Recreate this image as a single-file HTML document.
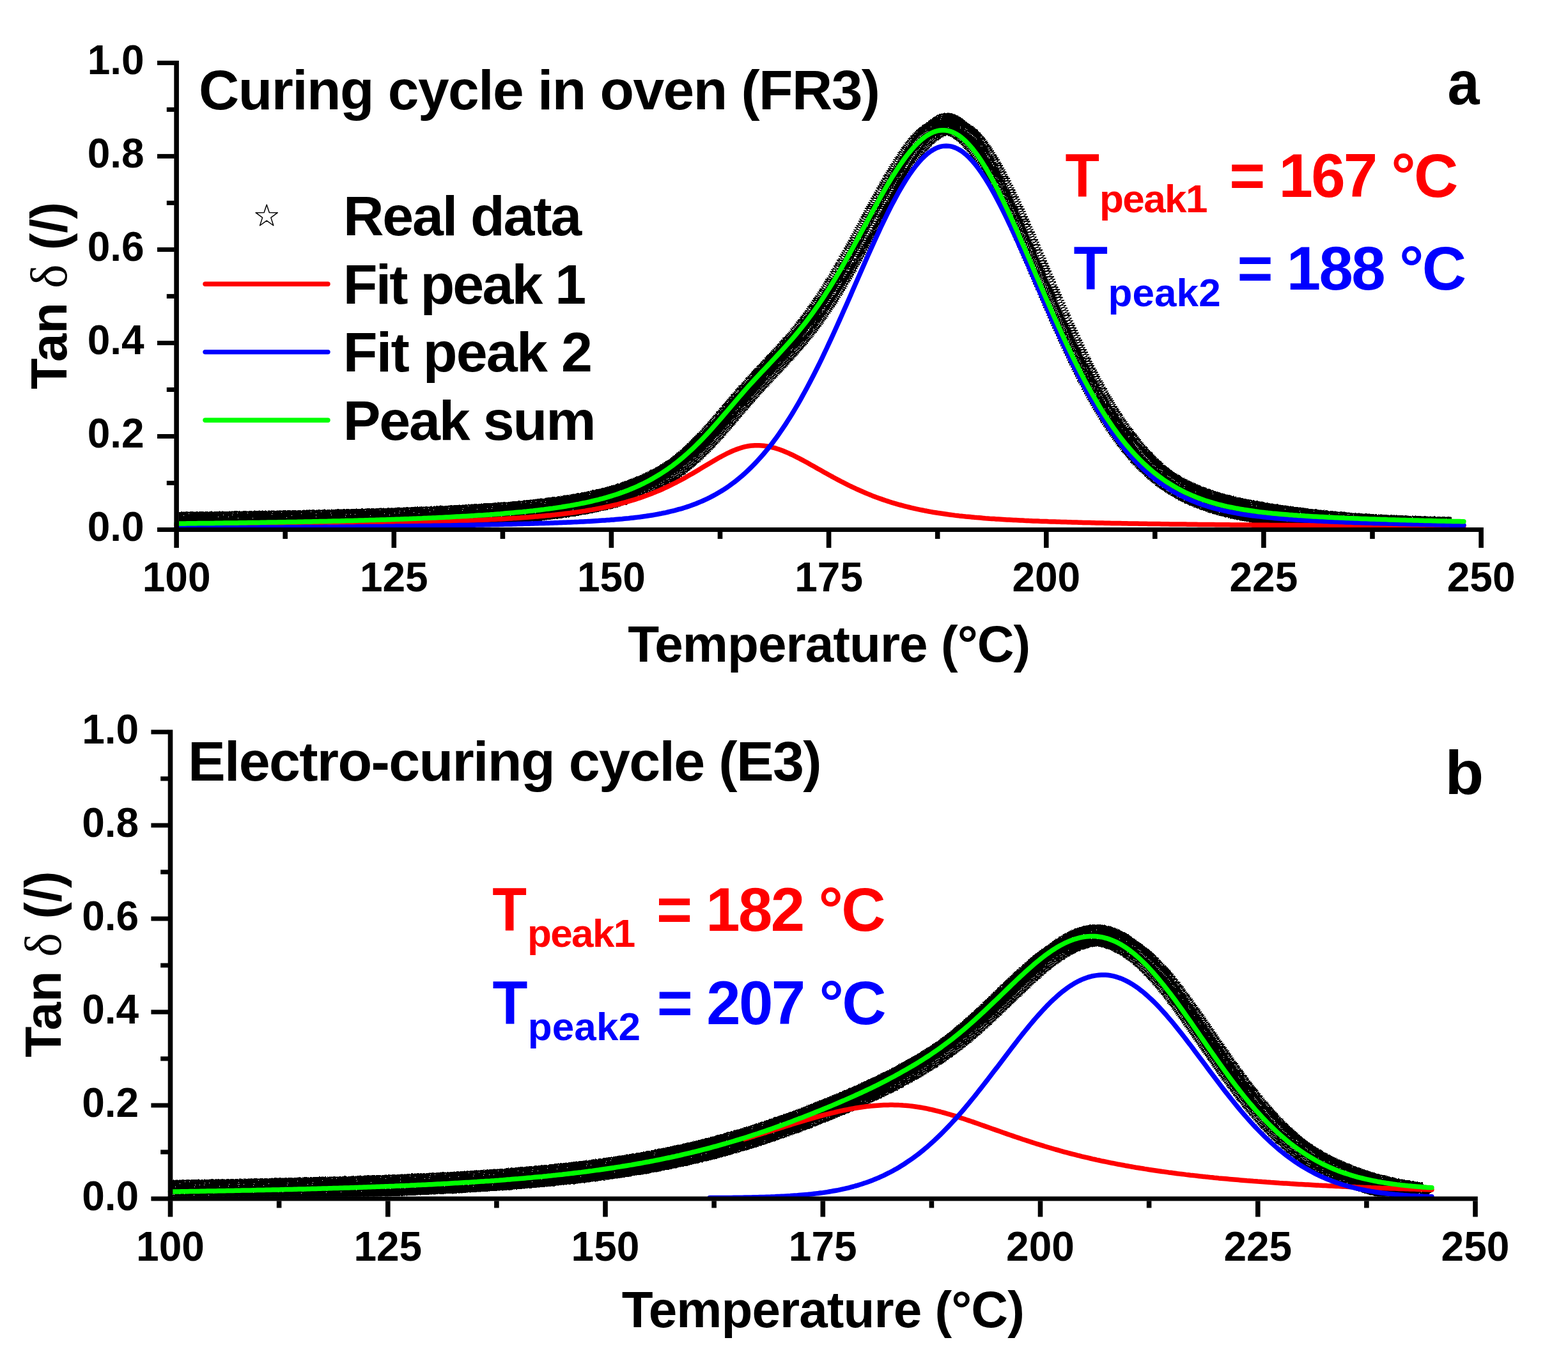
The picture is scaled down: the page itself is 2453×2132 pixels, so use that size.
<!DOCTYPE html><html><head><meta charset="utf-8"><title>Tan delta curing cycles</title><style>html,body{margin:0;padding:0;background:#fff}svg{display:block}</style></head><body>
<svg xmlns="http://www.w3.org/2000/svg" xmlns:xlink="http://www.w3.org/1999/xlink" width="2453" height="2132" viewBox="0 0 2453 2132">
<rect width="2453" height="2132" fill="#fff"/>
<defs><path id="st" d="M0.00,-18.00 L4.11,-5.66 L17.12,-5.56 L6.66,2.16 L10.58,14.56 L0.00,7.00 L-10.58,14.56 L-6.66,2.16 L-17.12,-5.56 L-4.11,-5.66 Z" fill="none" stroke="#000" stroke-width="1.5" stroke-linejoin="round"/>
<clipPath id="ca"><rect x="280" y="60" width="2009" height="765"/></clipPath>
<clipPath id="cb"><rect x="270" y="1100" width="1972" height="771.5"/></clipPath>
</defs>
<g clip-path="url(#ca)" shape-rendering="crispEdges">
<use xlink:href="#st" x="276.1" y="818.7"/>
<use xlink:href="#st" x="277.9" y="819"/>
<use xlink:href="#st" x="279.6" y="819"/>
<use xlink:href="#st" x="281.4" y="819.4"/>
<use xlink:href="#st" x="283.2" y="819.1"/>
<use xlink:href="#st" x="284.9" y="819.1"/>
<use xlink:href="#st" x="286.7" y="819"/>
<use xlink:href="#st" x="288.5" y="819.1"/>
<use xlink:href="#st" x="290.3" y="818.9"/>
<use xlink:href="#st" x="292" y="819"/>
<use xlink:href="#st" x="293.8" y="819.2"/>
<use xlink:href="#st" x="295.6" y="818.7"/>
<use xlink:href="#st" x="297.3" y="818.7"/>
<use xlink:href="#st" x="299.1" y="818.5"/>
<use xlink:href="#st" x="300.9" y="818.8"/>
<use xlink:href="#st" x="302.6" y="818.9"/>
<use xlink:href="#st" x="304.4" y="818.9"/>
<use xlink:href="#st" x="306.2" y="819.1"/>
<use xlink:href="#st" x="307.9" y="818.5"/>
<use xlink:href="#st" x="309.7" y="819"/>
<use xlink:href="#st" x="311.5" y="819"/>
<use xlink:href="#st" x="313.2" y="818.7"/>
<use xlink:href="#st" x="315" y="818.3"/>
<use xlink:href="#st" x="316.8" y="818.6"/>
<use xlink:href="#st" x="318.6" y="818.8"/>
<use xlink:href="#st" x="320.3" y="818.8"/>
<use xlink:href="#st" x="322.1" y="818.4"/>
<use xlink:href="#st" x="323.9" y="818.6"/>
<use xlink:href="#st" x="325.6" y="818.7"/>
<use xlink:href="#st" x="327.4" y="818.6"/>
<use xlink:href="#st" x="329.2" y="818.3"/>
<use xlink:href="#st" x="330.9" y="818"/>
<use xlink:href="#st" x="332.7" y="818.7"/>
<use xlink:href="#st" x="334.5" y="818.6"/>
<use xlink:href="#st" x="336.2" y="818.6"/>
<use xlink:href="#st" x="338" y="818.9"/>
<use xlink:href="#st" x="339.8" y="818.6"/>
<use xlink:href="#st" x="341.5" y="818.6"/>
<use xlink:href="#st" x="343.3" y="818.1"/>
<use xlink:href="#st" x="345.1" y="818.3"/>
<use xlink:href="#st" x="346.9" y="818.6"/>
<use xlink:href="#st" x="348.6" y="818.1"/>
<use xlink:href="#st" x="350.4" y="818.3"/>
<use xlink:href="#st" x="352.2" y="818.6"/>
<use xlink:href="#st" x="353.9" y="818.3"/>
<use xlink:href="#st" x="355.7" y="818.3"/>
<use xlink:href="#st" x="357.5" y="818.3"/>
<use xlink:href="#st" x="359.2" y="818.1"/>
<use xlink:href="#st" x="361" y="818.6"/>
<use xlink:href="#st" x="362.8" y="818.1"/>
<use xlink:href="#st" x="364.5" y="817.8"/>
<use xlink:href="#st" x="366.3" y="817.8"/>
<use xlink:href="#st" x="368.1" y="817.8"/>
<use xlink:href="#st" x="369.8" y="817.7"/>
<use xlink:href="#st" x="371.6" y="817.6"/>
<use xlink:href="#st" x="373.4" y="818.2"/>
<use xlink:href="#st" x="375.2" y="817.7"/>
<use xlink:href="#st" x="376.9" y="818.3"/>
<use xlink:href="#st" x="378.7" y="818"/>
<use xlink:href="#st" x="380.5" y="818.2"/>
<use xlink:href="#st" x="382.2" y="817.6"/>
<use xlink:href="#st" x="384" y="817.5"/>
<use xlink:href="#st" x="385.8" y="817.8"/>
<use xlink:href="#st" x="387.5" y="817.3"/>
<use xlink:href="#st" x="389.3" y="817.8"/>
<use xlink:href="#st" x="391.1" y="817.6"/>
<use xlink:href="#st" x="392.8" y="817.6"/>
<use xlink:href="#st" x="394.6" y="817.9"/>
<use xlink:href="#st" x="396.4" y="817.5"/>
<use xlink:href="#st" x="398.2" y="817.1"/>
<use xlink:href="#st" x="399.9" y="817.8"/>
<use xlink:href="#st" x="401.7" y="817.3"/>
<use xlink:href="#st" x="403.5" y="817.5"/>
<use xlink:href="#st" x="405.2" y="817.1"/>
<use xlink:href="#st" x="407" y="817.3"/>
<use xlink:href="#st" x="408.8" y="817.3"/>
<use xlink:href="#st" x="410.5" y="817.2"/>
<use xlink:href="#st" x="412.3" y="817.3"/>
<use xlink:href="#st" x="414.1" y="817.6"/>
<use xlink:href="#st" x="415.8" y="817"/>
<use xlink:href="#st" x="417.6" y="817.6"/>
<use xlink:href="#st" x="419.4" y="817.2"/>
<use xlink:href="#st" x="421.1" y="817.1"/>
<use xlink:href="#st" x="422.9" y="817.4"/>
<use xlink:href="#st" x="424.7" y="817.1"/>
<use xlink:href="#st" x="426.5" y="816.9"/>
<use xlink:href="#st" x="428.2" y="817.1"/>
<use xlink:href="#st" x="430" y="817.3"/>
<use xlink:href="#st" x="431.8" y="817.7"/>
<use xlink:href="#st" x="433.5" y="817.2"/>
<use xlink:href="#st" x="435.3" y="817.1"/>
<use xlink:href="#st" x="437.1" y="817.1"/>
<use xlink:href="#st" x="438.8" y="817.1"/>
<use xlink:href="#st" x="440.6" y="816.8"/>
<use xlink:href="#st" x="442.4" y="817"/>
<use xlink:href="#st" x="444.1" y="816.8"/>
<use xlink:href="#st" x="445.9" y="816.6"/>
<use xlink:href="#st" x="447.7" y="817"/>
<use xlink:href="#st" x="449.4" y="816.8"/>
<use xlink:href="#st" x="451.2" y="816.2"/>
<use xlink:href="#st" x="453" y="816.5"/>
<use xlink:href="#st" x="454.8" y="816.9"/>
<use xlink:href="#st" x="456.5" y="816.6"/>
<use xlink:href="#st" x="458.3" y="816.5"/>
<use xlink:href="#st" x="460.1" y="816.3"/>
<use xlink:href="#st" x="461.8" y="816.5"/>
<use xlink:href="#st" x="463.6" y="816.6"/>
<use xlink:href="#st" x="465.4" y="816.6"/>
<use xlink:href="#st" x="467.1" y="816.3"/>
<use xlink:href="#st" x="468.9" y="816.3"/>
<use xlink:href="#st" x="470.7" y="816.5"/>
<use xlink:href="#st" x="472.4" y="816.4"/>
<use xlink:href="#st" x="474.2" y="816.4"/>
<use xlink:href="#st" x="476" y="816.1"/>
<use xlink:href="#st" x="477.8" y="816.4"/>
<use xlink:href="#st" x="479.5" y="816.1"/>
<use xlink:href="#st" x="481.3" y="816"/>
<use xlink:href="#st" x="483.1" y="816"/>
<use xlink:href="#st" x="484.8" y="816.2"/>
<use xlink:href="#st" x="486.6" y="815.7"/>
<use xlink:href="#st" x="488.4" y="816.1"/>
<use xlink:href="#st" x="490.1" y="815.9"/>
<use xlink:href="#st" x="491.9" y="816.1"/>
<use xlink:href="#st" x="493.7" y="816.3"/>
<use xlink:href="#st" x="495.4" y="815.8"/>
<use xlink:href="#st" x="497.2" y="815.8"/>
<use xlink:href="#st" x="499" y="815.8"/>
<use xlink:href="#st" x="500.7" y="815.7"/>
<use xlink:href="#st" x="502.5" y="815.8"/>
<use xlink:href="#st" x="504.3" y="815.8"/>
<use xlink:href="#st" x="506.1" y="815.7"/>
<use xlink:href="#st" x="507.8" y="815.2"/>
<use xlink:href="#st" x="509.6" y="815.4"/>
<use xlink:href="#st" x="511.4" y="815.6"/>
<use xlink:href="#st" x="513.1" y="815.3"/>
<use xlink:href="#st" x="514.9" y="815.5"/>
<use xlink:href="#st" x="516.7" y="815.5"/>
<use xlink:href="#st" x="518.4" y="815.2"/>
<use xlink:href="#st" x="520.2" y="815.4"/>
<use xlink:href="#st" x="522" y="815.6"/>
<use xlink:href="#st" x="523.7" y="815.4"/>
<use xlink:href="#st" x="525.5" y="815.2"/>
<use xlink:href="#st" x="527.3" y="815.1"/>
<use xlink:href="#st" x="529" y="814.8"/>
<use xlink:href="#st" x="530.8" y="815.2"/>
<use xlink:href="#st" x="532.6" y="814.9"/>
<use xlink:href="#st" x="534.4" y="814.9"/>
<use xlink:href="#st" x="536.1" y="815"/>
<use xlink:href="#st" x="537.9" y="814.7"/>
<use xlink:href="#st" x="539.7" y="814.7"/>
<use xlink:href="#st" x="541.4" y="815"/>
<use xlink:href="#st" x="543.2" y="814.5"/>
<use xlink:href="#st" x="545" y="815"/>
<use xlink:href="#st" x="546.7" y="814.7"/>
<use xlink:href="#st" x="548.5" y="814.6"/>
<use xlink:href="#st" x="550.3" y="814.5"/>
<use xlink:href="#st" x="552" y="814.7"/>
<use xlink:href="#st" x="553.8" y="814.5"/>
<use xlink:href="#st" x="555.6" y="814.5"/>
<use xlink:href="#st" x="557.3" y="814.2"/>
<use xlink:href="#st" x="559.1" y="814.5"/>
<use xlink:href="#st" x="560.9" y="814.3"/>
<use xlink:href="#st" x="562.7" y="814.3"/>
<use xlink:href="#st" x="564.4" y="814.5"/>
<use xlink:href="#st" x="566.2" y="813.6"/>
<use xlink:href="#st" x="568" y="814.1"/>
<use xlink:href="#st" x="569.7" y="814.4"/>
<use xlink:href="#st" x="571.5" y="813.7"/>
<use xlink:href="#st" x="573.3" y="814.2"/>
<use xlink:href="#st" x="575" y="813.8"/>
<use xlink:href="#st" x="576.8" y="813.7"/>
<use xlink:href="#st" x="578.6" y="814"/>
<use xlink:href="#st" x="580.3" y="813.9"/>
<use xlink:href="#st" x="582.1" y="813.8"/>
<use xlink:href="#st" x="583.9" y="813.7"/>
<use xlink:href="#st" x="585.7" y="814"/>
<use xlink:href="#st" x="587.4" y="813.8"/>
<use xlink:href="#st" x="589.2" y="813.5"/>
<use xlink:href="#st" x="591" y="813.2"/>
<use xlink:href="#st" x="592.7" y="813.3"/>
<use xlink:href="#st" x="594.5" y="813"/>
<use xlink:href="#st" x="596.3" y="813.1"/>
<use xlink:href="#st" x="598" y="813.4"/>
<use xlink:href="#st" x="599.8" y="813.2"/>
<use xlink:href="#st" x="601.6" y="813.6"/>
<use xlink:href="#st" x="603.3" y="813.3"/>
<use xlink:href="#st" x="605.1" y="813.2"/>
<use xlink:href="#st" x="606.9" y="812.9"/>
<use xlink:href="#st" x="608.6" y="812.8"/>
<use xlink:href="#st" x="610.4" y="813"/>
<use xlink:href="#st" x="612.2" y="812.9"/>
<use xlink:href="#st" x="614" y="813.1"/>
<use xlink:href="#st" x="615.7" y="812.7"/>
<use xlink:href="#st" x="617.5" y="812.6"/>
<use xlink:href="#st" x="619.3" y="812.5"/>
<use xlink:href="#st" x="621" y="812.7"/>
<use xlink:href="#st" x="622.8" y="812"/>
<use xlink:href="#st" x="624.6" y="812.1"/>
<use xlink:href="#st" x="626.3" y="812.3"/>
<use xlink:href="#st" x="628.1" y="812.4"/>
<use xlink:href="#st" x="629.9" y="812.3"/>
<use xlink:href="#st" x="631.6" y="812.1"/>
<use xlink:href="#st" x="633.4" y="812.1"/>
<use xlink:href="#st" x="635.2" y="811.9"/>
<use xlink:href="#st" x="636.9" y="811.8"/>
<use xlink:href="#st" x="638.7" y="811.6"/>
<use xlink:href="#st" x="640.5" y="811.6"/>
<use xlink:href="#st" x="642.3" y="811.8"/>
<use xlink:href="#st" x="644" y="811.6"/>
<use xlink:href="#st" x="645.8" y="811.7"/>
<use xlink:href="#st" x="647.6" y="811.7"/>
<use xlink:href="#st" x="649.3" y="811.1"/>
<use xlink:href="#st" x="651.1" y="811.5"/>
<use xlink:href="#st" x="652.9" y="810.9"/>
<use xlink:href="#st" x="654.6" y="811.3"/>
<use xlink:href="#st" x="656.4" y="811.1"/>
<use xlink:href="#st" x="658.2" y="810.9"/>
<use xlink:href="#st" x="659.9" y="811"/>
<use xlink:href="#st" x="661.7" y="810.9"/>
<use xlink:href="#st" x="663.5" y="811"/>
<use xlink:href="#st" x="665.3" y="810.9"/>
<use xlink:href="#st" x="667" y="810.8"/>
<use xlink:href="#st" x="668.8" y="810.8"/>
<use xlink:href="#st" x="670.6" y="810.3"/>
<use xlink:href="#st" x="672.3" y="810.6"/>
<use xlink:href="#st" x="674.1" y="810.1"/>
<use xlink:href="#st" x="675.9" y="811"/>
<use xlink:href="#st" x="677.6" y="810.3"/>
<use xlink:href="#st" x="679.4" y="810.1"/>
<use xlink:href="#st" x="681.2" y="810.2"/>
<use xlink:href="#st" x="682.9" y="809.8"/>
<use xlink:href="#st" x="684.7" y="809.9"/>
<use xlink:href="#st" x="686.5" y="810"/>
<use xlink:href="#st" x="688.2" y="809.7"/>
<use xlink:href="#st" x="690" y="809.1"/>
<use xlink:href="#st" x="691.8" y="809.6"/>
<use xlink:href="#st" x="693.6" y="809.5"/>
<use xlink:href="#st" x="695.3" y="809.6"/>
<use xlink:href="#st" x="697.1" y="809.4"/>
<use xlink:href="#st" x="698.9" y="809.6"/>
<use xlink:href="#st" x="700.6" y="809.3"/>
<use xlink:href="#st" x="702.4" y="808.6"/>
<use xlink:href="#st" x="704.2" y="808.8"/>
<use xlink:href="#st" x="705.9" y="808.8"/>
<use xlink:href="#st" x="707.7" y="808.6"/>
<use xlink:href="#st" x="709.5" y="808.4"/>
<use xlink:href="#st" x="711.2" y="808.6"/>
<use xlink:href="#st" x="713" y="808.2"/>
<use xlink:href="#st" x="714.8" y="808.3"/>
<use xlink:href="#st" x="716.5" y="808.4"/>
<use xlink:href="#st" x="718.3" y="808"/>
<use xlink:href="#st" x="720.1" y="808.8"/>
<use xlink:href="#st" x="721.9" y="808.3"/>
<use xlink:href="#st" x="723.6" y="808"/>
<use xlink:href="#st" x="725.4" y="808.1"/>
<use xlink:href="#st" x="727.2" y="807.9"/>
<use xlink:href="#st" x="728.9" y="807.9"/>
<use xlink:href="#st" x="730.7" y="807.8"/>
<use xlink:href="#st" x="732.5" y="807"/>
<use xlink:href="#st" x="734.2" y="807.3"/>
<use xlink:href="#st" x="736" y="807.4"/>
<use xlink:href="#st" x="737.8" y="806.9"/>
<use xlink:href="#st" x="739.5" y="807.2"/>
<use xlink:href="#st" x="741.3" y="806.8"/>
<use xlink:href="#st" x="743.1" y="806.8"/>
<use xlink:href="#st" x="744.8" y="806.5"/>
<use xlink:href="#st" x="746.6" y="807"/>
<use xlink:href="#st" x="748.4" y="806.4"/>
<use xlink:href="#st" x="750.2" y="806.5"/>
<use xlink:href="#st" x="751.9" y="806.6"/>
<use xlink:href="#st" x="753.7" y="806"/>
<use xlink:href="#st" x="755.5" y="806.3"/>
<use xlink:href="#st" x="757.2" y="805.7"/>
<use xlink:href="#st" x="759" y="805.8"/>
<use xlink:href="#st" x="760.8" y="805.6"/>
<use xlink:href="#st" x="762.5" y="805.6"/>
<use xlink:href="#st" x="764.3" y="805.3"/>
<use xlink:href="#st" x="766.1" y="805.8"/>
<use xlink:href="#st" x="767.8" y="805.3"/>
<use xlink:href="#st" x="769.6" y="805.3"/>
<use xlink:href="#st" x="771.4" y="805"/>
<use xlink:href="#st" x="773.2" y="804.9"/>
<use xlink:href="#st" x="774.9" y="804.7"/>
<use xlink:href="#st" x="776.7" y="804.8"/>
<use xlink:href="#st" x="778.5" y="804.1"/>
<use xlink:href="#st" x="780.2" y="803.9"/>
<use xlink:href="#st" x="782" y="804.3"/>
<use xlink:href="#st" x="783.8" y="804.1"/>
<use xlink:href="#st" x="785.5" y="803.9"/>
<use xlink:href="#st" x="787.3" y="803.6"/>
<use xlink:href="#st" x="789.1" y="803.3"/>
<use xlink:href="#st" x="790.8" y="803.8"/>
<use xlink:href="#st" x="792.6" y="803.6"/>
<use xlink:href="#st" x="794.4" y="803.5"/>
<use xlink:href="#st" x="796.1" y="803.4"/>
<use xlink:href="#st" x="797.9" y="803.4"/>
<use xlink:href="#st" x="799.7" y="802.8"/>
<use xlink:href="#st" x="801.5" y="803"/>
<use xlink:href="#st" x="803.2" y="802.2"/>
<use xlink:href="#st" x="805" y="802.2"/>
<use xlink:href="#st" x="806.8" y="802.5"/>
<use xlink:href="#st" x="808.5" y="802.3"/>
<use xlink:href="#st" x="810.3" y="802.1"/>
<use xlink:href="#st" x="812.1" y="801.5"/>
<use xlink:href="#st" x="813.8" y="801.8"/>
<use xlink:href="#st" x="815.6" y="801.8"/>
<use xlink:href="#st" x="817.4" y="801.3"/>
<use xlink:href="#st" x="819.1" y="801"/>
<use xlink:href="#st" x="820.9" y="801.1"/>
<use xlink:href="#st" x="822.7" y="800.4"/>
<use xlink:href="#st" x="824.4" y="800.5"/>
<use xlink:href="#st" x="826.2" y="800.3"/>
<use xlink:href="#st" x="828" y="800.4"/>
<use xlink:href="#st" x="829.8" y="800.1"/>
<use xlink:href="#st" x="831.5" y="799.9"/>
<use xlink:href="#st" x="833.3" y="800.2"/>
<use xlink:href="#st" x="835.1" y="799.4"/>
<use xlink:href="#st" x="836.8" y="799.7"/>
<use xlink:href="#st" x="838.6" y="799.1"/>
<use xlink:href="#st" x="840.4" y="799.2"/>
<use xlink:href="#st" x="842.1" y="798.3"/>
<use xlink:href="#st" x="843.9" y="798.4"/>
<use xlink:href="#st" x="845.7" y="798.1"/>
<use xlink:href="#st" x="847.4" y="797.9"/>
<use xlink:href="#st" x="849.2" y="798.2"/>
<use xlink:href="#st" x="851" y="798.2"/>
<use xlink:href="#st" x="852.8" y="797.6"/>
<use xlink:href="#st" x="854.5" y="797.1"/>
<use xlink:href="#st" x="856.3" y="797"/>
<use xlink:href="#st" x="858.1" y="796.7"/>
<use xlink:href="#st" x="859.8" y="796.4"/>
<use xlink:href="#st" x="861.6" y="796.7"/>
<use xlink:href="#st" x="863.4" y="796.1"/>
<use xlink:href="#st" x="865.1" y="795.5"/>
<use xlink:href="#st" x="866.9" y="795.8"/>
<use xlink:href="#st" x="868.7" y="795.9"/>
<use xlink:href="#st" x="870.4" y="795.3"/>
<use xlink:href="#st" x="872.2" y="795.1"/>
<use xlink:href="#st" x="874" y="794.6"/>
<use xlink:href="#st" x="875.7" y="794.7"/>
<use xlink:href="#st" x="877.5" y="794.2"/>
<use xlink:href="#st" x="879.3" y="794.4"/>
<use xlink:href="#st" x="881.1" y="793.5"/>
<use xlink:href="#st" x="882.8" y="793.1"/>
<use xlink:href="#st" x="884.6" y="792.9"/>
<use xlink:href="#st" x="886.4" y="793.2"/>
<use xlink:href="#st" x="888.1" y="792.5"/>
<use xlink:href="#st" x="889.9" y="793"/>
<use xlink:href="#st" x="891.7" y="792"/>
<use xlink:href="#st" x="893.4" y="791.7"/>
<use xlink:href="#st" x="895.2" y="791.7"/>
<use xlink:href="#st" x="897" y="791.1"/>
<use xlink:href="#st" x="898.7" y="790.8"/>
<use xlink:href="#st" x="900.5" y="790.3"/>
<use xlink:href="#st" x="902.3" y="790.2"/>
<use xlink:href="#st" x="904" y="789.8"/>
<use xlink:href="#st" x="905.8" y="790"/>
<use xlink:href="#st" x="907.6" y="789.5"/>
<use xlink:href="#st" x="909.4" y="789"/>
<use xlink:href="#st" x="911.1" y="788.5"/>
<use xlink:href="#st" x="912.9" y="788.2"/>
<use xlink:href="#st" x="914.7" y="787.6"/>
<use xlink:href="#st" x="916.4" y="787.7"/>
<use xlink:href="#st" x="918.2" y="787.2"/>
<use xlink:href="#st" x="920" y="786.8"/>
<use xlink:href="#st" x="921.7" y="786.5"/>
<use xlink:href="#st" x="923.5" y="786"/>
<use xlink:href="#st" x="925.3" y="785.8"/>
<use xlink:href="#st" x="927" y="785"/>
<use xlink:href="#st" x="928.8" y="785"/>
<use xlink:href="#st" x="930.6" y="784.3"/>
<use xlink:href="#st" x="932.3" y="784.1"/>
<use xlink:href="#st" x="934.1" y="783.4"/>
<use xlink:href="#st" x="935.9" y="783.6"/>
<use xlink:href="#st" x="937.7" y="782.7"/>
<use xlink:href="#st" x="939.4" y="782.5"/>
<use xlink:href="#st" x="941.2" y="781.9"/>
<use xlink:href="#st" x="943" y="781.3"/>
<use xlink:href="#st" x="944.7" y="781.3"/>
<use xlink:href="#st" x="946.5" y="780.9"/>
<use xlink:href="#st" x="948.3" y="780.4"/>
<use xlink:href="#st" x="950" y="779.6"/>
<use xlink:href="#st" x="951.8" y="779.6"/>
<use xlink:href="#st" x="953.6" y="778.7"/>
<use xlink:href="#st" x="955.3" y="778.5"/>
<use xlink:href="#st" x="957.1" y="777.9"/>
<use xlink:href="#st" x="958.9" y="777.3"/>
<use xlink:href="#st" x="960.7" y="776.6"/>
<use xlink:href="#st" x="962.4" y="776.3"/>
<use xlink:href="#st" x="964.2" y="775.7"/>
<use xlink:href="#st" x="966" y="775"/>
<use xlink:href="#st" x="967.7" y="774.5"/>
<use xlink:href="#st" x="969.5" y="774.5"/>
<use xlink:href="#st" x="971.3" y="773.4"/>
<use xlink:href="#st" x="973" y="772.7"/>
<use xlink:href="#st" x="974.8" y="771.9"/>
<use xlink:href="#st" x="976.6" y="771.1"/>
<use xlink:href="#st" x="978.3" y="770.7"/>
<use xlink:href="#st" x="980.1" y="770.2"/>
<use xlink:href="#st" x="981.9" y="769.8"/>
<use xlink:href="#st" x="983.6" y="768.9"/>
<use xlink:href="#st" x="985.4" y="768.1"/>
<use xlink:href="#st" x="987.2" y="767.4"/>
<use xlink:href="#st" x="989" y="767.1"/>
<use xlink:href="#st" x="990.7" y="766.2"/>
<use xlink:href="#st" x="992.5" y="765.4"/>
<use xlink:href="#st" x="994.3" y="764.4"/>
<use xlink:href="#st" x="996" y="764"/>
<use xlink:href="#st" x="997.8" y="763.5"/>
<use xlink:href="#st" x="999.6" y="762.7"/>
<use xlink:href="#st" x="1001.3" y="761.9"/>
<use xlink:href="#st" x="1003.1" y="761.2"/>
<use xlink:href="#st" x="1004.9" y="760"/>
<use xlink:href="#st" x="1006.6" y="759.2"/>
<use xlink:href="#st" x="1008.4" y="758.4"/>
<use xlink:href="#st" x="1010.2" y="757.5"/>
<use xlink:href="#st" x="1011.9" y="757"/>
<use xlink:href="#st" x="1013.7" y="756"/>
<use xlink:href="#st" x="1015.5" y="755.2"/>
<use xlink:href="#st" x="1017.3" y="754.2"/>
<use xlink:href="#st" x="1019" y="753.1"/>
<use xlink:href="#st" x="1020.8" y="752.4"/>
<use xlink:href="#st" x="1022.6" y="751.9"/>
<use xlink:href="#st" x="1024.3" y="750.6"/>
<use xlink:href="#st" x="1026.1" y="749.7"/>
<use xlink:href="#st" x="1027.9" y="748.9"/>
<use xlink:href="#st" x="1029.6" y="747.7"/>
<use xlink:href="#st" x="1031.4" y="746.3"/>
<use xlink:href="#st" x="1033.2" y="745.1"/>
<use xlink:href="#st" x="1034.9" y="744.5"/>
<use xlink:href="#st" x="1036.7" y="743.1"/>
<use xlink:href="#st" x="1038.5" y="742"/>
<use xlink:href="#st" x="1040.3" y="741.4"/>
<use xlink:href="#st" x="1042" y="740"/>
<use xlink:href="#st" x="1043.8" y="738.9"/>
<use xlink:href="#st" x="1045.6" y="737.7"/>
<use xlink:href="#st" x="1047.3" y="736.9"/>
<use xlink:href="#st" x="1049.1" y="735.4"/>
<use xlink:href="#st" x="1050.9" y="733.9"/>
<use xlink:href="#st" x="1052.6" y="732.6"/>
<use xlink:href="#st" x="1054.4" y="731.2"/>
<use xlink:href="#st" x="1056.2" y="730.4"/>
<use xlink:href="#st" x="1057.9" y="728.6"/>
<use xlink:href="#st" x="1059.7" y="727.6"/>
<use xlink:href="#st" x="1061.5" y="726.7"/>
<use xlink:href="#st" x="1063.2" y="724.9"/>
<use xlink:href="#st" x="1065" y="723.8"/>
<use xlink:href="#st" x="1066.8" y="722.2"/>
<use xlink:href="#st" x="1068.6" y="720.9"/>
<use xlink:href="#st" x="1070.3" y="719.2"/>
<use xlink:href="#st" x="1072.1" y="717.9"/>
<use xlink:href="#st" x="1073.9" y="716.6"/>
<use xlink:href="#st" x="1075.6" y="714.8"/>
<use xlink:href="#st" x="1077.4" y="713.4"/>
<use xlink:href="#st" x="1079.2" y="712"/>
<use xlink:href="#st" x="1080.9" y="710.1"/>
<use xlink:href="#st" x="1082.7" y="708.9"/>
<use xlink:href="#st" x="1084.5" y="707.4"/>
<use xlink:href="#st" x="1086.2" y="705.7"/>
<use xlink:href="#st" x="1088" y="704.3"/>
<use xlink:href="#st" x="1089.8" y="702.4"/>
<use xlink:href="#st" x="1091.5" y="700.2"/>
<use xlink:href="#st" x="1093.3" y="699.1"/>
<use xlink:href="#st" x="1095.1" y="697.2"/>
<use xlink:href="#st" x="1096.9" y="695.7"/>
<use xlink:href="#st" x="1098.6" y="693.8"/>
<use xlink:href="#st" x="1100.4" y="691.6"/>
<use xlink:href="#st" x="1102.2" y="689.9"/>
<use xlink:href="#st" x="1103.9" y="688.5"/>
<use xlink:href="#st" x="1105.7" y="686.5"/>
<use xlink:href="#st" x="1107.5" y="684.8"/>
<use xlink:href="#st" x="1109.2" y="682.9"/>
<use xlink:href="#st" x="1111" y="681.1"/>
<use xlink:href="#st" x="1112.8" y="679.2"/>
<use xlink:href="#st" x="1114.5" y="677"/>
<use xlink:href="#st" x="1116.3" y="675"/>
<use xlink:href="#st" x="1118.1" y="673.1"/>
<use xlink:href="#st" x="1119.8" y="671.3"/>
<use xlink:href="#st" x="1121.6" y="669.6"/>
<use xlink:href="#st" x="1123.4" y="667.3"/>
<use xlink:href="#st" x="1125.2" y="665.5"/>
<use xlink:href="#st" x="1126.9" y="663.1"/>
<use xlink:href="#st" x="1128.7" y="661.2"/>
<use xlink:href="#st" x="1130.5" y="659.1"/>
<use xlink:href="#st" x="1132.2" y="657.3"/>
<use xlink:href="#st" x="1134" y="655.6"/>
<use xlink:href="#st" x="1135.8" y="652.9"/>
<use xlink:href="#st" x="1137.5" y="650.8"/>
<use xlink:href="#st" x="1139.3" y="649.3"/>
<use xlink:href="#st" x="1141.1" y="646.9"/>
<use xlink:href="#st" x="1142.8" y="644.6"/>
<use xlink:href="#st" x="1144.6" y="643"/>
<use xlink:href="#st" x="1146.4" y="640.3"/>
<use xlink:href="#st" x="1148.2" y="638.7"/>
<use xlink:href="#st" x="1149.9" y="636.8"/>
<use xlink:href="#st" x="1151.7" y="634.2"/>
<use xlink:href="#st" x="1153.5" y="632.3"/>
<use xlink:href="#st" x="1155.2" y="630.4"/>
<use xlink:href="#st" x="1157" y="628"/>
<use xlink:href="#st" x="1158.8" y="626.6"/>
<use xlink:href="#st" x="1160.5" y="623.7"/>
<use xlink:href="#st" x="1162.3" y="622.2"/>
<use xlink:href="#st" x="1164.1" y="619.9"/>
<use xlink:href="#st" x="1165.8" y="618"/>
<use xlink:href="#st" x="1167.6" y="615.8"/>
<use xlink:href="#st" x="1169.4" y="613.7"/>
<use xlink:href="#st" x="1171.1" y="612"/>
<use xlink:href="#st" x="1172.9" y="609.7"/>
<use xlink:href="#st" x="1174.7" y="607.9"/>
<use xlink:href="#st" x="1176.5" y="606"/>
<use xlink:href="#st" x="1178.2" y="603.9"/>
<use xlink:href="#st" x="1180" y="602.1"/>
<use xlink:href="#st" x="1181.8" y="600.1"/>
<use xlink:href="#st" x="1183.5" y="597.8"/>
<use xlink:href="#st" x="1185.3" y="596.1"/>
<use xlink:href="#st" x="1187.1" y="593.9"/>
<use xlink:href="#st" x="1188.8" y="592.1"/>
<use xlink:href="#st" x="1190.6" y="590.5"/>
<use xlink:href="#st" x="1192.4" y="588.8"/>
<use xlink:href="#st" x="1194.1" y="586.6"/>
<use xlink:href="#st" x="1195.9" y="584.6"/>
<use xlink:href="#st" x="1197.7" y="582.7"/>
<use xlink:href="#st" x="1199.4" y="581"/>
<use xlink:href="#st" x="1201.2" y="578.7"/>
<use xlink:href="#st" x="1203" y="577.5"/>
<use xlink:href="#st" x="1204.8" y="575.5"/>
<use xlink:href="#st" x="1206.5" y="573.3"/>
<use xlink:href="#st" x="1208.3" y="571"/>
<use xlink:href="#st" x="1210.1" y="569.5"/>
<use xlink:href="#st" x="1211.8" y="567.9"/>
<use xlink:href="#st" x="1213.6" y="565.7"/>
<use xlink:href="#st" x="1215.4" y="563.8"/>
<use xlink:href="#st" x="1217.1" y="561.8"/>
<use xlink:href="#st" x="1218.9" y="560.3"/>
<use xlink:href="#st" x="1220.7" y="558.4"/>
<use xlink:href="#st" x="1222.4" y="556.3"/>
<use xlink:href="#st" x="1224.2" y="554.4"/>
<use xlink:href="#st" x="1226" y="552.2"/>
<use xlink:href="#st" x="1227.8" y="550.2"/>
<use xlink:href="#st" x="1229.5" y="548.9"/>
<use xlink:href="#st" x="1231.3" y="546.9"/>
<use xlink:href="#st" x="1233.1" y="544.8"/>
<use xlink:href="#st" x="1234.8" y="542.9"/>
<use xlink:href="#st" x="1236.6" y="540.8"/>
<use xlink:href="#st" x="1238.4" y="538.8"/>
<use xlink:href="#st" x="1240.1" y="536.9"/>
<use xlink:href="#st" x="1241.9" y="534.6"/>
<use xlink:href="#st" x="1243.7" y="532.9"/>
<use xlink:href="#st" x="1245.4" y="531.1"/>
<use xlink:href="#st" x="1247.2" y="529.1"/>
<use xlink:href="#st" x="1249" y="526.9"/>
<use xlink:href="#st" x="1250.7" y="524.9"/>
<use xlink:href="#st" x="1252.5" y="522.9"/>
<use xlink:href="#st" x="1254.3" y="520.3"/>
<use xlink:href="#st" x="1256.1" y="518.2"/>
<use xlink:href="#st" x="1257.8" y="516.2"/>
<use xlink:href="#st" x="1259.6" y="514.1"/>
<use xlink:href="#st" x="1261.4" y="512"/>
<use xlink:href="#st" x="1263.1" y="509.6"/>
<use xlink:href="#st" x="1264.9" y="506.8"/>
<use xlink:href="#st" x="1266.7" y="505.4"/>
<use xlink:href="#st" x="1268.4" y="502.6"/>
<use xlink:href="#st" x="1270.2" y="500.1"/>
<use xlink:href="#st" x="1272" y="497.9"/>
<use xlink:href="#st" x="1273.7" y="495.6"/>
<use xlink:href="#st" x="1275.5" y="493"/>
<use xlink:href="#st" x="1277.3" y="491"/>
<use xlink:href="#st" x="1279" y="488.2"/>
<use xlink:href="#st" x="1280.8" y="485.5"/>
<use xlink:href="#st" x="1282.6" y="483.5"/>
<use xlink:href="#st" x="1284.4" y="481"/>
<use xlink:href="#st" x="1286.1" y="478.2"/>
<use xlink:href="#st" x="1287.9" y="475.4"/>
<use xlink:href="#st" x="1289.7" y="472.8"/>
<use xlink:href="#st" x="1291.4" y="470.3"/>
<use xlink:href="#st" x="1293.2" y="467.9"/>
<use xlink:href="#st" x="1295" y="465.3"/>
<use xlink:href="#st" x="1296.7" y="462.3"/>
<use xlink:href="#st" x="1298.5" y="459.6"/>
<use xlink:href="#st" x="1300.3" y="457.1"/>
<use xlink:href="#st" x="1302" y="454.1"/>
<use xlink:href="#st" x="1303.8" y="451.2"/>
<use xlink:href="#st" x="1305.6" y="448.2"/>
<use xlink:href="#st" x="1307.3" y="445.8"/>
<use xlink:href="#st" x="1309.1" y="442.6"/>
<use xlink:href="#st" x="1310.9" y="440.1"/>
<use xlink:href="#st" x="1312.7" y="437"/>
<use xlink:href="#st" x="1314.4" y="434"/>
<use xlink:href="#st" x="1316.2" y="430.7"/>
<use xlink:href="#st" x="1318" y="427.3"/>
<use xlink:href="#st" x="1319.7" y="424.9"/>
<use xlink:href="#st" x="1321.5" y="421.8"/>
<use xlink:href="#st" x="1323.3" y="418.7"/>
<use xlink:href="#st" x="1325" y="416.1"/>
<use xlink:href="#st" x="1326.8" y="412.6"/>
<use xlink:href="#st" x="1328.6" y="409.9"/>
<use xlink:href="#st" x="1330.3" y="406.2"/>
<use xlink:href="#st" x="1332.1" y="403.1"/>
<use xlink:href="#st" x="1333.9" y="400.1"/>
<use xlink:href="#st" x="1335.7" y="397.2"/>
<use xlink:href="#st" x="1337.4" y="393.5"/>
<use xlink:href="#st" x="1339.2" y="390.6"/>
<use xlink:href="#st" x="1341" y="387.4"/>
<use xlink:href="#st" x="1342.7" y="384.1"/>
<use xlink:href="#st" x="1344.5" y="381.4"/>
<use xlink:href="#st" x="1346.3" y="377.7"/>
<use xlink:href="#st" x="1348" y="374.3"/>
<use xlink:href="#st" x="1349.8" y="371.2"/>
<use xlink:href="#st" x="1351.6" y="368"/>
<use xlink:href="#st" x="1353.3" y="365"/>
<use xlink:href="#st" x="1355.1" y="361.3"/>
<use xlink:href="#st" x="1356.9" y="358.1"/>
<use xlink:href="#st" x="1358.6" y="354.9"/>
<use xlink:href="#st" x="1360.4" y="351.8"/>
<use xlink:href="#st" x="1362.2" y="348.2"/>
<use xlink:href="#st" x="1364" y="344.8"/>
<use xlink:href="#st" x="1365.7" y="341.7"/>
<use xlink:href="#st" x="1367.5" y="338.3"/>
<use xlink:href="#st" x="1369.3" y="334.9"/>
<use xlink:href="#st" x="1371" y="331.6"/>
<use xlink:href="#st" x="1372.8" y="328.6"/>
<use xlink:href="#st" x="1374.6" y="325.5"/>
<use xlink:href="#st" x="1376.3" y="322.3"/>
<use xlink:href="#st" x="1378.1" y="318.9"/>
<use xlink:href="#st" x="1379.9" y="315.6"/>
<use xlink:href="#st" x="1381.6" y="312.3"/>
<use xlink:href="#st" x="1383.4" y="309.4"/>
<use xlink:href="#st" x="1385.2" y="306.1"/>
<use xlink:href="#st" x="1386.9" y="303.1"/>
<use xlink:href="#st" x="1388.7" y="299.5"/>
<use xlink:href="#st" x="1390.5" y="296.7"/>
<use xlink:href="#st" x="1392.3" y="293.4"/>
<use xlink:href="#st" x="1394" y="290.5"/>
<use xlink:href="#st" x="1395.8" y="287.3"/>
<use xlink:href="#st" x="1397.6" y="284.4"/>
<use xlink:href="#st" x="1399.3" y="280.8"/>
<use xlink:href="#st" x="1401.1" y="278.1"/>
<use xlink:href="#st" x="1402.9" y="275.2"/>
<use xlink:href="#st" x="1404.6" y="272.4"/>
<use xlink:href="#st" x="1406.4" y="269.4"/>
<use xlink:href="#st" x="1408.2" y="266.2"/>
<use xlink:href="#st" x="1409.9" y="263.1"/>
<use xlink:href="#st" x="1411.7" y="260.9"/>
<use xlink:href="#st" x="1413.5" y="258"/>
<use xlink:href="#st" x="1415.3" y="255"/>
<use xlink:href="#st" x="1417" y="252.4"/>
<use xlink:href="#st" x="1418.8" y="249.9"/>
<use xlink:href="#st" x="1420.6" y="246.9"/>
<use xlink:href="#st" x="1422.3" y="244.1"/>
<use xlink:href="#st" x="1424.1" y="242.1"/>
<use xlink:href="#st" x="1425.9" y="239.2"/>
<use xlink:href="#st" x="1427.6" y="236.5"/>
<use xlink:href="#st" x="1429.4" y="234.1"/>
<use xlink:href="#st" x="1431.2" y="232"/>
<use xlink:href="#st" x="1432.9" y="229.1"/>
<use xlink:href="#st" x="1434.7" y="227.2"/>
<use xlink:href="#st" x="1436.5" y="225.3"/>
<use xlink:href="#st" x="1438.2" y="222.8"/>
<use xlink:href="#st" x="1440" y="221.1"/>
<use xlink:href="#st" x="1441.8" y="218.7"/>
<use xlink:href="#st" x="1443.6" y="217.2"/>
<use xlink:href="#st" x="1445.3" y="214.9"/>
<use xlink:href="#st" x="1447.1" y="213.4"/>
<use xlink:href="#st" x="1448.9" y="211.2"/>
<use xlink:href="#st" x="1450.6" y="209.7"/>
<use xlink:href="#st" x="1452.4" y="208.2"/>
<use xlink:href="#st" x="1454.2" y="206.7"/>
<use xlink:href="#st" x="1455.9" y="205.1"/>
<use xlink:href="#st" x="1457.7" y="204.4"/>
<use xlink:href="#st" x="1459.5" y="202.6"/>
<use xlink:href="#st" x="1461.2" y="201.5"/>
<use xlink:href="#st" x="1463" y="200.4"/>
<use xlink:href="#st" x="1464.8" y="199.3"/>
<use xlink:href="#st" x="1466.5" y="197.8"/>
<use xlink:href="#st" x="1468.3" y="197.8"/>
<use xlink:href="#st" x="1470.1" y="196.9"/>
<use xlink:href="#st" x="1471.9" y="196.5"/>
<use xlink:href="#st" x="1473.6" y="195.6"/>
<use xlink:href="#st" x="1475.4" y="196"/>
<use xlink:href="#st" x="1477.2" y="194.9"/>
<use xlink:href="#st" x="1478.9" y="195.2"/>
<use xlink:href="#st" x="1480.7" y="195.4"/>
<use xlink:href="#st" x="1482.5" y="195.2"/>
<use xlink:href="#st" x="1484.2" y="195.1"/>
<use xlink:href="#st" x="1486" y="195.2"/>
<use xlink:href="#st" x="1487.8" y="195.5"/>
<use xlink:href="#st" x="1489.5" y="195.7"/>
<use xlink:href="#st" x="1491.3" y="196.4"/>
<use xlink:href="#st" x="1493.1" y="197"/>
<use xlink:href="#st" x="1494.8" y="198.1"/>
<use xlink:href="#st" x="1496.6" y="198.4"/>
<use xlink:href="#st" x="1498.4" y="199.1"/>
<use xlink:href="#st" x="1500.2" y="200.5"/>
<use xlink:href="#st" x="1501.9" y="201.9"/>
<use xlink:href="#st" x="1503.7" y="202.9"/>
<use xlink:href="#st" x="1505.5" y="203.6"/>
<use xlink:href="#st" x="1507.2" y="205.4"/>
<use xlink:href="#st" x="1509" y="206.9"/>
<use xlink:href="#st" x="1510.8" y="208.5"/>
<use xlink:href="#st" x="1512.5" y="209.8"/>
<use xlink:href="#st" x="1514.3" y="211.8"/>
<use xlink:href="#st" x="1516.1" y="213.7"/>
<use xlink:href="#st" x="1517.8" y="215.8"/>
<use xlink:href="#st" x="1519.6" y="217.5"/>
<use xlink:href="#st" x="1521.4" y="219.3"/>
<use xlink:href="#st" x="1523.2" y="221.7"/>
<use xlink:href="#st" x="1524.9" y="223.7"/>
<use xlink:href="#st" x="1526.7" y="226.1"/>
<use xlink:href="#st" x="1528.5" y="228.5"/>
<use xlink:href="#st" x="1530.2" y="230.9"/>
<use xlink:href="#st" x="1532" y="233.4"/>
<use xlink:href="#st" x="1533.8" y="235.8"/>
<use xlink:href="#st" x="1535.5" y="238.5"/>
<use xlink:href="#st" x="1537.3" y="241.5"/>
<use xlink:href="#st" x="1539.1" y="244.1"/>
<use xlink:href="#st" x="1540.8" y="246.9"/>
<use xlink:href="#st" x="1542.6" y="249.7"/>
<use xlink:href="#st" x="1544.4" y="252.7"/>
<use xlink:href="#st" x="1546.1" y="255.6"/>
<use xlink:href="#st" x="1547.9" y="259.1"/>
<use xlink:href="#st" x="1549.7" y="261.8"/>
<use xlink:href="#st" x="1551.5" y="264.7"/>
<use xlink:href="#st" x="1553.2" y="268.5"/>
<use xlink:href="#st" x="1555" y="271.1"/>
<use xlink:href="#st" x="1556.8" y="274.7"/>
<use xlink:href="#st" x="1558.5" y="278.1"/>
<use xlink:href="#st" x="1560.3" y="281.8"/>
<use xlink:href="#st" x="1562.1" y="284.6"/>
<use xlink:href="#st" x="1563.8" y="288.5"/>
<use xlink:href="#st" x="1565.6" y="291.9"/>
<use xlink:href="#st" x="1567.4" y="295.2"/>
<use xlink:href="#st" x="1569.1" y="299.2"/>
<use xlink:href="#st" x="1570.9" y="302.8"/>
<use xlink:href="#st" x="1572.7" y="306.4"/>
<use xlink:href="#st" x="1574.4" y="309.9"/>
<use xlink:href="#st" x="1576.2" y="313.4"/>
<use xlink:href="#st" x="1578" y="317.2"/>
<use xlink:href="#st" x="1579.8" y="321"/>
<use xlink:href="#st" x="1581.5" y="325"/>
<use xlink:href="#st" x="1583.3" y="328.7"/>
<use xlink:href="#st" x="1585.1" y="332.7"/>
<use xlink:href="#st" x="1586.8" y="336"/>
<use xlink:href="#st" x="1588.6" y="340.3"/>
<use xlink:href="#st" x="1590.4" y="344.7"/>
<use xlink:href="#st" x="1592.1" y="348.5"/>
<use xlink:href="#st" x="1593.9" y="351.8"/>
<use xlink:href="#st" x="1595.7" y="356.5"/>
<use xlink:href="#st" x="1597.4" y="360.3"/>
<use xlink:href="#st" x="1599.2" y="364.1"/>
<use xlink:href="#st" x="1601" y="368.5"/>
<use xlink:href="#st" x="1602.7" y="372"/>
<use xlink:href="#st" x="1604.5" y="376"/>
<use xlink:href="#st" x="1606.3" y="380.6"/>
<use xlink:href="#st" x="1608.1" y="384.3"/>
<use xlink:href="#st" x="1609.8" y="388.8"/>
<use xlink:href="#st" x="1611.6" y="392.9"/>
<use xlink:href="#st" x="1613.4" y="396.8"/>
<use xlink:href="#st" x="1615.1" y="400.9"/>
<use xlink:href="#st" x="1616.9" y="405.2"/>
<use xlink:href="#st" x="1618.7" y="409"/>
<use xlink:href="#st" x="1620.4" y="413.7"/>
<use xlink:href="#st" x="1622.2" y="417.7"/>
<use xlink:href="#st" x="1624" y="421.8"/>
<use xlink:href="#st" x="1625.7" y="425.6"/>
<use xlink:href="#st" x="1627.5" y="429.7"/>
<use xlink:href="#st" x="1629.3" y="433.9"/>
<use xlink:href="#st" x="1631.1" y="438.4"/>
<use xlink:href="#st" x="1632.8" y="442.2"/>
<use xlink:href="#st" x="1634.6" y="446.3"/>
<use xlink:href="#st" x="1636.4" y="450.9"/>
<use xlink:href="#st" x="1638.1" y="454.8"/>
<use xlink:href="#st" x="1639.9" y="458.6"/>
<use xlink:href="#st" x="1641.7" y="462.6"/>
<use xlink:href="#st" x="1643.4" y="466.8"/>
<use xlink:href="#st" x="1645.2" y="470.8"/>
<use xlink:href="#st" x="1647" y="474.9"/>
<use xlink:href="#st" x="1648.7" y="479"/>
<use xlink:href="#st" x="1650.5" y="483.1"/>
<use xlink:href="#st" x="1652.3" y="487.3"/>
<use xlink:href="#st" x="1654" y="491.2"/>
<use xlink:href="#st" x="1655.8" y="495.2"/>
<use xlink:href="#st" x="1657.6" y="498.6"/>
<use xlink:href="#st" x="1659.4" y="503"/>
<use xlink:href="#st" x="1661.1" y="507"/>
<use xlink:href="#st" x="1662.9" y="511"/>
<use xlink:href="#st" x="1664.7" y="514.8"/>
<use xlink:href="#st" x="1666.4" y="518.8"/>
<use xlink:href="#st" x="1668.2" y="522.4"/>
<use xlink:href="#st" x="1670" y="526.4"/>
<use xlink:href="#st" x="1671.7" y="530"/>
<use xlink:href="#st" x="1673.5" y="534.2"/>
<use xlink:href="#st" x="1675.3" y="537.7"/>
<use xlink:href="#st" x="1677" y="541.3"/>
<use xlink:href="#st" x="1678.8" y="545.5"/>
<use xlink:href="#st" x="1680.6" y="548.9"/>
<use xlink:href="#st" x="1682.3" y="552.6"/>
<use xlink:href="#st" x="1684.1" y="556.4"/>
<use xlink:href="#st" x="1685.9" y="560"/>
<use xlink:href="#st" x="1687.7" y="563.9"/>
<use xlink:href="#st" x="1689.4" y="566.8"/>
<use xlink:href="#st" x="1691.2" y="570.8"/>
<use xlink:href="#st" x="1693" y="574.4"/>
<use xlink:href="#st" x="1694.7" y="577.5"/>
<use xlink:href="#st" x="1696.5" y="581.5"/>
<use xlink:href="#st" x="1698.3" y="584.3"/>
<use xlink:href="#st" x="1700" y="587.8"/>
<use xlink:href="#st" x="1701.8" y="591.2"/>
<use xlink:href="#st" x="1703.6" y="594.7"/>
<use xlink:href="#st" x="1705.3" y="598.2"/>
<use xlink:href="#st" x="1707.1" y="601.6"/>
<use xlink:href="#st" x="1708.9" y="604.2"/>
<use xlink:href="#st" x="1710.7" y="607.8"/>
<use xlink:href="#st" x="1712.4" y="611"/>
<use xlink:href="#st" x="1714.2" y="613.7"/>
<use xlink:href="#st" x="1716" y="617.3"/>
<use xlink:href="#st" x="1717.7" y="620.3"/>
<use xlink:href="#st" x="1719.5" y="623.4"/>
<use xlink:href="#st" x="1721.3" y="626.4"/>
<use xlink:href="#st" x="1723" y="629.6"/>
<use xlink:href="#st" x="1724.8" y="632.5"/>
<use xlink:href="#st" x="1726.6" y="635"/>
<use xlink:href="#st" x="1728.3" y="638"/>
<use xlink:href="#st" x="1730.1" y="641.7"/>
<use xlink:href="#st" x="1731.9" y="644.3"/>
<use xlink:href="#st" x="1733.6" y="646.6"/>
<use xlink:href="#st" x="1735.4" y="649.5"/>
<use xlink:href="#st" x="1737.2" y="652.3"/>
<use xlink:href="#st" x="1739" y="654.7"/>
<use xlink:href="#st" x="1740.7" y="657.9"/>
<use xlink:href="#st" x="1742.5" y="659.9"/>
<use xlink:href="#st" x="1744.3" y="662.8"/>
<use xlink:href="#st" x="1746" y="665.2"/>
<use xlink:href="#st" x="1747.8" y="667.9"/>
<use xlink:href="#st" x="1749.6" y="670.2"/>
<use xlink:href="#st" x="1751.3" y="672.9"/>
<use xlink:href="#st" x="1753.1" y="675.5"/>
<use xlink:href="#st" x="1754.9" y="677.6"/>
<use xlink:href="#st" x="1756.6" y="680.1"/>
<use xlink:href="#st" x="1758.4" y="682.7"/>
<use xlink:href="#st" x="1760.2" y="684.5"/>
<use xlink:href="#st" x="1761.9" y="686.8"/>
<use xlink:href="#st" x="1763.7" y="689"/>
<use xlink:href="#st" x="1765.5" y="691.5"/>
<use xlink:href="#st" x="1767.3" y="693.6"/>
<use xlink:href="#st" x="1769" y="696"/>
<use xlink:href="#st" x="1770.8" y="698.2"/>
<use xlink:href="#st" x="1772.6" y="700.1"/>
<use xlink:href="#st" x="1774.3" y="702.1"/>
<use xlink:href="#st" x="1776.1" y="704.3"/>
<use xlink:href="#st" x="1777.9" y="705.8"/>
<use xlink:href="#st" x="1779.6" y="708.5"/>
<use xlink:href="#st" x="1781.4" y="710.3"/>
<use xlink:href="#st" x="1783.2" y="712.2"/>
<use xlink:href="#st" x="1784.9" y="713.6"/>
<use xlink:href="#st" x="1786.7" y="715.8"/>
<use xlink:href="#st" x="1788.5" y="717.6"/>
<use xlink:href="#st" x="1790.2" y="719.6"/>
<use xlink:href="#st" x="1792" y="721.3"/>
<use xlink:href="#st" x="1793.8" y="723.1"/>
<use xlink:href="#st" x="1795.6" y="724.3"/>
<use xlink:href="#st" x="1797.3" y="726.1"/>
<use xlink:href="#st" x="1799.1" y="727.7"/>
<use xlink:href="#st" x="1800.9" y="729.7"/>
<use xlink:href="#st" x="1802.6" y="730.6"/>
<use xlink:href="#st" x="1804.4" y="732.9"/>
<use xlink:href="#st" x="1806.2" y="734.7"/>
<use xlink:href="#st" x="1807.9" y="735.8"/>
<use xlink:href="#st" x="1809.7" y="737.2"/>
<use xlink:href="#st" x="1811.5" y="738.6"/>
<use xlink:href="#st" x="1813.2" y="740.4"/>
<use xlink:href="#st" x="1815" y="741.5"/>
<use xlink:href="#st" x="1816.8" y="742.6"/>
<use xlink:href="#st" x="1818.6" y="744.5"/>
<use xlink:href="#st" x="1820.3" y="745.9"/>
<use xlink:href="#st" x="1822.1" y="747.4"/>
<use xlink:href="#st" x="1823.9" y="748.3"/>
<use xlink:href="#st" x="1825.6" y="749.4"/>
<use xlink:href="#st" x="1827.4" y="750.7"/>
<use xlink:href="#st" x="1829.2" y="751.9"/>
<use xlink:href="#st" x="1830.9" y="753"/>
<use xlink:href="#st" x="1832.7" y="754.4"/>
<use xlink:href="#st" x="1834.5" y="755.4"/>
<use xlink:href="#st" x="1836.2" y="757"/>
<use xlink:href="#st" x="1838" y="758.1"/>
<use xlink:href="#st" x="1839.8" y="758.9"/>
<use xlink:href="#st" x="1841.5" y="760.2"/>
<use xlink:href="#st" x="1843.3" y="761"/>
<use xlink:href="#st" x="1845.1" y="761.9"/>
<use xlink:href="#st" x="1846.9" y="763.1"/>
<use xlink:href="#st" x="1848.6" y="764.3"/>
<use xlink:href="#st" x="1850.4" y="765.3"/>
<use xlink:href="#st" x="1852.2" y="765.8"/>
<use xlink:href="#st" x="1853.9" y="767.2"/>
<use xlink:href="#st" x="1855.7" y="768"/>
<use xlink:href="#st" x="1857.5" y="769"/>
<use xlink:href="#st" x="1859.2" y="769.8"/>
<use xlink:href="#st" x="1861" y="770.4"/>
<use xlink:href="#st" x="1862.8" y="771.7"/>
<use xlink:href="#st" x="1864.5" y="772.7"/>
<use xlink:href="#st" x="1866.3" y="772.9"/>
<use xlink:href="#st" x="1868.1" y="774"/>
<use xlink:href="#st" x="1869.8" y="774.6"/>
<use xlink:href="#st" x="1871.6" y="775.6"/>
<use xlink:href="#st" x="1873.4" y="776.2"/>
<use xlink:href="#st" x="1875.2" y="776.8"/>
<use xlink:href="#st" x="1876.9" y="777.5"/>
<use xlink:href="#st" x="1878.7" y="778.6"/>
<use xlink:href="#st" x="1880.5" y="779.3"/>
<use xlink:href="#st" x="1882.2" y="779.9"/>
<use xlink:href="#st" x="1884" y="780.6"/>
<use xlink:href="#st" x="1885.8" y="781.2"/>
<use xlink:href="#st" x="1887.5" y="782.1"/>
<use xlink:href="#st" x="1889.3" y="783.1"/>
<use xlink:href="#st" x="1891.1" y="783.1"/>
<use xlink:href="#st" x="1892.8" y="783.7"/>
<use xlink:href="#st" x="1894.6" y="784.3"/>
<use xlink:href="#st" x="1896.4" y="784.7"/>
<use xlink:href="#st" x="1898.2" y="785.5"/>
<use xlink:href="#st" x="1899.9" y="786.3"/>
<use xlink:href="#st" x="1901.7" y="786.6"/>
<use xlink:href="#st" x="1903.5" y="787.4"/>
<use xlink:href="#st" x="1905.2" y="787.6"/>
<use xlink:href="#st" x="1907" y="788.4"/>
<use xlink:href="#st" x="1908.8" y="788.9"/>
<use xlink:href="#st" x="1910.5" y="789.4"/>
<use xlink:href="#st" x="1912.3" y="790"/>
<use xlink:href="#st" x="1914.1" y="790.8"/>
<use xlink:href="#st" x="1915.8" y="790.9"/>
<use xlink:href="#st" x="1917.6" y="791.9"/>
<use xlink:href="#st" x="1919.4" y="791.8"/>
<use xlink:href="#st" x="1921.1" y="792.2"/>
<use xlink:href="#st" x="1922.9" y="792.4"/>
<use xlink:href="#st" x="1924.7" y="793.2"/>
<use xlink:href="#st" x="1926.5" y="793.9"/>
<use xlink:href="#st" x="1928.2" y="794.5"/>
<use xlink:href="#st" x="1930" y="794.1"/>
<use xlink:href="#st" x="1931.8" y="795.3"/>
<use xlink:href="#st" x="1933.5" y="795.2"/>
<use xlink:href="#st" x="1935.3" y="796.3"/>
<use xlink:href="#st" x="1937.1" y="796.2"/>
<use xlink:href="#st" x="1938.8" y="796.5"/>
<use xlink:href="#st" x="1940.6" y="796.9"/>
<use xlink:href="#st" x="1942.4" y="797.4"/>
<use xlink:href="#st" x="1944.1" y="797.9"/>
<use xlink:href="#st" x="1945.9" y="798.3"/>
<use xlink:href="#st" x="1947.7" y="798.3"/>
<use xlink:href="#st" x="1949.4" y="798.8"/>
<use xlink:href="#st" x="1951.2" y="799.2"/>
<use xlink:href="#st" x="1953" y="799.5"/>
<use xlink:href="#st" x="1954.8" y="800.1"/>
<use xlink:href="#st" x="1956.5" y="800"/>
<use xlink:href="#st" x="1958.3" y="800.3"/>
<use xlink:href="#st" x="1960.1" y="801.1"/>
<use xlink:href="#st" x="1961.8" y="801.2"/>
<use xlink:href="#st" x="1963.6" y="801.3"/>
<use xlink:href="#st" x="1965.4" y="802"/>
<use xlink:href="#st" x="1967.1" y="801.8"/>
<use xlink:href="#st" x="1968.9" y="802.2"/>
<use xlink:href="#st" x="1970.7" y="802.9"/>
<use xlink:href="#st" x="1972.4" y="802.9"/>
<use xlink:href="#st" x="1974.2" y="803.1"/>
<use xlink:href="#st" x="1976" y="804"/>
<use xlink:href="#st" x="1977.7" y="803.9"/>
<use xlink:href="#st" x="1979.5" y="804.4"/>
<use xlink:href="#st" x="1981.3" y="804.7"/>
<use xlink:href="#st" x="1983.1" y="804.8"/>
<use xlink:href="#st" x="1984.8" y="805.3"/>
<use xlink:href="#st" x="1986.6" y="805.8"/>
<use xlink:href="#st" x="1988.4" y="806.1"/>
<use xlink:href="#st" x="1990.1" y="806.1"/>
<use xlink:href="#st" x="1991.9" y="806.2"/>
<use xlink:href="#st" x="1993.7" y="806.6"/>
<use xlink:href="#st" x="1995.4" y="806.9"/>
<use xlink:href="#st" x="1997.2" y="807.1"/>
<use xlink:href="#st" x="1999" y="807.1"/>
<use xlink:href="#st" x="2000.7" y="807.6"/>
<use xlink:href="#st" x="2002.5" y="808.1"/>
<use xlink:href="#st" x="2004.3" y="808.3"/>
<use xlink:href="#st" x="2006.1" y="808.2"/>
<use xlink:href="#st" x="2007.8" y="808.8"/>
<use xlink:href="#st" x="2009.6" y="809"/>
<use xlink:href="#st" x="2011.4" y="809.2"/>
<use xlink:href="#st" x="2013.1" y="809.7"/>
<use xlink:href="#st" x="2014.9" y="809.5"/>
<use xlink:href="#st" x="2016.7" y="810.4"/>
<use xlink:href="#st" x="2018.4" y="809.9"/>
<use xlink:href="#st" x="2020.2" y="810.5"/>
<use xlink:href="#st" x="2022" y="811"/>
<use xlink:href="#st" x="2023.7" y="810.9"/>
<use xlink:href="#st" x="2025.5" y="811.5"/>
<use xlink:href="#st" x="2027.3" y="811.3"/>
<use xlink:href="#st" x="2029" y="811.4"/>
<use xlink:href="#st" x="2030.8" y="812"/>
<use xlink:href="#st" x="2032.6" y="812.2"/>
<use xlink:href="#st" x="2034.4" y="812.1"/>
<use xlink:href="#st" x="2036.1" y="812.7"/>
<use xlink:href="#st" x="2037.9" y="812.7"/>
<use xlink:href="#st" x="2039.7" y="812.9"/>
<use xlink:href="#st" x="2041.4" y="812.8"/>
<use xlink:href="#st" x="2043.2" y="813.5"/>
<use xlink:href="#st" x="2045" y="813.6"/>
<use xlink:href="#st" x="2046.7" y="813.6"/>
<use xlink:href="#st" x="2048.5" y="814.6"/>
<use xlink:href="#st" x="2050.3" y="814.3"/>
<use xlink:href="#st" x="2052" y="814.9"/>
<use xlink:href="#st" x="2053.8" y="815.1"/>
<use xlink:href="#st" x="2055.6" y="814.4"/>
<use xlink:href="#st" x="2057.3" y="815"/>
<use xlink:href="#st" x="2059.1" y="814.9"/>
<use xlink:href="#st" x="2060.9" y="815.5"/>
<use xlink:href="#st" x="2062.7" y="815.5"/>
<use xlink:href="#st" x="2064.4" y="815.9"/>
<use xlink:href="#st" x="2066.2" y="816.1"/>
<use xlink:href="#st" x="2068" y="816.2"/>
<use xlink:href="#st" x="2069.7" y="816.4"/>
<use xlink:href="#st" x="2071.5" y="816.2"/>
<use xlink:href="#st" x="2073.3" y="816.8"/>
<use xlink:href="#st" x="2075" y="816.9"/>
<use xlink:href="#st" x="2076.8" y="817.2"/>
<use xlink:href="#st" x="2078.6" y="817.3"/>
<use xlink:href="#st" x="2080.3" y="817.7"/>
<use xlink:href="#st" x="2082.1" y="817.4"/>
<use xlink:href="#st" x="2083.9" y="817.9"/>
<use xlink:href="#st" x="2085.7" y="818"/>
<use xlink:href="#st" x="2087.4" y="818.2"/>
<use xlink:href="#st" x="2089.2" y="818.1"/>
<use xlink:href="#st" x="2091" y="818.3"/>
<use xlink:href="#st" x="2092.7" y="818.6"/>
<use xlink:href="#st" x="2094.5" y="818.7"/>
<use xlink:href="#st" x="2096.3" y="818.8"/>
<use xlink:href="#st" x="2098" y="818.9"/>
<use xlink:href="#st" x="2099.8" y="819.1"/>
<use xlink:href="#st" x="2101.6" y="819.1"/>
<use xlink:href="#st" x="2103.3" y="819.1"/>
<use xlink:href="#st" x="2105.1" y="819.5"/>
<use xlink:href="#st" x="2106.9" y="820.1"/>
<use xlink:href="#st" x="2108.6" y="819.5"/>
<use xlink:href="#st" x="2110.4" y="819.6"/>
<use xlink:href="#st" x="2112.2" y="820.3"/>
<use xlink:href="#st" x="2114" y="820.4"/>
<use xlink:href="#st" x="2115.7" y="820.9"/>
<use xlink:href="#st" x="2117.5" y="820.4"/>
<use xlink:href="#st" x="2119.3" y="820.9"/>
<use xlink:href="#st" x="2121" y="820.4"/>
<use xlink:href="#st" x="2122.8" y="821.5"/>
<use xlink:href="#st" x="2124.6" y="821.1"/>
<use xlink:href="#st" x="2126.3" y="821.1"/>
<use xlink:href="#st" x="2128.1" y="821.4"/>
<use xlink:href="#st" x="2129.9" y="821.6"/>
<use xlink:href="#st" x="2131.6" y="821.5"/>
<use xlink:href="#st" x="2133.4" y="821.8"/>
<use xlink:href="#st" x="2135.2" y="821.9"/>
<use xlink:href="#st" x="2136.9" y="821.9"/>
<use xlink:href="#st" x="2138.7" y="822.1"/>
<use xlink:href="#st" x="2140.5" y="822.2"/>
<use xlink:href="#st" x="2142.3" y="822"/>
<use xlink:href="#st" x="2144" y="822.4"/>
<use xlink:href="#st" x="2145.8" y="822.4"/>
<use xlink:href="#st" x="2147.6" y="822.7"/>
<use xlink:href="#st" x="2149.3" y="822.4"/>
<use xlink:href="#st" x="2151.1" y="823"/>
<use xlink:href="#st" x="2152.9" y="822.6"/>
<use xlink:href="#st" x="2154.6" y="823.6"/>
<use xlink:href="#st" x="2156.4" y="823.2"/>
<use xlink:href="#st" x="2158.2" y="823.4"/>
<use xlink:href="#st" x="2159.9" y="823"/>
<use xlink:href="#st" x="2161.7" y="823.2"/>
<use xlink:href="#st" x="2163.5" y="823.7"/>
<use xlink:href="#st" x="2165.2" y="823.6"/>
<use xlink:href="#st" x="2167" y="823.2"/>
<use xlink:href="#st" x="2168.8" y="823.6"/>
<use xlink:href="#st" x="2170.6" y="823.6"/>
<use xlink:href="#st" x="2172.3" y="824.1"/>
<use xlink:href="#st" x="2174.1" y="824.2"/>
<use xlink:href="#st" x="2175.9" y="823.8"/>
<use xlink:href="#st" x="2177.6" y="823.5"/>
<use xlink:href="#st" x="2179.4" y="824.2"/>
<use xlink:href="#st" x="2181.2" y="824.1"/>
<use xlink:href="#st" x="2182.9" y="824.5"/>
<use xlink:href="#st" x="2184.7" y="824.1"/>
<use xlink:href="#st" x="2186.5" y="824.5"/>
<use xlink:href="#st" x="2188.2" y="824.6"/>
<use xlink:href="#st" x="2190" y="825"/>
<use xlink:href="#st" x="2191.8" y="824.7"/>
<use xlink:href="#st" x="2193.6" y="824.7"/>
<use xlink:href="#st" x="2195.3" y="824.5"/>
<use xlink:href="#st" x="2197.1" y="825.1"/>
<use xlink:href="#st" x="2198.9" y="824.7"/>
<use xlink:href="#st" x="2200.6" y="825.1"/>
<use xlink:href="#st" x="2202.4" y="825.1"/>
<use xlink:href="#st" x="2204.2" y="825.3"/>
<use xlink:href="#st" x="2205.9" y="825.5"/>
<use xlink:href="#st" x="2207.7" y="825.5"/>
<use xlink:href="#st" x="2209.5" y="824.9"/>
<use xlink:href="#st" x="2211.2" y="825.6"/>
<use xlink:href="#st" x="2213" y="825.5"/>
<use xlink:href="#st" x="2214.8" y="825.2"/>
<use xlink:href="#st" x="2216.5" y="826"/>
<use xlink:href="#st" x="2218.3" y="825.5"/>
<use xlink:href="#st" x="2220.1" y="825.8"/>
<use xlink:href="#st" x="2221.9" y="825.7"/>
<use xlink:href="#st" x="2223.6" y="825.6"/>
<use xlink:href="#st" x="2225.4" y="825.9"/>
<use xlink:href="#st" x="2227.2" y="825.9"/>
<use xlink:href="#st" x="2228.9" y="825.8"/>
<use xlink:href="#st" x="2230.7" y="825.9"/>
<use xlink:href="#st" x="2232.5" y="826.2"/>
<use xlink:href="#st" x="2234.2" y="826.2"/>
<use xlink:href="#st" x="2236" y="826.5"/>
<use xlink:href="#st" x="2237.8" y="825.9"/>
<use xlink:href="#st" x="2239.5" y="826.5"/>
<use xlink:href="#st" x="2241.3" y="826.3"/>
<use xlink:href="#st" x="2243.1" y="826"/>
<use xlink:href="#st" x="2244.8" y="826.2"/>
<use xlink:href="#st" x="2246.6" y="826.5"/>
<use xlink:href="#st" x="2248.4" y="826.7"/>
<use xlink:href="#st" x="2250.2" y="826.7"/>
<use xlink:href="#st" x="2251.9" y="826.4"/>
<use xlink:href="#st" x="2253.7" y="826.6"/>
<use xlink:href="#st" x="2255.5" y="826.7"/>
<use xlink:href="#st" x="2257.2" y="826.2"/>
<use xlink:href="#st" x="2259" y="827"/>
<use xlink:href="#st" x="2260.8" y="827"/>
<use xlink:href="#st" x="2262.5" y="827"/>
<use xlink:href="#st" x="2264.3" y="826.9"/>
<use xlink:href="#st" x="2266.1" y="826.9"/>
<use xlink:href="#st" x="2267.8" y="827.1"/>
<use xlink:href="#st" x="2269.6" y="826.9"/>
</g>
<g fill="none" stroke-width="7.5" stroke-linejoin="round" stroke-linecap="round">
<polyline stroke="#f00" points="276.1,821.6 279.5,821.6 282.9,821.6 286.3,821.6 289.7,821.6 293.1,821.5 296.5,821.5 299.9,821.5 303.3,821.5 306.7,821.4 310.1,821.4 313.5,821.4 316.9,821.4 320.3,821.4 323.7,821.3 327.1,821.3 330.5,821.3 333.9,821.3 337.3,821.2 340.7,821.2 344.1,821.2 347.5,821.2 350.9,821.1 354.3,821.1 357.7,821.1 361.1,821.1 364.5,821 367.9,821 371.3,821 374.7,821 378.2,820.9 381.6,820.9 385,820.9 388.4,820.9 391.8,820.8 395.2,820.8 398.6,820.8 402,820.7 405.4,820.7 408.8,820.7 412.2,820.7 415.6,820.6 419,820.6 422.4,820.6 425.8,820.5 429.2,820.5 432.6,820.5 436,820.4 439.4,820.4 442.8,820.4 446.2,820.3 449.6,820.3 453,820.2 456.4,820.2 459.8,820.2 463.2,820.1 466.6,820.1 470,820.1 473.4,820 476.8,820 480.2,819.9 483.6,819.9 487,819.9 490.4,819.8 493.8,819.8 497.2,819.7 500.6,819.7 504,819.6 507.4,819.6 510.8,819.6 514.2,819.5 517.6,819.5 521,819.4 524.4,819.4 527.8,819.3 531.2,819.3 534.6,819.2 538,819.2 541.4,819.1 544.8,819.1 548.2,819 551.6,819 555,818.9 558.4,818.8 561.8,818.8 565.2,818.7 568.6,818.7 572,818.6 575.4,818.6 578.8,818.5 582.2,818.4 585.7,818.4 589.1,818.3 592.5,818.2 595.9,818.2 599.3,818.1 602.7,818 606.1,818 609.5,817.9 612.9,817.8 616.3,817.8 619.7,817.7 623.1,817.6 626.5,817.5 629.9,817.4 633.3,817.4 636.7,817.3 640.1,817.2 643.5,817.1 646.9,817 650.3,816.9 653.7,816.9 657.1,816.8 660.5,816.7 663.9,816.6 667.3,816.5 670.7,816.4 674.1,816.3 677.5,816.2 680.9,816.1 684.3,816 687.7,815.9 691.1,815.8 694.5,815.7 697.9,815.6 701.3,815.4 704.7,815.3 708.1,815.2 711.5,815.1 714.9,815 718.3,814.8 721.7,814.7 725.1,814.6 728.5,814.4 731.9,814.3 735.3,814.2 738.7,814 742.1,813.9 745.5,813.7 748.9,813.6 752.3,813.4 755.7,813.3 759.1,813.1 762.5,812.9 765.9,812.8 769.3,812.6 772.7,812.4 776.1,812.2 779.5,812.1 782.9,811.9 786.4,811.7 789.8,811.5 793.2,811.3 796.6,811.1 800,810.9 803.4,810.6 806.8,810.4 810.2,810.2 813.6,810 817,809.7 820.4,809.5 823.8,809.2 827.2,809 830.6,808.7 834,808.4 837.4,808.1 840.8,807.9 844.2,807.6 847.6,807.3 851,806.9 854.4,806.6 857.8,806.3 861.2,806 864.6,805.6 868,805.3 871.4,804.9 874.8,804.5 878.2,804.1 881.6,803.7 885,803.3 888.4,802.9 891.8,802.5 895.2,802 898.6,801.6 902,801.1 905.4,800.6 908.8,800.1 912.2,799.6 915.6,799.1 919,798.5 922.4,797.9 925.8,797.4 929.2,796.8 932.6,796.1 936,795.5 939.4,794.8 942.8,794.2 946.2,793.5 949.6,792.7 953,792 956.4,791.2 959.8,790.4 963.2,789.6 966.6,788.8 970,787.9 973.4,787 976.8,786.1 980.2,785.2 983.6,784.2 987,783.2 990.5,782.2 993.9,781.1 997.3,780 1000.7,778.9 1004.1,777.7 1007.5,776.5 1010.9,775.3 1014.3,774 1017.7,772.7 1021.1,771.4 1024.5,770 1027.9,768.6 1031.3,767.2 1034.7,765.7 1038.1,764.2 1041.5,762.6 1044.9,761 1048.3,759.4 1051.7,757.7 1055.1,756 1058.5,754.3 1061.9,752.5 1065.3,750.7 1068.7,748.9 1072.1,747 1075.5,745.1 1078.9,743.1 1082.3,741.2 1085.7,739.2 1089.1,737.2 1092.5,735.2 1095.9,733.1 1099.3,731.1 1102.7,729.1 1106.1,727 1109.5,725 1112.9,723 1116.3,721 1119.7,719 1123.1,717 1126.5,715.1 1129.9,713.3 1133.3,711.5 1136.7,709.7 1140.1,708.1 1143.5,706.5 1146.9,705 1150.3,703.6 1153.7,702.4 1157.1,701.2 1160.5,700.1 1163.9,699.2 1167.3,698.4 1170.7,697.8 1174.1,697.3 1177.5,696.9 1180.9,696.7 1184.3,696.7 1187.7,696.8 1191.1,697 1194.6,697.3 1198,697.8 1201.4,698.3 1204.8,699 1208.2,699.8 1211.6,700.7 1215,701.7 1218.4,702.8 1221.8,704 1225.2,705.3 1228.6,706.7 1232,708.1 1235.4,709.7 1238.8,711.2 1242.2,712.9 1245.6,714.6 1249,716.3 1252.4,718.1 1255.8,719.9 1259.2,721.7 1262.6,723.6 1266,725.5 1269.4,727.4 1272.8,729.3 1276.2,731.2 1279.6,733.2 1283,735.1 1286.4,737 1289.8,738.9 1293.2,740.8 1296.6,742.7 1300,744.6 1303.4,746.4 1306.8,748.3 1310.2,750.1 1313.6,751.9 1317,753.7 1320.4,755.4 1323.8,757.1 1327.2,758.8 1330.6,760.5 1334,762.1 1337.4,763.7 1340.8,765.3 1344.2,766.8 1347.6,768.3 1351,769.8 1354.4,771.2 1357.8,772.6 1361.2,774 1364.6,775.4 1368,776.7 1371.4,778 1374.8,779.2 1378.2,780.4 1381.6,781.6 1385,782.8 1388.4,783.9 1391.8,785 1395.2,786.1 1398.7,787.1 1402.1,788.1 1405.5,789.1 1408.9,790 1412.3,790.9 1415.7,791.8 1419.1,792.7 1422.5,793.5 1425.9,794.3 1429.3,795.1 1432.7,795.9 1436.1,796.6 1439.5,797.3 1442.9,798 1446.3,798.7 1449.7,799.3 1453.1,800 1456.5,800.6 1459.9,801.2 1463.3,801.7 1466.7,802.3 1470.1,802.8 1473.5,803.3 1476.9,803.8 1480.3,804.3 1483.7,804.8 1487.1,805.2 1490.5,805.6 1493.9,806.1 1497.3,806.5 1500.7,806.9 1504.1,807.2 1507.5,807.6 1510.9,808 1514.3,808.3 1517.7,808.6 1521.1,808.9 1524.5,809.3 1527.9,809.6 1531.3,809.8 1534.7,810.1 1538.1,810.4 1541.5,810.7 1544.9,810.9 1548.3,811.2 1551.7,811.4 1555.1,811.6 1558.5,811.9 1561.9,812.1 1565.3,812.3 1568.7,812.5 1572.1,812.7 1575.5,812.9 1578.9,813.1 1582.3,813.3 1585.7,813.5 1589.1,813.6 1592.5,813.8 1595.9,814 1599.3,814.1 1602.8,814.3 1606.2,814.4 1609.6,814.6 1613,814.7 1616.4,814.9 1619.8,815 1623.2,815.1 1626.6,815.3 1630,815.4 1633.4,815.5 1636.8,815.6 1640.2,815.8 1643.6,815.9 1647,816 1650.4,816.1 1653.8,816.2 1657.2,816.3 1660.6,816.4 1664,816.5 1667.4,816.6 1670.8,816.7 1674.2,816.8 1677.6,816.9 1681,817 1684.4,817.1 1687.8,817.2 1691.2,817.3 1694.6,817.4 1698,817.5 1701.4,817.6 1704.8,817.6 1708.2,817.7 1711.6,817.8 1715,817.9 1718.4,817.9 1721.8,818 1725.2,818.1 1728.6,818.2 1732,818.2 1735.4,818.3 1738.8,818.4 1742.2,818.4 1745.6,818.5 1749,818.6 1752.4,818.6 1755.8,818.7 1759.2,818.8 1762.6,818.8 1766,818.9 1769.4,818.9 1772.8,819 1776.2,819.1 1779.6,819.1 1783,819.2 1786.4,819.2 1789.8,819.3 1793.2,819.3 1796.6,819.4 1800,819.4 1803.4,819.5 1806.8,819.5 1810.3,819.6 1813.7,819.6 1817.1,819.7 1820.5,819.7 1823.9,819.8 1827.3,819.8 1830.7,819.9 1834.1,819.9 1837.5,819.9 1840.9,820 1844.3,820 1847.7,820.1 1851.1,820.1 1854.5,820.1 1857.9,820.2 1861.3,820.2 1864.7,820.3 1868.1,820.3 1871.5,820.3 1874.9,820.4 1878.3,820.4 1881.7,820.4 1885.1,820.5 1888.5,820.5 1891.9,820.6 1895.3,820.6 1898.7,820.6 1902.1,820.7 1905.5,820.7 1908.9,820.7 1912.3,820.8 1915.7,820.8 1919.1,820.8 1922.5,820.8 1925.9,820.9 1929.3,820.9 1932.7,820.9 1936.1,821 1939.5,821 1942.9,821 1946.3,821 1949.7,821.1 1953.1,821.1 1956.5,821.1 1959.9,821.2 1963.3,821.2 1966.7,821.2 1970.1,821.2 1973.5,821.3 1976.9,821.3 1980.3,821.3 1983.7,821.3 1987.1,821.4 1990.5,821.4 1993.9,821.4 1997.3,821.4 2000.7,821.4 2004.1,821.5 2007.5,821.5 2010.9,821.5 2014.4,821.5 2017.8,821.6 2021.2,821.6 2024.6,821.6 2028,821.6 2031.4,821.6 2034.8,821.7 2038.2,821.7 2041.6,821.7 2045,821.7 2048.4,821.7 2051.8,821.8 2055.2,821.8 2058.6,821.8 2062,821.8 2065.4,821.8 2068.8,821.9 2072.2,821.9 2075.6,821.9 2079,821.9 2082.4,821.9 2085.8,821.9 2089.2,822 2092.6,822 2096,822 2099.4,822 2102.8,822 2106.2,822 2109.6,822.1 2113,822.1 2116.4,822.1 2119.8,822.1 2123.2,822.1 2126.6,822.1 2130,822.2 2133.4,822.2 2136.8,822.2 2140.2,822.2 2143.6,822.2 2147,822.2 2150.4,822.2 2153.8,822.3 2157.2,822.3 2160.6,822.3 2164,822.3 2167.4,822.3 2170.8,822.3 2174.2,822.3 2177.6,822.3 2181,822.4 2184.4,822.4 2187.8,822.4 2191.2,822.4 2194.6,822.4 2198,822.4 2201.4,822.4 2204.8,822.4 2208.2,822.5 2211.6,822.5 2215.1,822.5 2218.5,822.5 2221.9,822.5 2225.3,822.5 2228.7,822.5 2232.1,822.5 2235.5,822.5 2238.9,822.6 2242.3,822.6 2245.7,822.6 2249.1,822.6 2252.5,822.6 2255.9,822.6 2259.3,822.6 2262.7,822.6 2266.1,822.6 2269.5,822.7 2272.9,822.7 2276.3,822.7 2279.7,822.7 2283.1,822.7 2286.5,822.7 2289.9,822.7"/>
<polyline stroke="#00f" points="276.1,825.9 279.5,825.9 282.9,825.9 286.3,825.8 289.7,825.8 293.1,825.8 296.5,825.8 299.9,825.8 303.3,825.7 306.7,825.7 310.1,825.7 313.5,825.7 316.9,825.7 320.3,825.7 323.7,825.6 327.1,825.6 330.5,825.6 333.9,825.6 337.3,825.6 340.7,825.5 344.1,825.5 347.5,825.5 350.9,825.5 354.3,825.5 357.7,825.4 361.1,825.4 364.5,825.4 367.9,825.4 371.3,825.4 374.7,825.3 378.2,825.3 381.6,825.3 385,825.3 388.4,825.3 391.8,825.2 395.2,825.2 398.6,825.2 402,825.2 405.4,825.1 408.8,825.1 412.2,825.1 415.6,825.1 419,825 422.4,825 425.8,825 429.2,825 432.6,825 436,824.9 439.4,824.9 442.8,824.9 446.2,824.8 449.6,824.8 453,824.8 456.4,824.8 459.8,824.7 463.2,824.7 466.6,824.7 470,824.7 473.4,824.6 476.8,824.6 480.2,824.6 483.6,824.6 487,824.5 490.4,824.5 493.8,824.5 497.2,824.4 500.6,824.4 504,824.4 507.4,824.3 510.8,824.3 514.2,824.3 517.6,824.2 521,824.2 524.4,824.2 527.8,824.2 531.2,824.1 534.6,824.1 538,824.1 541.4,824 544.8,824 548.2,824 551.6,823.9 555,823.9 558.4,823.8 561.8,823.8 565.2,823.8 568.6,823.7 572,823.7 575.4,823.7 578.8,823.6 582.2,823.6 585.7,823.5 589.1,823.5 592.5,823.5 595.9,823.4 599.3,823.4 602.7,823.3 606.1,823.3 609.5,823.3 612.9,823.2 616.3,823.2 619.7,823.1 623.1,823.1 626.5,823 629.9,823 633.3,823 636.7,822.9 640.1,822.9 643.5,822.8 646.9,822.8 650.3,822.7 653.7,822.7 657.1,822.6 660.5,822.6 663.9,822.5 667.3,822.5 670.7,822.4 674.1,822.4 677.5,822.3 680.9,822.3 684.3,822.2 687.7,822.2 691.1,822.1 694.5,822 697.9,822 701.3,821.9 704.7,821.9 708.1,821.8 711.5,821.8 714.9,821.7 718.3,821.6 721.7,821.6 725.1,821.5 728.5,821.4 731.9,821.4 735.3,821.3 738.7,821.2 742.1,821.2 745.5,821.1 748.9,821 752.3,821 755.7,820.9 759.1,820.8 762.5,820.8 765.9,820.7 769.3,820.6 772.7,820.5 776.1,820.5 779.5,820.4 782.9,820.3 786.4,820.2 789.8,820.1 793.2,820.1 796.6,820 800,819.9 803.4,819.8 806.8,819.7 810.2,819.6 813.6,819.5 817,819.4 820.4,819.3 823.8,819.2 827.2,819.2 830.6,819.1 834,819 837.4,818.8 840.8,818.7 844.2,818.6 847.6,818.5 851,818.4 854.4,818.3 857.8,818.2 861.2,818.1 864.6,817.9 868,817.8 871.4,817.7 874.8,817.6 878.2,817.4 881.6,817.3 885,817.2 888.4,817 891.8,816.9 895.2,816.7 898.6,816.6 902,816.4 905.4,816.3 908.8,816.1 912.2,815.9 915.6,815.7 919,815.6 922.4,815.4 925.8,815.2 929.2,815 932.6,814.8 936,814.6 939.4,814.3 942.8,814.1 946.2,813.9 949.6,813.6 953,813.4 956.4,813.1 959.8,812.9 963.2,812.6 966.6,812.3 970,812 973.4,811.7 976.8,811.3 980.2,811 983.6,810.7 987,810.3 990.5,809.9 993.9,809.5 997.3,809.1 1000.7,808.7 1004.1,808.2 1007.5,807.7 1010.9,807.3 1014.3,806.7 1017.7,806.2 1021.1,805.7 1024.5,805.1 1027.9,804.5 1031.3,803.8 1034.7,803.2 1038.1,802.5 1041.5,801.8 1044.9,801 1048.3,800.2 1051.7,799.4 1055.1,798.6 1058.5,797.7 1061.9,796.7 1065.3,795.8 1068.7,794.8 1072.1,793.7 1075.5,792.6 1078.9,791.5 1082.3,790.3 1085.7,789 1089.1,787.7 1092.5,786.3 1095.9,784.9 1099.3,783.5 1102.7,781.9 1106.1,780.3 1109.5,778.7 1112.9,776.9 1116.3,775.1 1119.7,773.3 1123.1,771.3 1126.5,769.3 1129.9,767.2 1133.3,765.1 1136.7,762.8 1140.1,760.5 1143.5,758 1146.9,755.5 1150.3,752.9 1153.7,750.2 1157.1,747.4 1160.5,744.6 1163.9,741.6 1167.3,738.5 1170.7,735.3 1174.1,732 1177.5,728.6 1180.9,725.1 1184.3,721.5 1187.7,717.8 1191.1,714 1194.6,710 1198,705.9 1201.4,701.8 1204.8,697.5 1208.2,693.1 1211.6,688.5 1215,683.9 1218.4,679.1 1221.8,674.2 1225.2,669.2 1228.6,664.1 1232,658.8 1235.4,653.4 1238.8,648 1242.2,642.3 1245.6,636.6 1249,630.8 1252.4,624.8 1255.8,618.7 1259.2,612.5 1262.6,606.2 1266,599.8 1269.4,593.3 1272.8,586.7 1276.2,580 1279.6,573.2 1283,566.3 1286.4,559.3 1289.8,552.2 1293.2,545 1296.6,537.7 1300,530.4 1303.4,523 1306.8,515.5 1310.2,508 1313.6,500.4 1317,492.8 1320.4,485.1 1323.8,477.4 1327.2,469.7 1330.6,461.9 1334,454.1 1337.4,446.3 1340.8,438.6 1344.2,430.8 1347.6,423 1351,415.2 1354.4,407.5 1357.8,399.8 1361.2,392.2 1364.6,384.6 1368,377.1 1371.4,369.6 1374.8,362.3 1378.2,355 1381.6,347.8 1385,340.8 1388.4,333.8 1391.8,327 1395.2,320.4 1398.7,313.9 1402.1,307.5 1405.5,301.3 1408.9,295.4 1412.3,289.6 1415.7,284 1419.1,278.6 1422.5,273.5 1425.9,268.6 1429.3,263.9 1432.7,259.5 1436.1,255.3 1439.5,251.4 1442.9,247.8 1446.3,244.5 1449.7,241.4 1453.1,238.7 1456.5,236.3 1459.9,234.2 1463.3,232.4 1466.7,230.9 1470.1,229.7 1473.5,228.9 1476.9,228.4 1480.3,228.2 1483.7,228.4 1487.1,228.9 1490.5,229.7 1493.9,230.9 1497.3,232.4 1500.7,234.2 1504.1,236.3 1507.5,238.8 1510.9,241.6 1514.3,244.7 1517.7,248.1 1521.1,251.8 1524.5,255.7 1527.9,260 1531.3,264.5 1534.7,269.2 1538.1,274.3 1541.5,279.5 1544.9,285 1548.3,290.7 1551.7,296.6 1555.1,302.6 1558.5,308.9 1561.9,315.4 1565.3,322 1568.7,328.7 1572.1,335.6 1575.5,342.6 1578.9,349.8 1582.3,357 1585.7,364.4 1589.1,371.8 1592.5,379.3 1595.9,386.9 1599.3,394.6 1602.8,402.2 1606.2,410 1609.6,417.7 1613,425.5 1616.4,433.3 1619.8,441.1 1623.2,449 1626.6,456.8 1630,464.5 1633.4,472.3 1636.8,480 1640.2,487.7 1643.6,495.4 1647,503 1650.4,510.5 1653.8,518 1657.2,525.5 1660.6,532.8 1664,540.1 1667.4,547.3 1670.8,554.4 1674.2,561.5 1677.6,568.4 1681,575.2 1684.4,582 1687.8,588.6 1691.2,595.2 1694.6,601.6 1698,607.9 1701.4,614.2 1704.8,620.3 1708.2,626.3 1711.6,632.1 1715,637.9 1718.4,643.5 1721.8,649 1725.2,654.4 1728.6,659.7 1732,664.9 1735.4,669.9 1738.8,674.8 1742.2,679.6 1745.6,684.3 1749,688.9 1752.4,693.3 1755.8,697.7 1759.2,701.9 1762.6,706 1766,709.9 1769.4,713.8 1772.8,717.5 1776.2,721.2 1779.6,724.7 1783,728.1 1786.4,731.5 1789.8,734.7 1793.2,737.8 1796.6,740.8 1800,743.7 1803.4,746.5 1806.8,749.3 1810.3,751.9 1813.7,754.4 1817.1,756.9 1820.5,759.2 1823.9,761.5 1827.3,763.7 1830.7,765.9 1834.1,767.9 1837.5,769.9 1840.9,771.8 1844.3,773.6 1847.7,775.3 1851.1,777 1854.5,778.7 1857.9,780.2 1861.3,781.7 1864.7,783.2 1868.1,784.5 1871.5,785.9 1874.9,787.2 1878.3,788.4 1881.7,789.6 1885.1,790.7 1888.5,791.8 1891.9,792.8 1895.3,793.8 1898.7,794.8 1902.1,795.7 1905.5,796.6 1908.9,797.4 1912.3,798.2 1915.7,799 1919.1,799.7 1922.5,800.5 1925.9,801.1 1929.3,801.8 1932.7,802.4 1936.1,803 1939.5,803.6 1942.9,804.2 1946.3,804.7 1949.7,805.2 1953.1,805.7 1956.5,806.2 1959.9,806.7 1963.3,807.1 1966.7,807.5 1970.1,807.9 1973.5,808.3 1976.9,808.7 1980.3,809.1 1983.7,809.4 1987.1,809.8 1990.5,810.1 1993.9,810.4 1997.3,810.7 2000.7,811 2004.1,811.3 2007.5,811.5 2010.9,811.8 2014.4,812.1 2017.8,812.3 2021.2,812.6 2024.6,812.8 2028,813 2031.4,813.2 2034.8,813.4 2038.2,813.7 2041.6,813.9 2045,814.1 2048.4,814.2 2051.8,814.4 2055.2,814.6 2058.6,814.8 2062,815 2065.4,815.1 2068.8,815.3 2072.2,815.4 2075.6,815.6 2079,815.8 2082.4,815.9 2085.8,816.1 2089.2,816.2 2092.6,816.3 2096,816.5 2099.4,816.6 2102.8,816.7 2106.2,816.9 2109.6,817 2113,817.1 2116.4,817.2 2119.8,817.4 2123.2,817.5 2126.6,817.6 2130,817.7 2133.4,817.8 2136.8,817.9 2140.2,818 2143.6,818.1 2147,818.2 2150.4,818.4 2153.8,818.5 2157.2,818.6 2160.6,818.7 2164,818.7 2167.4,818.8 2170.8,818.9 2174.2,819 2177.6,819.1 2181,819.2 2184.4,819.3 2187.8,819.4 2191.2,819.5 2194.6,819.6 2198,819.6 2201.4,819.7 2204.8,819.8 2208.2,819.9 2211.6,820 2215.1,820 2218.5,820.1 2221.9,820.2 2225.3,820.3 2228.7,820.3 2232.1,820.4 2235.5,820.5 2238.9,820.6 2242.3,820.6 2245.7,820.7 2249.1,820.8 2252.5,820.8 2255.9,820.9 2259.3,821 2262.7,821 2266.1,821.1 2269.5,821.2 2272.9,821.2 2276.3,821.3 2279.7,821.4 2283.1,821.4 2286.5,821.5 2289.9,821.5"/>
<polyline stroke="#0f0" points="276.1,819 279.5,819 282.9,818.9 286.3,818.9 289.7,818.9 293.1,818.8 296.5,818.8 299.9,818.8 303.3,818.7 306.7,818.7 310.1,818.6 313.5,818.6 316.9,818.6 320.3,818.5 323.7,818.5 327.1,818.4 330.5,818.4 333.9,818.4 337.3,818.3 340.7,818.3 344.1,818.2 347.5,818.2 350.9,818.1 354.3,818.1 357.7,818 361.1,818 364.5,818 367.9,817.9 371.3,817.9 374.7,817.8 378.2,817.8 381.6,817.7 385,817.7 388.4,817.6 391.8,817.6 395.2,817.5 398.6,817.5 402,817.4 405.4,817.4 408.8,817.3 412.2,817.2 415.6,817.2 419,817.1 422.4,817.1 425.8,817 429.2,817 432.6,816.9 436,816.8 439.4,816.8 442.8,816.7 446.2,816.7 449.6,816.6 453,816.5 456.4,816.5 459.8,816.4 463.2,816.4 466.6,816.3 470,816.2 473.4,816.2 476.8,816.1 480.2,816 483.6,816 487,815.9 490.4,815.8 493.8,815.7 497.2,815.7 500.6,815.6 504,815.5 507.4,815.4 510.8,815.4 514.2,815.3 517.6,815.2 521,815.1 524.4,815.1 527.8,815 531.2,814.9 534.6,814.8 538,814.7 541.4,814.6 544.8,814.6 548.2,814.5 551.6,814.4 555,814.3 558.4,814.2 561.8,814.1 565.2,814 568.6,813.9 572,813.8 575.4,813.7 578.8,813.6 582.2,813.5 585.7,813.4 589.1,813.3 592.5,813.2 595.9,813.1 599.3,813 602.7,812.9 606.1,812.8 609.5,812.7 612.9,812.5 616.3,812.4 619.7,812.3 623.1,812.2 626.5,812.1 629.9,811.9 633.3,811.8 636.7,811.7 640.1,811.6 643.5,811.4 646.9,811.3 650.3,811.2 653.7,811 657.1,810.9 660.5,810.8 663.9,810.6 667.3,810.5 670.7,810.3 674.1,810.2 677.5,810 680.9,809.9 684.3,809.7 687.7,809.5 691.1,809.4 694.5,809.2 697.9,809 701.3,808.9 704.7,808.7 708.1,808.5 711.5,808.3 714.9,808.1 718.3,808 721.7,807.8 725.1,807.6 728.5,807.4 731.9,807.2 735.3,807 738.7,806.8 742.1,806.6 745.5,806.3 748.9,806.1 752.3,805.9 755.7,805.7 759.1,805.4 762.5,805.2 765.9,805 769.3,804.7 772.7,804.5 776.1,804.2 779.5,803.9 782.9,803.7 786.4,803.4 789.8,803.1 793.2,802.8 796.6,802.5 800,802.2 803.4,801.9 806.8,801.6 810.2,801.3 813.6,801 817,800.7 820.4,800.3 823.8,800 827.2,799.6 830.6,799.2 834,798.9 837.4,798.5 840.8,798.1 844.2,797.7 847.6,797.3 851,796.9 854.4,796.4 857.8,796 861.2,795.5 864.6,795.1 868,794.6 871.4,794.1 874.8,793.6 878.2,793.1 881.6,792.5 885,792 888.4,791.4 891.8,790.9 895.2,790.3 898.6,789.6 902,789 905.4,788.4 908.8,787.7 912.2,787 915.6,786.3 919,785.6 922.4,784.8 925.8,784 929.2,783.2 932.6,782.4 936,781.6 939.4,780.7 942.8,779.8 946.2,778.8 949.6,777.9 953,776.9 956.4,775.9 959.8,774.8 963.2,773.7 966.6,772.6 970,771.4 973.4,770.2 976.8,769 980.2,767.7 983.6,766.4 987,765 990.5,763.6 993.9,762.1 997.3,760.6 1000.7,759 1004.1,757.4 1007.5,755.8 1010.9,754 1014.3,752.3 1017.7,750.4 1021.1,748.6 1024.5,746.6 1027.9,744.6 1031.3,742.5 1034.7,740.4 1038.1,738.2 1041.5,735.9 1044.9,733.6 1048.3,731.1 1051.7,728.7 1055.1,726.1 1058.5,723.5 1061.9,720.8 1065.3,718 1068.7,715.1 1072.1,712.2 1075.5,709.2 1078.9,706.1 1082.3,702.9 1085.7,699.7 1089.1,696.4 1092.5,693 1095.9,689.6 1099.3,686.1 1102.7,682.5 1106.1,678.9 1109.5,675.2 1112.9,671.4 1116.3,667.6 1119.7,663.8 1123.1,659.9 1126.5,656 1129.9,652 1133.3,648 1136.7,644.1 1140.1,640.1 1143.5,636.1 1146.9,632.1 1150.3,628.1 1153.7,624.1 1157.1,620.1 1160.5,616.2 1163.9,612.3 1167.3,608.4 1170.7,604.6 1174.1,600.8 1177.5,597.1 1180.9,593.4 1184.3,589.7 1187.7,586.1 1191.1,582.4 1194.6,578.8 1198,575.2 1201.4,571.6 1204.8,568 1208.2,564.4 1211.6,560.7 1215,557.1 1218.4,553.4 1221.8,549.7 1225.2,546 1228.6,542.3 1232,538.5 1235.4,534.6 1238.8,530.7 1242.2,526.7 1245.6,522.7 1249,518.6 1252.4,514.4 1255.8,510.1 1259.2,505.8 1262.6,501.4 1266,496.8 1269.4,492.2 1272.8,487.5 1276.2,482.7 1279.6,477.8 1283,472.9 1286.4,467.8 1289.8,462.6 1293.2,457.3 1296.6,452 1300,446.5 1303.4,441 1306.8,435.3 1310.2,429.6 1313.6,423.8 1317,418 1320.4,412 1323.8,406 1327.2,400 1330.6,393.9 1334,387.7 1337.4,381.5 1340.8,375.3 1344.2,369.1 1347.6,362.8 1351,356.5 1354.4,350.2 1357.8,344 1361.2,337.7 1364.6,331.5 1368,325.3 1371.4,319.1 1374.8,313 1378.2,306.9 1381.6,300.9 1385,295 1388.4,289.2 1391.8,283.5 1395.2,277.9 1398.7,272.4 1402.1,267.1 1405.5,261.9 1408.9,256.9 1412.3,252 1415.7,247.3 1419.1,242.8 1422.5,238.5 1425.9,234.4 1429.3,230.5 1432.7,226.8 1436.1,223.4 1439.5,220.3 1442.9,217.3 1446.3,214.7 1449.7,212.3 1453.1,210.2 1456.5,208.4 1459.9,206.8 1463.3,205.6 1466.7,204.7 1470.1,204 1473.5,203.7 1476.9,203.7 1480.3,204 1483.7,204.6 1487.1,205.6 1490.5,206.8 1493.9,208.4 1497.3,210.3 1500.7,212.5 1504.1,215.1 1507.5,217.9 1510.9,221 1514.3,224.5 1517.7,228.2 1521.1,232.2 1524.5,236.5 1527.9,241 1531.3,245.8 1534.7,250.9 1538.1,256.2 1541.5,261.7 1544.9,267.4 1548.3,273.3 1551.7,279.5 1555.1,285.8 1558.5,292.3 1561.9,298.9 1565.3,305.8 1568.7,312.7 1572.1,319.8 1575.5,327 1578.9,334.4 1582.3,341.8 1585.7,349.3 1589.1,356.9 1592.5,364.6 1595.9,372.4 1599.3,380.2 1602.8,388 1606.2,395.9 1609.6,403.8 1613,411.8 1616.4,419.7 1619.8,427.7 1623.2,435.6 1626.6,443.5 1630,451.4 1633.4,459.3 1636.8,467.2 1640.2,475 1643.6,482.8 1647,490.5 1650.4,498.2 1653.8,505.8 1657.2,513.3 1660.6,520.8 1664,528.1 1667.4,535.4 1670.8,542.7 1674.2,549.8 1677.6,556.8 1681,563.8 1684.4,570.6 1687.8,577.3 1691.2,584 1694.6,590.5 1698,596.9 1701.4,603.2 1704.8,609.4 1708.2,615.5 1711.6,621.4 1715,627.2 1718.4,633 1721.8,638.6 1725.2,644 1728.6,649.4 1732,654.6 1735.4,659.7 1738.8,664.7 1742.2,669.6 1745.6,674.3 1749,679 1752.4,683.5 1755.8,687.8 1759.2,692.1 1762.6,696.3 1766,700.3 1769.4,704.2 1772.8,708 1776.2,711.7 1779.6,715.3 1783,718.8 1786.4,722.2 1789.8,725.4 1793.2,728.6 1796.6,731.7 1800,734.6 1803.4,737.5 1806.8,740.3 1810.3,743 1813.7,745.6 1817.1,748.1 1820.5,750.5 1823.9,752.8 1827.3,755 1830.7,757.2 1834.1,759.3 1837.5,761.3 1840.9,763.2 1844.3,765.1 1847.7,766.9 1851.1,768.6 1854.5,770.3 1857.9,771.9 1861.3,773.4 1864.7,774.9 1868.1,776.3 1871.5,777.7 1874.9,779 1878.3,780.3 1881.7,781.5 1885.1,782.7 1888.5,783.8 1891.9,784.9 1895.3,785.9 1898.7,786.9 1902.1,787.8 1905.5,788.8 1908.9,789.6 1912.3,790.5 1915.7,791.3 1919.1,792.1 1922.5,792.8 1925.9,793.5 1929.3,794.2 1932.7,794.9 1936.1,795.5 1939.5,796.1 1942.9,796.7 1946.3,797.3 1949.7,797.8 1953.1,798.3 1956.5,798.8 1959.9,799.3 1963.3,799.8 1966.7,800.2 1970.1,800.7 1973.5,801.1 1976.9,801.5 1980.3,801.9 1983.7,802.3 1987.1,802.6 1990.5,803 1993.9,803.3 1997.3,803.6 2000.7,803.9 2004.1,804.2 2007.5,804.5 2010.9,804.8 2014.4,805.1 2017.8,805.4 2021.2,805.6 2024.6,805.9 2028,806.1 2031.4,806.4 2034.8,806.6 2038.2,806.8 2041.6,807.1 2045,807.3 2048.4,807.5 2051.8,807.7 2055.2,807.9 2058.6,808.1 2062,808.3 2065.4,808.5 2068.8,808.6 2072.2,808.8 2075.6,809 2079,809.2 2082.4,809.3 2085.8,809.5 2089.2,809.7 2092.6,809.8 2096,810 2099.4,810.1 2102.8,810.3 2106.2,810.4 2109.6,810.6 2113,810.7 2116.4,810.8 2119.8,811 2123.2,811.1 2126.6,811.2 2130,811.4 2133.4,811.5 2136.8,811.6 2140.2,811.7 2143.6,811.9 2147,812 2150.4,812.1 2153.8,812.2 2157.2,812.3 2160.6,812.4 2164,812.5 2167.4,812.6 2170.8,812.8 2174.2,812.9 2177.6,813 2181,813.1 2184.4,813.2 2187.8,813.3 2191.2,813.4 2194.6,813.5 2198,813.6 2201.4,813.7 2204.8,813.7 2208.2,813.8 2211.6,813.9 2215.1,814 2218.5,814.1 2221.9,814.2 2225.3,814.3 2228.7,814.4 2232.1,814.5 2235.5,814.5 2238.9,814.6 2242.3,814.7 2245.7,814.8 2249.1,814.9 2252.5,814.9 2255.9,815 2259.3,815.1 2262.7,815.2 2266.1,815.2 2269.5,815.3 2272.9,815.4 2276.3,815.5 2279.7,815.5 2283.1,815.6 2286.5,815.7 2289.9,815.7"/>
</g>
<g clip-path="url(#cb)" shape-rendering="crispEdges">
<use xlink:href="#st" x="266.5" y="1864.1"/>
<use xlink:href="#st" x="268.3" y="1864.2"/>
<use xlink:href="#st" x="270" y="1864.7"/>
<use xlink:href="#st" x="271.8" y="1863.9"/>
<use xlink:href="#st" x="273.6" y="1864.3"/>
<use xlink:href="#st" x="275.3" y="1864.2"/>
<use xlink:href="#st" x="277.1" y="1864.1"/>
<use xlink:href="#st" x="278.9" y="1864.3"/>
<use xlink:href="#st" x="280.7" y="1864.2"/>
<use xlink:href="#st" x="282.4" y="1863.9"/>
<use xlink:href="#st" x="284.2" y="1864"/>
<use xlink:href="#st" x="286" y="1863.8"/>
<use xlink:href="#st" x="287.7" y="1864.1"/>
<use xlink:href="#st" x="289.5" y="1863.9"/>
<use xlink:href="#st" x="291.3" y="1864.1"/>
<use xlink:href="#st" x="293" y="1863.9"/>
<use xlink:href="#st" x="294.8" y="1863.7"/>
<use xlink:href="#st" x="296.6" y="1863.8"/>
<use xlink:href="#st" x="298.3" y="1864"/>
<use xlink:href="#st" x="300.1" y="1863.7"/>
<use xlink:href="#st" x="301.9" y="1863.6"/>
<use xlink:href="#st" x="303.7" y="1863.4"/>
<use xlink:href="#st" x="305.4" y="1863.6"/>
<use xlink:href="#st" x="307.2" y="1863.7"/>
<use xlink:href="#st" x="309" y="1863.8"/>
<use xlink:href="#st" x="310.7" y="1863.1"/>
<use xlink:href="#st" x="312.5" y="1863.7"/>
<use xlink:href="#st" x="314.3" y="1863.7"/>
<use xlink:href="#st" x="316" y="1863.5"/>
<use xlink:href="#st" x="317.8" y="1863.8"/>
<use xlink:href="#st" x="319.6" y="1863.1"/>
<use xlink:href="#st" x="321.3" y="1863.3"/>
<use xlink:href="#st" x="323.1" y="1863.2"/>
<use xlink:href="#st" x="324.9" y="1863.5"/>
<use xlink:href="#st" x="326.7" y="1863.3"/>
<use xlink:href="#st" x="328.4" y="1863"/>
<use xlink:href="#st" x="330.2" y="1863"/>
<use xlink:href="#st" x="332" y="1862.5"/>
<use xlink:href="#st" x="333.7" y="1862.9"/>
<use xlink:href="#st" x="335.5" y="1863.5"/>
<use xlink:href="#st" x="337.3" y="1863"/>
<use xlink:href="#st" x="339" y="1863.1"/>
<use xlink:href="#st" x="340.8" y="1862.7"/>
<use xlink:href="#st" x="342.6" y="1863"/>
<use xlink:href="#st" x="344.3" y="1862.8"/>
<use xlink:href="#st" x="346.1" y="1863"/>
<use xlink:href="#st" x="347.9" y="1862.7"/>
<use xlink:href="#st" x="349.7" y="1862.5"/>
<use xlink:href="#st" x="351.4" y="1862.9"/>
<use xlink:href="#st" x="353.2" y="1863.2"/>
<use xlink:href="#st" x="355" y="1863"/>
<use xlink:href="#st" x="356.7" y="1862.4"/>
<use xlink:href="#st" x="358.5" y="1862.6"/>
<use xlink:href="#st" x="360.3" y="1862.7"/>
<use xlink:href="#st" x="362" y="1862.8"/>
<use xlink:href="#st" x="363.8" y="1862.3"/>
<use xlink:href="#st" x="365.6" y="1862.5"/>
<use xlink:href="#st" x="367.4" y="1862.5"/>
<use xlink:href="#st" x="369.1" y="1862.6"/>
<use xlink:href="#st" x="370.9" y="1862.5"/>
<use xlink:href="#st" x="372.7" y="1862.5"/>
<use xlink:href="#st" x="374.4" y="1862.2"/>
<use xlink:href="#st" x="376.2" y="1862"/>
<use xlink:href="#st" x="378" y="1862.7"/>
<use xlink:href="#st" x="379.7" y="1862.6"/>
<use xlink:href="#st" x="381.5" y="1862.2"/>
<use xlink:href="#st" x="383.3" y="1862.2"/>
<use xlink:href="#st" x="385" y="1862.5"/>
<use xlink:href="#st" x="386.8" y="1862.3"/>
<use xlink:href="#st" x="388.6" y="1862.2"/>
<use xlink:href="#st" x="390.4" y="1862.1"/>
<use xlink:href="#st" x="392.1" y="1862.1"/>
<use xlink:href="#st" x="393.9" y="1862"/>
<use xlink:href="#st" x="395.7" y="1861.7"/>
<use xlink:href="#st" x="397.4" y="1861.7"/>
<use xlink:href="#st" x="399.2" y="1861.7"/>
<use xlink:href="#st" x="401" y="1861.8"/>
<use xlink:href="#st" x="402.7" y="1861.9"/>
<use xlink:href="#st" x="404.5" y="1861.9"/>
<use xlink:href="#st" x="406.3" y="1861.6"/>
<use xlink:href="#st" x="408" y="1861.7"/>
<use xlink:href="#st" x="409.8" y="1861.5"/>
<use xlink:href="#st" x="411.6" y="1861.5"/>
<use xlink:href="#st" x="413.4" y="1861.6"/>
<use xlink:href="#st" x="415.1" y="1861.4"/>
<use xlink:href="#st" x="416.9" y="1861.8"/>
<use xlink:href="#st" x="418.7" y="1861.5"/>
<use xlink:href="#st" x="420.4" y="1861.5"/>
<use xlink:href="#st" x="422.2" y="1861.2"/>
<use xlink:href="#st" x="424" y="1861.5"/>
<use xlink:href="#st" x="425.7" y="1861.2"/>
<use xlink:href="#st" x="427.5" y="1861.3"/>
<use xlink:href="#st" x="429.3" y="1861.1"/>
<use xlink:href="#st" x="431" y="1861"/>
<use xlink:href="#st" x="432.8" y="1861.2"/>
<use xlink:href="#st" x="434.6" y="1861.1"/>
<use xlink:href="#st" x="436.4" y="1861"/>
<use xlink:href="#st" x="438.1" y="1860.8"/>
<use xlink:href="#st" x="439.9" y="1861"/>
<use xlink:href="#st" x="441.7" y="1860.9"/>
<use xlink:href="#st" x="443.4" y="1861"/>
<use xlink:href="#st" x="445.2" y="1861.1"/>
<use xlink:href="#st" x="447" y="1860.8"/>
<use xlink:href="#st" x="448.7" y="1860.7"/>
<use xlink:href="#st" x="450.5" y="1860.9"/>
<use xlink:href="#st" x="452.3" y="1860.3"/>
<use xlink:href="#st" x="454" y="1860.8"/>
<use xlink:href="#st" x="455.8" y="1860.4"/>
<use xlink:href="#st" x="457.6" y="1860.5"/>
<use xlink:href="#st" x="459.4" y="1860.9"/>
<use xlink:href="#st" x="461.1" y="1860.5"/>
<use xlink:href="#st" x="462.9" y="1860.8"/>
<use xlink:href="#st" x="464.7" y="1860.4"/>
<use xlink:href="#st" x="466.4" y="1860.2"/>
<use xlink:href="#st" x="468.2" y="1859.9"/>
<use xlink:href="#st" x="470" y="1860.1"/>
<use xlink:href="#st" x="471.7" y="1860.5"/>
<use xlink:href="#st" x="473.5" y="1860.2"/>
<use xlink:href="#st" x="475.3" y="1859.8"/>
<use xlink:href="#st" x="477" y="1860"/>
<use xlink:href="#st" x="478.8" y="1859.6"/>
<use xlink:href="#st" x="480.6" y="1860.1"/>
<use xlink:href="#st" x="482.4" y="1860.1"/>
<use xlink:href="#st" x="484.1" y="1860.2"/>
<use xlink:href="#st" x="485.9" y="1859.9"/>
<use xlink:href="#st" x="487.7" y="1859.5"/>
<use xlink:href="#st" x="489.4" y="1859.9"/>
<use xlink:href="#st" x="491.2" y="1859.5"/>
<use xlink:href="#st" x="493" y="1859.5"/>
<use xlink:href="#st" x="494.7" y="1859.4"/>
<use xlink:href="#st" x="496.5" y="1859.6"/>
<use xlink:href="#st" x="498.3" y="1859.5"/>
<use xlink:href="#st" x="500" y="1859"/>
<use xlink:href="#st" x="501.8" y="1859.7"/>
<use xlink:href="#st" x="503.6" y="1859.2"/>
<use xlink:href="#st" x="505.4" y="1859"/>
<use xlink:href="#st" x="507.1" y="1859.2"/>
<use xlink:href="#st" x="508.9" y="1858.8"/>
<use xlink:href="#st" x="510.7" y="1859.8"/>
<use xlink:href="#st" x="512.4" y="1859.2"/>
<use xlink:href="#st" x="514.2" y="1859.3"/>
<use xlink:href="#st" x="516" y="1859.1"/>
<use xlink:href="#st" x="517.7" y="1859"/>
<use xlink:href="#st" x="519.5" y="1858.8"/>
<use xlink:href="#st" x="521.3" y="1859"/>
<use xlink:href="#st" x="523" y="1858.6"/>
<use xlink:href="#st" x="524.8" y="1859.1"/>
<use xlink:href="#st" x="526.6" y="1858.5"/>
<use xlink:href="#st" x="528.4" y="1858.7"/>
<use xlink:href="#st" x="530.1" y="1859"/>
<use xlink:href="#st" x="531.9" y="1858.9"/>
<use xlink:href="#st" x="533.7" y="1858.9"/>
<use xlink:href="#st" x="535.4" y="1858.7"/>
<use xlink:href="#st" x="537.2" y="1858.4"/>
<use xlink:href="#st" x="539" y="1858"/>
<use xlink:href="#st" x="540.7" y="1858.1"/>
<use xlink:href="#st" x="542.5" y="1858.5"/>
<use xlink:href="#st" x="544.3" y="1858.7"/>
<use xlink:href="#st" x="546" y="1858.2"/>
<use xlink:href="#st" x="547.8" y="1858.4"/>
<use xlink:href="#st" x="549.6" y="1858"/>
<use xlink:href="#st" x="551.4" y="1858.1"/>
<use xlink:href="#st" x="553.1" y="1857.3"/>
<use xlink:href="#st" x="554.9" y="1858.2"/>
<use xlink:href="#st" x="556.7" y="1857.7"/>
<use xlink:href="#st" x="558.4" y="1857.3"/>
<use xlink:href="#st" x="560.2" y="1857.7"/>
<use xlink:href="#st" x="562" y="1857.8"/>
<use xlink:href="#st" x="563.7" y="1857.2"/>
<use xlink:href="#st" x="565.5" y="1857.9"/>
<use xlink:href="#st" x="567.3" y="1857.8"/>
<use xlink:href="#st" x="569.1" y="1857.6"/>
<use xlink:href="#st" x="570.8" y="1857.2"/>
<use xlink:href="#st" x="572.6" y="1857.1"/>
<use xlink:href="#st" x="574.4" y="1857.2"/>
<use xlink:href="#st" x="576.1" y="1856.6"/>
<use xlink:href="#st" x="577.9" y="1857.1"/>
<use xlink:href="#st" x="579.7" y="1857"/>
<use xlink:href="#st" x="581.4" y="1857"/>
<use xlink:href="#st" x="583.2" y="1856.6"/>
<use xlink:href="#st" x="585" y="1856.8"/>
<use xlink:href="#st" x="586.7" y="1856.8"/>
<use xlink:href="#st" x="588.5" y="1856.3"/>
<use xlink:href="#st" x="590.3" y="1856.3"/>
<use xlink:href="#st" x="592.1" y="1856.3"/>
<use xlink:href="#st" x="593.8" y="1856.7"/>
<use xlink:href="#st" x="595.6" y="1856.6"/>
<use xlink:href="#st" x="597.4" y="1856.4"/>
<use xlink:href="#st" x="599.1" y="1856.3"/>
<use xlink:href="#st" x="600.9" y="1856.3"/>
<use xlink:href="#st" x="602.7" y="1856.2"/>
<use xlink:href="#st" x="604.4" y="1855.9"/>
<use xlink:href="#st" x="606.2" y="1856.2"/>
<use xlink:href="#st" x="608" y="1855.9"/>
<use xlink:href="#st" x="609.7" y="1855.9"/>
<use xlink:href="#st" x="611.5" y="1855.9"/>
<use xlink:href="#st" x="613.3" y="1855.8"/>
<use xlink:href="#st" x="615.1" y="1855.5"/>
<use xlink:href="#st" x="616.8" y="1855.5"/>
<use xlink:href="#st" x="618.6" y="1855.7"/>
<use xlink:href="#st" x="620.4" y="1855.4"/>
<use xlink:href="#st" x="622.1" y="1855.3"/>
<use xlink:href="#st" x="623.9" y="1855.2"/>
<use xlink:href="#st" x="625.7" y="1855.3"/>
<use xlink:href="#st" x="627.4" y="1854.9"/>
<use xlink:href="#st" x="629.2" y="1855"/>
<use xlink:href="#st" x="631" y="1855.2"/>
<use xlink:href="#st" x="632.7" y="1855.2"/>
<use xlink:href="#st" x="634.5" y="1855.1"/>
<use xlink:href="#st" x="636.3" y="1854.7"/>
<use xlink:href="#st" x="638.1" y="1854.8"/>
<use xlink:href="#st" x="639.8" y="1854.7"/>
<use xlink:href="#st" x="641.6" y="1854.5"/>
<use xlink:href="#st" x="643.4" y="1854.2"/>
<use xlink:href="#st" x="645.1" y="1853.9"/>
<use xlink:href="#st" x="646.9" y="1854.3"/>
<use xlink:href="#st" x="648.7" y="1853.8"/>
<use xlink:href="#st" x="650.4" y="1854"/>
<use xlink:href="#st" x="652.2" y="1853.8"/>
<use xlink:href="#st" x="654" y="1854"/>
<use xlink:href="#st" x="655.7" y="1854.2"/>
<use xlink:href="#st" x="657.5" y="1853.7"/>
<use xlink:href="#st" x="659.3" y="1853.4"/>
<use xlink:href="#st" x="661.1" y="1854"/>
<use xlink:href="#st" x="662.8" y="1853.6"/>
<use xlink:href="#st" x="664.6" y="1853.4"/>
<use xlink:href="#st" x="666.4" y="1853.3"/>
<use xlink:href="#st" x="668.1" y="1853.6"/>
<use xlink:href="#st" x="669.9" y="1853.4"/>
<use xlink:href="#st" x="671.7" y="1852.9"/>
<use xlink:href="#st" x="673.4" y="1852.7"/>
<use xlink:href="#st" x="675.2" y="1852.9"/>
<use xlink:href="#st" x="677" y="1852.7"/>
<use xlink:href="#st" x="678.7" y="1852.8"/>
<use xlink:href="#st" x="680.5" y="1852.6"/>
<use xlink:href="#st" x="682.3" y="1852.7"/>
<use xlink:href="#st" x="684.1" y="1852.6"/>
<use xlink:href="#st" x="685.8" y="1852.6"/>
<use xlink:href="#st" x="687.6" y="1852.3"/>
<use xlink:href="#st" x="689.4" y="1852"/>
<use xlink:href="#st" x="691.1" y="1852.1"/>
<use xlink:href="#st" x="692.9" y="1851.9"/>
<use xlink:href="#st" x="694.7" y="1852.1"/>
<use xlink:href="#st" x="696.4" y="1851.7"/>
<use xlink:href="#st" x="698.2" y="1852.5"/>
<use xlink:href="#st" x="700" y="1852"/>
<use xlink:href="#st" x="701.7" y="1851.7"/>
<use xlink:href="#st" x="703.5" y="1851.9"/>
<use xlink:href="#st" x="705.3" y="1851.3"/>
<use xlink:href="#st" x="707.1" y="1851.3"/>
<use xlink:href="#st" x="708.8" y="1851.4"/>
<use xlink:href="#st" x="710.6" y="1851.1"/>
<use xlink:href="#st" x="712.4" y="1851.4"/>
<use xlink:href="#st" x="714.1" y="1851.1"/>
<use xlink:href="#st" x="715.9" y="1850.9"/>
<use xlink:href="#st" x="717.7" y="1851.1"/>
<use xlink:href="#st" x="719.4" y="1850.4"/>
<use xlink:href="#st" x="721.2" y="1850.7"/>
<use xlink:href="#st" x="723" y="1850.2"/>
<use xlink:href="#st" x="724.7" y="1850.3"/>
<use xlink:href="#st" x="726.5" y="1850.1"/>
<use xlink:href="#st" x="728.3" y="1850.3"/>
<use xlink:href="#st" x="730.1" y="1850.1"/>
<use xlink:href="#st" x="731.8" y="1850"/>
<use xlink:href="#st" x="733.6" y="1849.7"/>
<use xlink:href="#st" x="735.4" y="1849.4"/>
<use xlink:href="#st" x="737.1" y="1849.7"/>
<use xlink:href="#st" x="738.9" y="1849.5"/>
<use xlink:href="#st" x="740.7" y="1849.3"/>
<use xlink:href="#st" x="742.4" y="1849"/>
<use xlink:href="#st" x="744.2" y="1849.1"/>
<use xlink:href="#st" x="746" y="1849.1"/>
<use xlink:href="#st" x="747.7" y="1849"/>
<use xlink:href="#st" x="749.5" y="1848.8"/>
<use xlink:href="#st" x="751.3" y="1848.6"/>
<use xlink:href="#st" x="753.1" y="1848.7"/>
<use xlink:href="#st" x="754.8" y="1848.5"/>
<use xlink:href="#st" x="756.6" y="1848.2"/>
<use xlink:href="#st" x="758.4" y="1848.2"/>
<use xlink:href="#st" x="760.1" y="1848.2"/>
<use xlink:href="#st" x="761.9" y="1847.8"/>
<use xlink:href="#st" x="763.7" y="1847.7"/>
<use xlink:href="#st" x="765.4" y="1847.6"/>
<use xlink:href="#st" x="767.2" y="1847.5"/>
<use xlink:href="#st" x="769" y="1847.6"/>
<use xlink:href="#st" x="770.8" y="1847.3"/>
<use xlink:href="#st" x="772.5" y="1847.2"/>
<use xlink:href="#st" x="774.3" y="1847.1"/>
<use xlink:href="#st" x="776.1" y="1847.4"/>
<use xlink:href="#st" x="777.8" y="1846.9"/>
<use xlink:href="#st" x="779.6" y="1846.7"/>
<use xlink:href="#st" x="781.4" y="1846.5"/>
<use xlink:href="#st" x="783.1" y="1846.5"/>
<use xlink:href="#st" x="784.9" y="1846.3"/>
<use xlink:href="#st" x="786.7" y="1846.6"/>
<use xlink:href="#st" x="788.4" y="1846.4"/>
<use xlink:href="#st" x="790.2" y="1846.6"/>
<use xlink:href="#st" x="792" y="1845.9"/>
<use xlink:href="#st" x="793.8" y="1845.3"/>
<use xlink:href="#st" x="795.5" y="1845.2"/>
<use xlink:href="#st" x="797.3" y="1845.6"/>
<use xlink:href="#st" x="799.1" y="1845.1"/>
<use xlink:href="#st" x="800.8" y="1844.8"/>
<use xlink:href="#st" x="802.6" y="1845.1"/>
<use xlink:href="#st" x="804.4" y="1845.3"/>
<use xlink:href="#st" x="806.1" y="1844.4"/>
<use xlink:href="#st" x="807.9" y="1844.6"/>
<use xlink:href="#st" x="809.7" y="1844.5"/>
<use xlink:href="#st" x="811.4" y="1843.9"/>
<use xlink:href="#st" x="813.2" y="1844"/>
<use xlink:href="#st" x="815" y="1843.8"/>
<use xlink:href="#st" x="816.8" y="1843.5"/>
<use xlink:href="#st" x="818.5" y="1843.7"/>
<use xlink:href="#st" x="820.3" y="1843.7"/>
<use xlink:href="#st" x="822.1" y="1843.2"/>
<use xlink:href="#st" x="823.8" y="1843.2"/>
<use xlink:href="#st" x="825.6" y="1842.9"/>
<use xlink:href="#st" x="827.4" y="1842.8"/>
<use xlink:href="#st" x="829.1" y="1842.9"/>
<use xlink:href="#st" x="830.9" y="1842.6"/>
<use xlink:href="#st" x="832.7" y="1842.5"/>
<use xlink:href="#st" x="834.4" y="1842.3"/>
<use xlink:href="#st" x="836.2" y="1842.1"/>
<use xlink:href="#st" x="838" y="1841.9"/>
<use xlink:href="#st" x="839.8" y="1841.8"/>
<use xlink:href="#st" x="841.5" y="1841.9"/>
<use xlink:href="#st" x="843.3" y="1841.3"/>
<use xlink:href="#st" x="845.1" y="1841.6"/>
<use xlink:href="#st" x="846.8" y="1840.7"/>
<use xlink:href="#st" x="848.6" y="1841.1"/>
<use xlink:href="#st" x="850.4" y="1840.8"/>
<use xlink:href="#st" x="852.1" y="1840.3"/>
<use xlink:href="#st" x="853.9" y="1840.5"/>
<use xlink:href="#st" x="855.7" y="1840.6"/>
<use xlink:href="#st" x="857.4" y="1840.4"/>
<use xlink:href="#st" x="859.2" y="1839.9"/>
<use xlink:href="#st" x="861" y="1839.7"/>
<use xlink:href="#st" x="862.8" y="1839.4"/>
<use xlink:href="#st" x="864.5" y="1839.3"/>
<use xlink:href="#st" x="866.3" y="1839.3"/>
<use xlink:href="#st" x="868.1" y="1838.9"/>
<use xlink:href="#st" x="869.8" y="1838.5"/>
<use xlink:href="#st" x="871.6" y="1838.9"/>
<use xlink:href="#st" x="873.4" y="1837.7"/>
<use xlink:href="#st" x="875.1" y="1838.4"/>
<use xlink:href="#st" x="876.9" y="1837.8"/>
<use xlink:href="#st" x="878.7" y="1837.5"/>
<use xlink:href="#st" x="880.4" y="1837.5"/>
<use xlink:href="#st" x="882.2" y="1837.5"/>
<use xlink:href="#st" x="884" y="1837.2"/>
<use xlink:href="#st" x="885.8" y="1836.9"/>
<use xlink:href="#st" x="887.5" y="1837.5"/>
<use xlink:href="#st" x="889.3" y="1836.7"/>
<use xlink:href="#st" x="891.1" y="1836.7"/>
<use xlink:href="#st" x="892.8" y="1836.5"/>
<use xlink:href="#st" x="894.6" y="1836.1"/>
<use xlink:href="#st" x="896.4" y="1835.9"/>
<use xlink:href="#st" x="898.1" y="1835.6"/>
<use xlink:href="#st" x="899.9" y="1835.7"/>
<use xlink:href="#st" x="901.7" y="1835.1"/>
<use xlink:href="#st" x="903.4" y="1835.6"/>
<use xlink:href="#st" x="905.2" y="1835.1"/>
<use xlink:href="#st" x="907" y="1835"/>
<use xlink:href="#st" x="908.8" y="1834.5"/>
<use xlink:href="#st" x="910.5" y="1834.4"/>
<use xlink:href="#st" x="912.3" y="1833.9"/>
<use xlink:href="#st" x="914.1" y="1834"/>
<use xlink:href="#st" x="915.8" y="1833.3"/>
<use xlink:href="#st" x="917.6" y="1833.2"/>
<use xlink:href="#st" x="919.4" y="1833.3"/>
<use xlink:href="#st" x="921.1" y="1833.3"/>
<use xlink:href="#st" x="922.9" y="1833"/>
<use xlink:href="#st" x="924.7" y="1832.8"/>
<use xlink:href="#st" x="926.4" y="1832"/>
<use xlink:href="#st" x="928.2" y="1831.9"/>
<use xlink:href="#st" x="930" y="1832.1"/>
<use xlink:href="#st" x="931.8" y="1831.2"/>
<use xlink:href="#st" x="933.5" y="1831.4"/>
<use xlink:href="#st" x="935.3" y="1831.6"/>
<use xlink:href="#st" x="937.1" y="1830.6"/>
<use xlink:href="#st" x="938.8" y="1830.3"/>
<use xlink:href="#st" x="940.6" y="1830.4"/>
<use xlink:href="#st" x="942.4" y="1830.3"/>
<use xlink:href="#st" x="944.1" y="1829.6"/>
<use xlink:href="#st" x="945.9" y="1829.7"/>
<use xlink:href="#st" x="947.7" y="1829.4"/>
<use xlink:href="#st" x="949.4" y="1829"/>
<use xlink:href="#st" x="951.2" y="1828.8"/>
<use xlink:href="#st" x="953" y="1828.7"/>
<use xlink:href="#st" x="954.8" y="1828.6"/>
<use xlink:href="#st" x="956.5" y="1827.9"/>
<use xlink:href="#st" x="958.3" y="1828.3"/>
<use xlink:href="#st" x="960.1" y="1827.5"/>
<use xlink:href="#st" x="961.8" y="1827.3"/>
<use xlink:href="#st" x="963.6" y="1826.9"/>
<use xlink:href="#st" x="965.4" y="1826.9"/>
<use xlink:href="#st" x="967.1" y="1826.5"/>
<use xlink:href="#st" x="968.9" y="1826.1"/>
<use xlink:href="#st" x="970.7" y="1826.2"/>
<use xlink:href="#st" x="972.5" y="1825.7"/>
<use xlink:href="#st" x="974.2" y="1825.3"/>
<use xlink:href="#st" x="976" y="1825.4"/>
<use xlink:href="#st" x="977.8" y="1825.1"/>
<use xlink:href="#st" x="979.5" y="1824.2"/>
<use xlink:href="#st" x="981.3" y="1824.1"/>
<use xlink:href="#st" x="983.1" y="1824.2"/>
<use xlink:href="#st" x="984.8" y="1823.5"/>
<use xlink:href="#st" x="986.6" y="1823.3"/>
<use xlink:href="#st" x="988.4" y="1822.8"/>
<use xlink:href="#st" x="990.1" y="1822.6"/>
<use xlink:href="#st" x="991.9" y="1823.1"/>
<use xlink:href="#st" x="993.7" y="1822.3"/>
<use xlink:href="#st" x="995.5" y="1821.6"/>
<use xlink:href="#st" x="997.2" y="1821.3"/>
<use xlink:href="#st" x="999" y="1821.4"/>
<use xlink:href="#st" x="1000.8" y="1821.3"/>
<use xlink:href="#st" x="1002.5" y="1820.6"/>
<use xlink:href="#st" x="1004.3" y="1820.5"/>
<use xlink:href="#st" x="1006.1" y="1820.1"/>
<use xlink:href="#st" x="1007.8" y="1820"/>
<use xlink:href="#st" x="1009.6" y="1819.3"/>
<use xlink:href="#st" x="1011.4" y="1819"/>
<use xlink:href="#st" x="1013.1" y="1818.7"/>
<use xlink:href="#st" x="1014.9" y="1818.7"/>
<use xlink:href="#st" x="1016.7" y="1818.5"/>
<use xlink:href="#st" x="1018.5" y="1818.1"/>
<use xlink:href="#st" x="1020.2" y="1817.4"/>
<use xlink:href="#st" x="1022" y="1817.5"/>
<use xlink:href="#st" x="1023.8" y="1816.7"/>
<use xlink:href="#st" x="1025.5" y="1816.1"/>
<use xlink:href="#st" x="1027.3" y="1816.3"/>
<use xlink:href="#st" x="1029.1" y="1815.8"/>
<use xlink:href="#st" x="1030.8" y="1815.2"/>
<use xlink:href="#st" x="1032.6" y="1814.9"/>
<use xlink:href="#st" x="1034.4" y="1814.9"/>
<use xlink:href="#st" x="1036.1" y="1814.4"/>
<use xlink:href="#st" x="1037.9" y="1814"/>
<use xlink:href="#st" x="1039.7" y="1813.7"/>
<use xlink:href="#st" x="1041.5" y="1813.2"/>
<use xlink:href="#st" x="1043.2" y="1812.9"/>
<use xlink:href="#st" x="1045" y="1812.3"/>
<use xlink:href="#st" x="1046.8" y="1812.6"/>
<use xlink:href="#st" x="1048.5" y="1811.6"/>
<use xlink:href="#st" x="1050.3" y="1811.3"/>
<use xlink:href="#st" x="1052.1" y="1811.1"/>
<use xlink:href="#st" x="1053.8" y="1810.6"/>
<use xlink:href="#st" x="1055.6" y="1810.1"/>
<use xlink:href="#st" x="1057.4" y="1809.9"/>
<use xlink:href="#st" x="1059.1" y="1809.6"/>
<use xlink:href="#st" x="1060.9" y="1809.1"/>
<use xlink:href="#st" x="1062.7" y="1808.9"/>
<use xlink:href="#st" x="1064.5" y="1808.7"/>
<use xlink:href="#st" x="1066.2" y="1808.2"/>
<use xlink:href="#st" x="1068" y="1807.8"/>
<use xlink:href="#st" x="1069.8" y="1807.2"/>
<use xlink:href="#st" x="1071.5" y="1806.6"/>
<use xlink:href="#st" x="1073.3" y="1806.3"/>
<use xlink:href="#st" x="1075.1" y="1805.7"/>
<use xlink:href="#st" x="1076.8" y="1805.6"/>
<use xlink:href="#st" x="1078.6" y="1805.3"/>
<use xlink:href="#st" x="1080.4" y="1804.9"/>
<use xlink:href="#st" x="1082.1" y="1804.5"/>
<use xlink:href="#st" x="1083.9" y="1804"/>
<use xlink:href="#st" x="1085.7" y="1803.2"/>
<use xlink:href="#st" x="1087.5" y="1803.4"/>
<use xlink:href="#st" x="1089.2" y="1802.5"/>
<use xlink:href="#st" x="1091" y="1802.2"/>
<use xlink:href="#st" x="1092.8" y="1801.6"/>
<use xlink:href="#st" x="1094.5" y="1801.4"/>
<use xlink:href="#st" x="1096.3" y="1800.7"/>
<use xlink:href="#st" x="1098.1" y="1800.6"/>
<use xlink:href="#st" x="1099.8" y="1799.9"/>
<use xlink:href="#st" x="1101.6" y="1800"/>
<use xlink:href="#st" x="1103.4" y="1799"/>
<use xlink:href="#st" x="1105.1" y="1798.5"/>
<use xlink:href="#st" x="1106.9" y="1798.6"/>
<use xlink:href="#st" x="1108.7" y="1797.6"/>
<use xlink:href="#st" x="1110.5" y="1797.5"/>
<use xlink:href="#st" x="1112.2" y="1796.6"/>
<use xlink:href="#st" x="1114" y="1796.4"/>
<use xlink:href="#st" x="1115.8" y="1795.8"/>
<use xlink:href="#st" x="1117.5" y="1795.4"/>
<use xlink:href="#st" x="1119.3" y="1795.2"/>
<use xlink:href="#st" x="1121.1" y="1794.1"/>
<use xlink:href="#st" x="1122.8" y="1793.7"/>
<use xlink:href="#st" x="1124.6" y="1793.7"/>
<use xlink:href="#st" x="1126.4" y="1792.9"/>
<use xlink:href="#st" x="1128.1" y="1792.4"/>
<use xlink:href="#st" x="1129.9" y="1792.2"/>
<use xlink:href="#st" x="1131.7" y="1791.8"/>
<use xlink:href="#st" x="1133.5" y="1790.8"/>
<use xlink:href="#st" x="1135.2" y="1790.7"/>
<use xlink:href="#st" x="1137" y="1789.9"/>
<use xlink:href="#st" x="1138.8" y="1789.2"/>
<use xlink:href="#st" x="1140.5" y="1789"/>
<use xlink:href="#st" x="1142.3" y="1788.7"/>
<use xlink:href="#st" x="1144.1" y="1787.8"/>
<use xlink:href="#st" x="1145.8" y="1787.8"/>
<use xlink:href="#st" x="1147.6" y="1787.2"/>
<use xlink:href="#st" x="1149.4" y="1785.8"/>
<use xlink:href="#st" x="1151.1" y="1786.1"/>
<use xlink:href="#st" x="1152.9" y="1785.4"/>
<use xlink:href="#st" x="1154.7" y="1785.1"/>
<use xlink:href="#st" x="1156.5" y="1784.4"/>
<use xlink:href="#st" x="1158.2" y="1783.8"/>
<use xlink:href="#st" x="1160" y="1783.9"/>
<use xlink:href="#st" x="1161.8" y="1782.9"/>
<use xlink:href="#st" x="1163.5" y="1782.1"/>
<use xlink:href="#st" x="1165.3" y="1781.5"/>
<use xlink:href="#st" x="1167.1" y="1781.1"/>
<use xlink:href="#st" x="1168.8" y="1780.8"/>
<use xlink:href="#st" x="1170.6" y="1780"/>
<use xlink:href="#st" x="1172.4" y="1779.6"/>
<use xlink:href="#st" x="1174.2" y="1779.1"/>
<use xlink:href="#st" x="1175.9" y="1778.4"/>
<use xlink:href="#st" x="1177.7" y="1777.3"/>
<use xlink:href="#st" x="1179.5" y="1777.4"/>
<use xlink:href="#st" x="1181.2" y="1776.4"/>
<use xlink:href="#st" x="1183" y="1776"/>
<use xlink:href="#st" x="1184.8" y="1775.8"/>
<use xlink:href="#st" x="1186.5" y="1775.1"/>
<use xlink:href="#st" x="1188.3" y="1774.4"/>
<use xlink:href="#st" x="1190.1" y="1773.9"/>
<use xlink:href="#st" x="1191.8" y="1773.1"/>
<use xlink:href="#st" x="1193.6" y="1772.8"/>
<use xlink:href="#st" x="1195.4" y="1772.2"/>
<use xlink:href="#st" x="1197.2" y="1771.2"/>
<use xlink:href="#st" x="1198.9" y="1770.8"/>
<use xlink:href="#st" x="1200.7" y="1770.4"/>
<use xlink:href="#st" x="1202.5" y="1769.6"/>
<use xlink:href="#st" x="1204.2" y="1768.6"/>
<use xlink:href="#st" x="1206" y="1768.5"/>
<use xlink:href="#st" x="1207.8" y="1768.1"/>
<use xlink:href="#st" x="1209.5" y="1767"/>
<use xlink:href="#st" x="1211.3" y="1766.2"/>
<use xlink:href="#st" x="1213.1" y="1765.7"/>
<use xlink:href="#st" x="1214.8" y="1765.6"/>
<use xlink:href="#st" x="1216.6" y="1765.2"/>
<use xlink:href="#st" x="1218.4" y="1763.8"/>
<use xlink:href="#st" x="1220.2" y="1763.5"/>
<use xlink:href="#st" x="1221.9" y="1762.7"/>
<use xlink:href="#st" x="1223.7" y="1762.3"/>
<use xlink:href="#st" x="1225.5" y="1761.2"/>
<use xlink:href="#st" x="1227.2" y="1760.9"/>
<use xlink:href="#st" x="1229" y="1760.4"/>
<use xlink:href="#st" x="1230.8" y="1759.6"/>
<use xlink:href="#st" x="1232.5" y="1759.3"/>
<use xlink:href="#st" x="1234.3" y="1758.3"/>
<use xlink:href="#st" x="1236.1" y="1757.7"/>
<use xlink:href="#st" x="1237.8" y="1757.5"/>
<use xlink:href="#st" x="1239.6" y="1756.7"/>
<use xlink:href="#st" x="1241.4" y="1756"/>
<use xlink:href="#st" x="1243.2" y="1755.5"/>
<use xlink:href="#st" x="1244.9" y="1754.4"/>
<use xlink:href="#st" x="1246.7" y="1753.5"/>
<use xlink:href="#st" x="1248.5" y="1753.1"/>
<use xlink:href="#st" x="1250.2" y="1752.8"/>
<use xlink:href="#st" x="1252" y="1752.2"/>
<use xlink:href="#st" x="1253.8" y="1750.9"/>
<use xlink:href="#st" x="1255.5" y="1750.5"/>
<use xlink:href="#st" x="1257.3" y="1749.8"/>
<use xlink:href="#st" x="1259.1" y="1749.4"/>
<use xlink:href="#st" x="1260.8" y="1748.8"/>
<use xlink:href="#st" x="1262.6" y="1747.2"/>
<use xlink:href="#st" x="1264.4" y="1747.2"/>
<use xlink:href="#st" x="1266.2" y="1746.4"/>
<use xlink:href="#st" x="1267.9" y="1745.9"/>
<use xlink:href="#st" x="1269.7" y="1744.6"/>
<use xlink:href="#st" x="1271.5" y="1744.3"/>
<use xlink:href="#st" x="1273.2" y="1743.6"/>
<use xlink:href="#st" x="1275" y="1742.9"/>
<use xlink:href="#st" x="1276.8" y="1742.2"/>
<use xlink:href="#st" x="1278.5" y="1741.2"/>
<use xlink:href="#st" x="1280.3" y="1741.2"/>
<use xlink:href="#st" x="1282.1" y="1739.9"/>
<use xlink:href="#st" x="1283.8" y="1739.5"/>
<use xlink:href="#st" x="1285.6" y="1738.7"/>
<use xlink:href="#st" x="1287.4" y="1738.1"/>
<use xlink:href="#st" x="1289.2" y="1737.1"/>
<use xlink:href="#st" x="1290.9" y="1736.8"/>
<use xlink:href="#st" x="1292.7" y="1735.9"/>
<use xlink:href="#st" x="1294.5" y="1734.9"/>
<use xlink:href="#st" x="1296.2" y="1734.4"/>
<use xlink:href="#st" x="1298" y="1733.7"/>
<use xlink:href="#st" x="1299.8" y="1732.8"/>
<use xlink:href="#st" x="1301.5" y="1732.1"/>
<use xlink:href="#st" x="1303.3" y="1731.5"/>
<use xlink:href="#st" x="1305.1" y="1730.6"/>
<use xlink:href="#st" x="1306.8" y="1730.1"/>
<use xlink:href="#st" x="1308.6" y="1729"/>
<use xlink:href="#st" x="1310.4" y="1728.7"/>
<use xlink:href="#st" x="1312.2" y="1728"/>
<use xlink:href="#st" x="1313.9" y="1726.8"/>
<use xlink:href="#st" x="1315.7" y="1726.5"/>
<use xlink:href="#st" x="1317.5" y="1725.6"/>
<use xlink:href="#st" x="1319.2" y="1724.7"/>
<use xlink:href="#st" x="1321" y="1723.8"/>
<use xlink:href="#st" x="1322.8" y="1723.3"/>
<use xlink:href="#st" x="1324.5" y="1722.5"/>
<use xlink:href="#st" x="1326.3" y="1721.7"/>
<use xlink:href="#st" x="1328.1" y="1720.8"/>
<use xlink:href="#st" x="1329.8" y="1720.2"/>
<use xlink:href="#st" x="1331.6" y="1719.3"/>
<use xlink:href="#st" x="1333.4" y="1718.3"/>
<use xlink:href="#st" x="1335.2" y="1717.8"/>
<use xlink:href="#st" x="1336.9" y="1717.1"/>
<use xlink:href="#st" x="1338.7" y="1716.4"/>
<use xlink:href="#st" x="1340.5" y="1715.6"/>
<use xlink:href="#st" x="1342.2" y="1714.9"/>
<use xlink:href="#st" x="1344" y="1714.1"/>
<use xlink:href="#st" x="1345.8" y="1713.2"/>
<use xlink:href="#st" x="1347.5" y="1712.2"/>
<use xlink:href="#st" x="1349.3" y="1711.3"/>
<use xlink:href="#st" x="1351.1" y="1710.7"/>
<use xlink:href="#st" x="1352.9" y="1709.7"/>
<use xlink:href="#st" x="1354.6" y="1709.3"/>
<use xlink:href="#st" x="1356.4" y="1707.7"/>
<use xlink:href="#st" x="1358.2" y="1706.8"/>
<use xlink:href="#st" x="1359.9" y="1706.6"/>
<use xlink:href="#st" x="1361.7" y="1705.6"/>
<use xlink:href="#st" x="1363.5" y="1704.8"/>
<use xlink:href="#st" x="1365.2" y="1703.9"/>
<use xlink:href="#st" x="1367" y="1703.3"/>
<use xlink:href="#st" x="1368.8" y="1702.7"/>
<use xlink:href="#st" x="1370.5" y="1701.3"/>
<use xlink:href="#st" x="1372.3" y="1700.9"/>
<use xlink:href="#st" x="1374.1" y="1699.7"/>
<use xlink:href="#st" x="1375.9" y="1699.1"/>
<use xlink:href="#st" x="1377.6" y="1698.2"/>
<use xlink:href="#st" x="1379.4" y="1697"/>
<use xlink:href="#st" x="1381.2" y="1695.9"/>
<use xlink:href="#st" x="1382.9" y="1695.4"/>
<use xlink:href="#st" x="1384.7" y="1694.6"/>
<use xlink:href="#st" x="1386.5" y="1693.6"/>
<use xlink:href="#st" x="1388.2" y="1692.8"/>
<use xlink:href="#st" x="1390" y="1692.2"/>
<use xlink:href="#st" x="1391.8" y="1690.9"/>
<use xlink:href="#st" x="1393.5" y="1690.5"/>
<use xlink:href="#st" x="1395.3" y="1689"/>
<use xlink:href="#st" x="1397.1" y="1688.2"/>
<use xlink:href="#st" x="1398.9" y="1687.2"/>
<use xlink:href="#st" x="1400.6" y="1686.6"/>
<use xlink:href="#st" x="1402.4" y="1685.5"/>
<use xlink:href="#st" x="1404.2" y="1684.2"/>
<use xlink:href="#st" x="1405.9" y="1683.1"/>
<use xlink:href="#st" x="1407.7" y="1682.2"/>
<use xlink:href="#st" x="1409.5" y="1681.4"/>
<use xlink:href="#st" x="1411.2" y="1680.7"/>
<use xlink:href="#st" x="1413" y="1679.4"/>
<use xlink:href="#st" x="1414.8" y="1678.5"/>
<use xlink:href="#st" x="1416.5" y="1677.6"/>
<use xlink:href="#st" x="1418.3" y="1676.3"/>
<use xlink:href="#st" x="1420.1" y="1675.7"/>
<use xlink:href="#st" x="1421.9" y="1674.2"/>
<use xlink:href="#st" x="1423.6" y="1673.7"/>
<use xlink:href="#st" x="1425.4" y="1672.7"/>
<use xlink:href="#st" x="1427.2" y="1671.5"/>
<use xlink:href="#st" x="1428.9" y="1670.8"/>
<use xlink:href="#st" x="1430.7" y="1669.6"/>
<use xlink:href="#st" x="1432.5" y="1668.4"/>
<use xlink:href="#st" x="1434.2" y="1667.8"/>
<use xlink:href="#st" x="1436" y="1666.5"/>
<use xlink:href="#st" x="1437.8" y="1665.6"/>
<use xlink:href="#st" x="1439.5" y="1664.3"/>
<use xlink:href="#st" x="1441.3" y="1662.9"/>
<use xlink:href="#st" x="1443.1" y="1662.1"/>
<use xlink:href="#st" x="1444.9" y="1661"/>
<use xlink:href="#st" x="1446.6" y="1659.8"/>
<use xlink:href="#st" x="1448.4" y="1659"/>
<use xlink:href="#st" x="1450.2" y="1657.6"/>
<use xlink:href="#st" x="1451.9" y="1656.6"/>
<use xlink:href="#st" x="1453.7" y="1655.5"/>
<use xlink:href="#st" x="1455.5" y="1654.6"/>
<use xlink:href="#st" x="1457.2" y="1653.3"/>
<use xlink:href="#st" x="1459" y="1651.7"/>
<use xlink:href="#st" x="1460.8" y="1650.5"/>
<use xlink:href="#st" x="1462.5" y="1649.7"/>
<use xlink:href="#st" x="1464.3" y="1648.4"/>
<use xlink:href="#st" x="1466.1" y="1647.3"/>
<use xlink:href="#st" x="1467.9" y="1646.3"/>
<use xlink:href="#st" x="1469.6" y="1645.2"/>
<use xlink:href="#st" x="1471.4" y="1643.2"/>
<use xlink:href="#st" x="1473.2" y="1642.6"/>
<use xlink:href="#st" x="1474.9" y="1641.1"/>
<use xlink:href="#st" x="1476.7" y="1639.5"/>
<use xlink:href="#st" x="1478.5" y="1638.7"/>
<use xlink:href="#st" x="1480.2" y="1637.3"/>
<use xlink:href="#st" x="1482" y="1636"/>
<use xlink:href="#st" x="1483.8" y="1634.8"/>
<use xlink:href="#st" x="1485.5" y="1633.4"/>
<use xlink:href="#st" x="1487.3" y="1632.2"/>
<use xlink:href="#st" x="1489.1" y="1630.5"/>
<use xlink:href="#st" x="1490.9" y="1629.3"/>
<use xlink:href="#st" x="1492.6" y="1628.3"/>
<use xlink:href="#st" x="1494.4" y="1627"/>
<use xlink:href="#st" x="1496.2" y="1625.5"/>
<use xlink:href="#st" x="1497.9" y="1624.1"/>
<use xlink:href="#st" x="1499.7" y="1622.7"/>
<use xlink:href="#st" x="1501.5" y="1620.9"/>
<use xlink:href="#st" x="1503.2" y="1619.9"/>
<use xlink:href="#st" x="1505" y="1618.4"/>
<use xlink:href="#st" x="1506.8" y="1616.8"/>
<use xlink:href="#st" x="1508.5" y="1615.8"/>
<use xlink:href="#st" x="1510.3" y="1613.8"/>
<use xlink:href="#st" x="1512.1" y="1612.3"/>
<use xlink:href="#st" x="1513.9" y="1610.7"/>
<use xlink:href="#st" x="1515.6" y="1609.7"/>
<use xlink:href="#st" x="1517.4" y="1608.1"/>
<use xlink:href="#st" x="1519.2" y="1606.4"/>
<use xlink:href="#st" x="1520.9" y="1605"/>
<use xlink:href="#st" x="1522.7" y="1603.7"/>
<use xlink:href="#st" x="1524.5" y="1601.6"/>
<use xlink:href="#st" x="1526.2" y="1600.3"/>
<use xlink:href="#st" x="1528" y="1598.6"/>
<use xlink:href="#st" x="1529.8" y="1597.4"/>
<use xlink:href="#st" x="1531.5" y="1595.3"/>
<use xlink:href="#st" x="1533.3" y="1594"/>
<use xlink:href="#st" x="1535.1" y="1592.5"/>
<use xlink:href="#st" x="1536.9" y="1590.6"/>
<use xlink:href="#st" x="1538.6" y="1588.9"/>
<use xlink:href="#st" x="1540.4" y="1587.7"/>
<use xlink:href="#st" x="1542.2" y="1585.6"/>
<use xlink:href="#st" x="1543.9" y="1583.8"/>
<use xlink:href="#st" x="1545.7" y="1582.5"/>
<use xlink:href="#st" x="1547.5" y="1581.2"/>
<use xlink:href="#st" x="1549.2" y="1579.1"/>
<use xlink:href="#st" x="1551" y="1577.3"/>
<use xlink:href="#st" x="1552.8" y="1576.1"/>
<use xlink:href="#st" x="1554.6" y="1573.8"/>
<use xlink:href="#st" x="1556.3" y="1572.6"/>
<use xlink:href="#st" x="1558.1" y="1570.8"/>
<use xlink:href="#st" x="1559.9" y="1568.9"/>
<use xlink:href="#st" x="1561.6" y="1567.4"/>
<use xlink:href="#st" x="1563.4" y="1565.4"/>
<use xlink:href="#st" x="1565.2" y="1564"/>
<use xlink:href="#st" x="1566.9" y="1562.2"/>
<use xlink:href="#st" x="1568.7" y="1560.6"/>
<use xlink:href="#st" x="1570.5" y="1558.8"/>
<use xlink:href="#st" x="1572.2" y="1557"/>
<use xlink:href="#st" x="1574" y="1555.3"/>
<use xlink:href="#st" x="1575.8" y="1553.8"/>
<use xlink:href="#st" x="1577.6" y="1551.8"/>
<use xlink:href="#st" x="1579.3" y="1550.3"/>
<use xlink:href="#st" x="1581.1" y="1548.3"/>
<use xlink:href="#st" x="1582.9" y="1546.7"/>
<use xlink:href="#st" x="1584.6" y="1545.2"/>
<use xlink:href="#st" x="1586.4" y="1543.6"/>
<use xlink:href="#st" x="1588.2" y="1541.8"/>
<use xlink:href="#st" x="1589.9" y="1539.8"/>
<use xlink:href="#st" x="1591.7" y="1538.3"/>
<use xlink:href="#st" x="1593.5" y="1536.5"/>
<use xlink:href="#st" x="1595.2" y="1535"/>
<use xlink:href="#st" x="1597" y="1533.4"/>
<use xlink:href="#st" x="1598.8" y="1531.8"/>
<use xlink:href="#st" x="1600.6" y="1530.4"/>
<use xlink:href="#st" x="1602.3" y="1528.2"/>
<use xlink:href="#st" x="1604.1" y="1526.6"/>
<use xlink:href="#st" x="1605.9" y="1525"/>
<use xlink:href="#st" x="1607.6" y="1523.2"/>
<use xlink:href="#st" x="1609.4" y="1522"/>
<use xlink:href="#st" x="1611.2" y="1519.8"/>
<use xlink:href="#st" x="1612.9" y="1518.9"/>
<use xlink:href="#st" x="1614.7" y="1516.9"/>
<use xlink:href="#st" x="1616.5" y="1515.6"/>
<use xlink:href="#st" x="1618.2" y="1513.9"/>
<use xlink:href="#st" x="1620" y="1512"/>
<use xlink:href="#st" x="1621.8" y="1511.1"/>
<use xlink:href="#st" x="1623.6" y="1509.2"/>
<use xlink:href="#st" x="1625.3" y="1507.7"/>
<use xlink:href="#st" x="1627.1" y="1506.2"/>
<use xlink:href="#st" x="1628.9" y="1504.7"/>
<use xlink:href="#st" x="1630.6" y="1503.1"/>
<use xlink:href="#st" x="1632.4" y="1501.7"/>
<use xlink:href="#st" x="1634.2" y="1500.3"/>
<use xlink:href="#st" x="1635.9" y="1498.8"/>
<use xlink:href="#st" x="1637.7" y="1497.5"/>
<use xlink:href="#st" x="1639.5" y="1496.3"/>
<use xlink:href="#st" x="1641.2" y="1495.2"/>
<use xlink:href="#st" x="1643" y="1493.5"/>
<use xlink:href="#st" x="1644.8" y="1492.4"/>
<use xlink:href="#st" x="1646.6" y="1490.7"/>
<use xlink:href="#st" x="1648.3" y="1489.9"/>
<use xlink:href="#st" x="1650.1" y="1488.8"/>
<use xlink:href="#st" x="1651.9" y="1487.1"/>
<use xlink:href="#st" x="1653.6" y="1486.4"/>
<use xlink:href="#st" x="1655.4" y="1485.4"/>
<use xlink:href="#st" x="1657.2" y="1483.7"/>
<use xlink:href="#st" x="1658.9" y="1483.1"/>
<use xlink:href="#st" x="1660.7" y="1481.5"/>
<use xlink:href="#st" x="1662.5" y="1480.9"/>
<use xlink:href="#st" x="1664.2" y="1479.6"/>
<use xlink:href="#st" x="1666" y="1478.7"/>
<use xlink:href="#st" x="1667.8" y="1478.1"/>
<use xlink:href="#st" x="1669.6" y="1476.8"/>
<use xlink:href="#st" x="1671.3" y="1476"/>
<use xlink:href="#st" x="1673.1" y="1475"/>
<use xlink:href="#st" x="1674.9" y="1474.1"/>
<use xlink:href="#st" x="1676.6" y="1473.1"/>
<use xlink:href="#st" x="1678.4" y="1472.7"/>
<use xlink:href="#st" x="1680.2" y="1471.9"/>
<use xlink:href="#st" x="1681.9" y="1470.7"/>
<use xlink:href="#st" x="1683.7" y="1470.4"/>
<use xlink:href="#st" x="1685.5" y="1469.7"/>
<use xlink:href="#st" x="1687.2" y="1469.6"/>
<use xlink:href="#st" x="1689" y="1469"/>
<use xlink:href="#st" x="1690.8" y="1468.3"/>
<use xlink:href="#st" x="1692.6" y="1467.7"/>
<use xlink:href="#st" x="1694.3" y="1467.1"/>
<use xlink:href="#st" x="1696.1" y="1466.2"/>
<use xlink:href="#st" x="1697.9" y="1466.7"/>
<use xlink:href="#st" x="1699.6" y="1466.1"/>
<use xlink:href="#st" x="1701.4" y="1465.6"/>
<use xlink:href="#st" x="1703.2" y="1465.4"/>
<use xlink:href="#st" x="1704.9" y="1464.9"/>
<use xlink:href="#st" x="1706.7" y="1465"/>
<use xlink:href="#st" x="1708.5" y="1465"/>
<use xlink:href="#st" x="1710.2" y="1464.2"/>
<use xlink:href="#st" x="1712" y="1464.5"/>
<use xlink:href="#st" x="1713.8" y="1464.8"/>
<use xlink:href="#st" x="1715.6" y="1464.6"/>
<use xlink:href="#st" x="1717.3" y="1464.5"/>
<use xlink:href="#st" x="1719.1" y="1464.9"/>
<use xlink:href="#st" x="1720.9" y="1464.5"/>
<use xlink:href="#st" x="1722.6" y="1464.8"/>
<use xlink:href="#st" x="1724.4" y="1465.1"/>
<use xlink:href="#st" x="1726.2" y="1465.4"/>
<use xlink:href="#st" x="1727.9" y="1465.1"/>
<use xlink:href="#st" x="1729.7" y="1465.8"/>
<use xlink:href="#st" x="1731.5" y="1466.3"/>
<use xlink:href="#st" x="1733.2" y="1466.9"/>
<use xlink:href="#st" x="1735" y="1467.1"/>
<use xlink:href="#st" x="1736.8" y="1467.2"/>
<use xlink:href="#st" x="1738.6" y="1467.6"/>
<use xlink:href="#st" x="1740.3" y="1468.7"/>
<use xlink:href="#st" x="1742.1" y="1469.5"/>
<use xlink:href="#st" x="1743.9" y="1469.6"/>
<use xlink:href="#st" x="1745.6" y="1470.3"/>
<use xlink:href="#st" x="1747.4" y="1470.8"/>
<use xlink:href="#st" x="1749.2" y="1471.9"/>
<use xlink:href="#st" x="1750.9" y="1472.5"/>
<use xlink:href="#st" x="1752.7" y="1473.8"/>
<use xlink:href="#st" x="1754.5" y="1474.5"/>
<use xlink:href="#st" x="1756.3" y="1475.3"/>
<use xlink:href="#st" x="1758" y="1476.2"/>
<use xlink:href="#st" x="1759.8" y="1477"/>
<use xlink:href="#st" x="1761.6" y="1477.9"/>
<use xlink:href="#st" x="1763.3" y="1479.5"/>
<use xlink:href="#st" x="1765.1" y="1479.9"/>
<use xlink:href="#st" x="1766.9" y="1481.6"/>
<use xlink:href="#st" x="1768.6" y="1482.7"/>
<use xlink:href="#st" x="1770.4" y="1483.6"/>
<use xlink:href="#st" x="1772.2" y="1485.7"/>
<use xlink:href="#st" x="1773.9" y="1486.8"/>
<use xlink:href="#st" x="1775.7" y="1488"/>
<use xlink:href="#st" x="1777.5" y="1489.1"/>
<use xlink:href="#st" x="1779.3" y="1490.3"/>
<use xlink:href="#st" x="1781" y="1491.8"/>
<use xlink:href="#st" x="1782.8" y="1493.7"/>
<use xlink:href="#st" x="1784.6" y="1494.8"/>
<use xlink:href="#st" x="1786.3" y="1496.6"/>
<use xlink:href="#st" x="1788.1" y="1497.8"/>
<use xlink:href="#st" x="1789.9" y="1499.8"/>
<use xlink:href="#st" x="1791.6" y="1501.2"/>
<use xlink:href="#st" x="1793.4" y="1503.3"/>
<use xlink:href="#st" x="1795.2" y="1504.7"/>
<use xlink:href="#st" x="1796.9" y="1506.9"/>
<use xlink:href="#st" x="1798.7" y="1508.3"/>
<use xlink:href="#st" x="1800.5" y="1510.5"/>
<use xlink:href="#st" x="1802.3" y="1512"/>
<use xlink:href="#st" x="1804" y="1514.1"/>
<use xlink:href="#st" x="1805.8" y="1516"/>
<use xlink:href="#st" x="1807.6" y="1517.7"/>
<use xlink:href="#st" x="1809.3" y="1519.5"/>
<use xlink:href="#st" x="1811.1" y="1521.6"/>
<use xlink:href="#st" x="1812.9" y="1523.6"/>
<use xlink:href="#st" x="1814.6" y="1525.6"/>
<use xlink:href="#st" x="1816.4" y="1527.5"/>
<use xlink:href="#st" x="1818.2" y="1529.7"/>
<use xlink:href="#st" x="1819.9" y="1531.9"/>
<use xlink:href="#st" x="1821.7" y="1533.7"/>
<use xlink:href="#st" x="1823.5" y="1536.4"/>
<use xlink:href="#st" x="1825.3" y="1538.3"/>
<use xlink:href="#st" x="1827" y="1541"/>
<use xlink:href="#st" x="1828.8" y="1542.4"/>
<use xlink:href="#st" x="1830.6" y="1545.2"/>
<use xlink:href="#st" x="1832.3" y="1547.4"/>
<use xlink:href="#st" x="1834.1" y="1549.4"/>
<use xlink:href="#st" x="1835.9" y="1552.1"/>
<use xlink:href="#st" x="1837.6" y="1554.6"/>
<use xlink:href="#st" x="1839.4" y="1557.1"/>
<use xlink:href="#st" x="1841.2" y="1559.1"/>
<use xlink:href="#st" x="1842.9" y="1561"/>
<use xlink:href="#st" x="1844.7" y="1563.8"/>
<use xlink:href="#st" x="1846.5" y="1565.9"/>
<use xlink:href="#st" x="1848.3" y="1568.5"/>
<use xlink:href="#st" x="1850" y="1571.2"/>
<use xlink:href="#st" x="1851.8" y="1573.9"/>
<use xlink:href="#st" x="1853.6" y="1576.1"/>
<use xlink:href="#st" x="1855.3" y="1578.4"/>
<use xlink:href="#st" x="1857.1" y="1581"/>
<use xlink:href="#st" x="1858.9" y="1583.4"/>
<use xlink:href="#st" x="1860.6" y="1585.8"/>
<use xlink:href="#st" x="1862.4" y="1588.6"/>
<use xlink:href="#st" x="1864.2" y="1591.3"/>
<use xlink:href="#st" x="1865.9" y="1593.6"/>
<use xlink:href="#st" x="1867.7" y="1595.9"/>
<use xlink:href="#st" x="1869.5" y="1598.8"/>
<use xlink:href="#st" x="1871.3" y="1601.4"/>
<use xlink:href="#st" x="1873" y="1603.9"/>
<use xlink:href="#st" x="1874.8" y="1606.3"/>
<use xlink:href="#st" x="1876.6" y="1608.8"/>
<use xlink:href="#st" x="1878.3" y="1611.4"/>
<use xlink:href="#st" x="1880.1" y="1614.2"/>
<use xlink:href="#st" x="1881.9" y="1616.5"/>
<use xlink:href="#st" x="1883.6" y="1619.2"/>
<use xlink:href="#st" x="1885.4" y="1621.8"/>
<use xlink:href="#st" x="1887.2" y="1624.6"/>
<use xlink:href="#st" x="1888.9" y="1627"/>
<use xlink:href="#st" x="1890.7" y="1629.5"/>
<use xlink:href="#st" x="1892.5" y="1631.9"/>
<use xlink:href="#st" x="1894.3" y="1634.4"/>
<use xlink:href="#st" x="1896" y="1637"/>
<use xlink:href="#st" x="1897.8" y="1639.5"/>
<use xlink:href="#st" x="1899.6" y="1642.4"/>
<use xlink:href="#st" x="1901.3" y="1644.5"/>
<use xlink:href="#st" x="1903.1" y="1647"/>
<use xlink:href="#st" x="1904.9" y="1649.6"/>
<use xlink:href="#st" x="1906.6" y="1652.4"/>
<use xlink:href="#st" x="1908.4" y="1654.8"/>
<use xlink:href="#st" x="1910.2" y="1657.4"/>
<use xlink:href="#st" x="1911.9" y="1660.1"/>
<use xlink:href="#st" x="1913.7" y="1662.4"/>
<use xlink:href="#st" x="1915.5" y="1665.1"/>
<use xlink:href="#st" x="1917.3" y="1667.7"/>
<use xlink:href="#st" x="1919" y="1669.6"/>
<use xlink:href="#st" x="1920.8" y="1672.1"/>
<use xlink:href="#st" x="1922.6" y="1674.5"/>
<use xlink:href="#st" x="1924.3" y="1677.2"/>
<use xlink:href="#st" x="1926.1" y="1679.5"/>
<use xlink:href="#st" x="1927.9" y="1681.8"/>
<use xlink:href="#st" x="1929.6" y="1684.4"/>
<use xlink:href="#st" x="1931.4" y="1687.2"/>
<use xlink:href="#st" x="1933.2" y="1688.6"/>
<use xlink:href="#st" x="1934.9" y="1691.2"/>
<use xlink:href="#st" x="1936.7" y="1693.5"/>
<use xlink:href="#st" x="1938.5" y="1696.1"/>
<use xlink:href="#st" x="1940.3" y="1698.6"/>
<use xlink:href="#st" x="1942" y="1700.8"/>
<use xlink:href="#st" x="1943.8" y="1703"/>
<use xlink:href="#st" x="1945.6" y="1705.6"/>
<use xlink:href="#st" x="1947.3" y="1707.7"/>
<use xlink:href="#st" x="1949.1" y="1709.7"/>
<use xlink:href="#st" x="1950.9" y="1711.7"/>
<use xlink:href="#st" x="1952.6" y="1714.2"/>
<use xlink:href="#st" x="1954.4" y="1716.6"/>
<use xlink:href="#st" x="1956.2" y="1718.9"/>
<use xlink:href="#st" x="1958" y="1720.4"/>
<use xlink:href="#st" x="1959.7" y="1722.9"/>
<use xlink:href="#st" x="1961.5" y="1724.9"/>
<use xlink:href="#st" x="1963.3" y="1727.2"/>
<use xlink:href="#st" x="1965" y="1729.6"/>
<use xlink:href="#st" x="1966.8" y="1730.9"/>
<use xlink:href="#st" x="1968.6" y="1733.3"/>
<use xlink:href="#st" x="1970.3" y="1735.2"/>
<use xlink:href="#st" x="1972.1" y="1737.6"/>
<use xlink:href="#st" x="1973.9" y="1739.5"/>
<use xlink:href="#st" x="1975.6" y="1741.2"/>
<use xlink:href="#st" x="1977.4" y="1743.5"/>
<use xlink:href="#st" x="1979.2" y="1745.5"/>
<use xlink:href="#st" x="1981" y="1747.5"/>
<use xlink:href="#st" x="1982.7" y="1749.5"/>
<use xlink:href="#st" x="1984.5" y="1750.9"/>
<use xlink:href="#st" x="1986.3" y="1752.9"/>
<use xlink:href="#st" x="1988" y="1755.2"/>
<use xlink:href="#st" x="1989.8" y="1756.3"/>
<use xlink:href="#st" x="1991.6" y="1758.1"/>
<use xlink:href="#st" x="1993.3" y="1759.9"/>
<use xlink:href="#st" x="1995.1" y="1762.4"/>
<use xlink:href="#st" x="1996.9" y="1763.7"/>
<use xlink:href="#st" x="1998.6" y="1765.1"/>
<use xlink:href="#st" x="2000.4" y="1767.4"/>
<use xlink:href="#st" x="2002.2" y="1769"/>
<use xlink:href="#st" x="2004" y="1770.5"/>
<use xlink:href="#st" x="2005.7" y="1772.6"/>
<use xlink:href="#st" x="2007.5" y="1773.7"/>
<use xlink:href="#st" x="2009.3" y="1775.1"/>
<use xlink:href="#st" x="2011" y="1776.8"/>
<use xlink:href="#st" x="2012.8" y="1778.2"/>
<use xlink:href="#st" x="2014.6" y="1780"/>
<use xlink:href="#st" x="2016.3" y="1781.6"/>
<use xlink:href="#st" x="2018.1" y="1783.1"/>
<use xlink:href="#st" x="2019.9" y="1784.8"/>
<use xlink:href="#st" x="2021.6" y="1786.3"/>
<use xlink:href="#st" x="2023.4" y="1787.7"/>
<use xlink:href="#st" x="2025.2" y="1789"/>
<use xlink:href="#st" x="2027" y="1790.5"/>
<use xlink:href="#st" x="2028.7" y="1791.7"/>
<use xlink:href="#st" x="2030.5" y="1793.1"/>
<use xlink:href="#st" x="2032.3" y="1794.4"/>
<use xlink:href="#st" x="2034" y="1796"/>
<use xlink:href="#st" x="2035.8" y="1797.6"/>
<use xlink:href="#st" x="2037.6" y="1798.7"/>
<use xlink:href="#st" x="2039.3" y="1799.3"/>
<use xlink:href="#st" x="2041.1" y="1800.9"/>
<use xlink:href="#st" x="2042.9" y="1802.4"/>
<use xlink:href="#st" x="2044.6" y="1803.6"/>
<use xlink:href="#st" x="2046.4" y="1804.8"/>
<use xlink:href="#st" x="2048.2" y="1806"/>
<use xlink:href="#st" x="2050" y="1807.1"/>
<use xlink:href="#st" x="2051.7" y="1808.1"/>
<use xlink:href="#st" x="2053.5" y="1809.2"/>
<use xlink:href="#st" x="2055.3" y="1810.7"/>
<use xlink:href="#st" x="2057" y="1811.8"/>
<use xlink:href="#st" x="2058.8" y="1812.9"/>
<use xlink:href="#st" x="2060.6" y="1813.9"/>
<use xlink:href="#st" x="2062.3" y="1814.7"/>
<use xlink:href="#st" x="2064.1" y="1816.2"/>
<use xlink:href="#st" x="2065.9" y="1816.6"/>
<use xlink:href="#st" x="2067.6" y="1818"/>
<use xlink:href="#st" x="2069.4" y="1818.9"/>
<use xlink:href="#st" x="2071.2" y="1820.3"/>
<use xlink:href="#st" x="2073" y="1821.2"/>
<use xlink:href="#st" x="2074.7" y="1822.2"/>
<use xlink:href="#st" x="2076.5" y="1823"/>
<use xlink:href="#st" x="2078.3" y="1824.4"/>
<use xlink:href="#st" x="2080" y="1824.8"/>
<use xlink:href="#st" x="2081.8" y="1826.2"/>
<use xlink:href="#st" x="2083.6" y="1826.6"/>
<use xlink:href="#st" x="2085.3" y="1827.4"/>
<use xlink:href="#st" x="2087.1" y="1828.5"/>
<use xlink:href="#st" x="2088.9" y="1829.4"/>
<use xlink:href="#st" x="2090.6" y="1830.2"/>
<use xlink:href="#st" x="2092.4" y="1831.1"/>
<use xlink:href="#st" x="2094.2" y="1831.8"/>
<use xlink:href="#st" x="2096" y="1832.5"/>
<use xlink:href="#st" x="2097.7" y="1833.3"/>
<use xlink:href="#st" x="2099.5" y="1833.9"/>
<use xlink:href="#st" x="2101.3" y="1835"/>
<use xlink:href="#st" x="2103" y="1835.9"/>
<use xlink:href="#st" x="2104.8" y="1836.7"/>
<use xlink:href="#st" x="2106.6" y="1837.6"/>
<use xlink:href="#st" x="2108.3" y="1838.2"/>
<use xlink:href="#st" x="2110.1" y="1838.9"/>
<use xlink:href="#st" x="2111.9" y="1839.1"/>
<use xlink:href="#st" x="2113.6" y="1840.1"/>
<use xlink:href="#st" x="2115.4" y="1840.6"/>
<use xlink:href="#st" x="2117.2" y="1842.1"/>
<use xlink:href="#st" x="2119" y="1842.3"/>
<use xlink:href="#st" x="2120.7" y="1842.8"/>
<use xlink:href="#st" x="2122.5" y="1843.6"/>
<use xlink:href="#st" x="2124.3" y="1844.4"/>
<use xlink:href="#st" x="2126" y="1844.9"/>
<use xlink:href="#st" x="2127.8" y="1845.6"/>
<use xlink:href="#st" x="2129.6" y="1846.2"/>
<use xlink:href="#st" x="2131.3" y="1846.8"/>
<use xlink:href="#st" x="2133.1" y="1847.2"/>
<use xlink:href="#st" x="2134.9" y="1848"/>
<use xlink:href="#st" x="2136.7" y="1848.6"/>
<use xlink:href="#st" x="2138.4" y="1849.2"/>
<use xlink:href="#st" x="2140.2" y="1849.7"/>
<use xlink:href="#st" x="2142" y="1850.5"/>
<use xlink:href="#st" x="2143.7" y="1850.8"/>
<use xlink:href="#st" x="2145.5" y="1851.5"/>
<use xlink:href="#st" x="2147.3" y="1851.8"/>
<use xlink:href="#st" x="2149" y="1852.6"/>
<use xlink:href="#st" x="2150.8" y="1853.1"/>
<use xlink:href="#st" x="2152.6" y="1853.6"/>
<use xlink:href="#st" x="2154.3" y="1854.3"/>
<use xlink:href="#st" x="2156.1" y="1854.3"/>
<use xlink:href="#st" x="2157.9" y="1855"/>
<use xlink:href="#st" x="2159.7" y="1855.5"/>
<use xlink:href="#st" x="2161.4" y="1855.7"/>
<use xlink:href="#st" x="2163.2" y="1856.5"/>
<use xlink:href="#st" x="2165" y="1856.9"/>
<use xlink:href="#st" x="2166.7" y="1857.1"/>
<use xlink:href="#st" x="2168.5" y="1857.2"/>
<use xlink:href="#st" x="2170.3" y="1858.2"/>
<use xlink:href="#st" x="2172" y="1858.3"/>
<use xlink:href="#st" x="2173.8" y="1859"/>
<use xlink:href="#st" x="2175.6" y="1859.6"/>
<use xlink:href="#st" x="2177.3" y="1859.7"/>
<use xlink:href="#st" x="2179.1" y="1859.9"/>
<use xlink:href="#st" x="2180.9" y="1860.5"/>
<use xlink:href="#st" x="2182.7" y="1860.9"/>
<use xlink:href="#st" x="2184.4" y="1861.6"/>
<use xlink:href="#st" x="2186.2" y="1862.2"/>
<use xlink:href="#st" x="2188" y="1862"/>
<use xlink:href="#st" x="2189.7" y="1862.7"/>
<use xlink:href="#st" x="2191.5" y="1862.7"/>
<use xlink:href="#st" x="2193.3" y="1863.2"/>
<use xlink:href="#st" x="2195" y="1863.3"/>
<use xlink:href="#st" x="2196.8" y="1863.5"/>
<use xlink:href="#st" x="2198.6" y="1864.3"/>
<use xlink:href="#st" x="2200.3" y="1864.3"/>
<use xlink:href="#st" x="2202.1" y="1864.6"/>
<use xlink:href="#st" x="2203.9" y="1864.6"/>
<use xlink:href="#st" x="2205.7" y="1865.1"/>
<use xlink:href="#st" x="2207.4" y="1865.6"/>
<use xlink:href="#st" x="2209.2" y="1865.8"/>
<use xlink:href="#st" x="2211" y="1865.5"/>
<use xlink:href="#st" x="2212.7" y="1866.4"/>
<use xlink:href="#st" x="2214.5" y="1866.4"/>
<use xlink:href="#st" x="2216.3" y="1866.6"/>
<use xlink:href="#st" x="2218" y="1867.1"/>
<use xlink:href="#st" x="2219.8" y="1867.3"/>
<use xlink:href="#st" x="2221.6" y="1867.8"/>
<use xlink:href="#st" x="2223.3" y="1867.7"/>
<use xlink:href="#st" x="2225.1" y="1867.6"/>
</g>
<g fill="none" stroke-width="7.5" stroke-linejoin="round" stroke-linecap="round">
<polyline stroke="#f00" points="1164.8,1781.7 1168.2,1780.6 1171.6,1779.6 1175,1778.6 1178.4,1777.6 1181.8,1776.5 1185.2,1775.5 1188.6,1774.4 1192,1773.4 1195.4,1772.3 1198.8,1771.3 1202.2,1770.2 1205.6,1769.2 1209,1768.1 1212.4,1767 1215.8,1766 1219.2,1764.9 1222.6,1763.8 1226,1762.8 1229.4,1761.7 1232.8,1760.7 1236.2,1759.6 1239.6,1758.5 1243,1757.5 1246.4,1756.5 1249.8,1755.4 1253.2,1754.4 1256.6,1753.4 1260,1752.4 1263.4,1751.3 1266.8,1750.4 1270.2,1749.4 1273.6,1748.4 1277,1747.4 1280.4,1746.5 1283.8,1745.5 1287.2,1744.6 1290.7,1743.7 1294.1,1742.8 1297.5,1742 1300.9,1741.1 1304.3,1740.3 1307.7,1739.5 1311.1,1738.7 1314.5,1737.9 1317.9,1737.2 1321.3,1736.5 1324.7,1735.8 1328.1,1735.1 1331.5,1734.5 1334.9,1733.9 1338.3,1733.3 1341.7,1732.7 1345.1,1732.2 1348.5,1731.7 1351.9,1731.3 1355.3,1730.8 1358.7,1730.4 1362.1,1730.1 1365.5,1729.7 1368.9,1729.4 1372.3,1729.2 1375.7,1729 1379.1,1728.8 1382.5,1728.6 1385.9,1728.5 1389.3,1728.4 1392.7,1728.3 1396.1,1728.3 1399.5,1728.4 1402.9,1728.4 1406.3,1728.6 1409.7,1728.7 1413.1,1729 1416.5,1729.2 1419.9,1729.5 1423.3,1729.9 1426.8,1730.3 1430.2,1730.7 1433.6,1731.2 1437,1731.7 1440.4,1732.3 1443.8,1732.9 1447.2,1733.5 1450.6,1734.2 1454,1735 1457.4,1735.7 1460.8,1736.5 1464.2,1737.3 1467.6,1738.2 1471,1739 1474.4,1740 1477.8,1740.9 1481.2,1741.9 1484.6,1742.8 1488,1743.9 1491.4,1744.9 1494.8,1745.9 1498.2,1747 1501.6,1748.1 1505,1749.2 1508.4,1750.3 1511.8,1751.5 1515.2,1752.6 1518.6,1753.8 1522,1754.9 1525.4,1756.1 1528.8,1757.3 1532.2,1758.5 1535.6,1759.7 1539,1760.9 1542.4,1762.1 1545.8,1763.3 1549.2,1764.5 1552.6,1765.7 1556,1766.9 1559.5,1768.1 1562.9,1769.3 1566.3,1770.5 1569.7,1771.7 1573.1,1772.9 1576.5,1774.1 1579.9,1775.2 1583.3,1776.4 1586.7,1777.6 1590.1,1778.7 1593.5,1779.9 1596.9,1781 1600.3,1782.2 1603.7,1783.3 1607.1,1784.4 1610.5,1785.5 1613.9,1786.6 1617.3,1787.7 1620.7,1788.8 1624.1,1789.8 1627.5,1790.9 1630.9,1791.9 1634.3,1793 1637.7,1794 1641.1,1795 1644.5,1796 1647.9,1797 1651.3,1798 1654.7,1798.9 1658.1,1799.9 1661.5,1800.8 1664.9,1801.8 1668.3,1802.7 1671.7,1803.6 1675.1,1804.5 1678.5,1805.3 1681.9,1806.2 1685.3,1807.1 1688.7,1807.9 1692.1,1808.8 1695.5,1809.6 1699,1810.4 1702.4,1811.2 1705.8,1812 1709.2,1812.8 1712.6,1813.5 1716,1814.3 1719.4,1815 1722.8,1815.8 1726.2,1816.5 1729.6,1817.2 1733,1817.9 1736.4,1818.6 1739.8,1819.3 1743.2,1819.9 1746.6,1820.6 1750,1821.3 1753.4,1821.9 1756.8,1822.5 1760.2,1823.2 1763.6,1823.8 1767,1824.4 1770.4,1825 1773.8,1825.6 1777.2,1826.2 1780.6,1826.7 1784,1827.3 1787.4,1827.8 1790.8,1828.4 1794.2,1828.9 1797.6,1829.5 1801,1830 1804.4,1830.5 1807.8,1831 1811.2,1831.5 1814.6,1832 1818,1832.5 1821.4,1832.9 1824.8,1833.4 1828.2,1833.9 1831.7,1834.3 1835.1,1834.8 1838.5,1835.2 1841.9,1835.7 1845.3,1836.1 1848.7,1836.5 1852.1,1836.9 1855.5,1837.4 1858.9,1837.8 1862.3,1838.2 1865.7,1838.5 1869.1,1838.9 1872.5,1839.3 1875.9,1839.7 1879.3,1840.1 1882.7,1840.4 1886.1,1840.8 1889.5,1841.1 1892.9,1841.5 1896.3,1841.8 1899.7,1842.2 1903.1,1842.5 1906.5,1842.9 1909.9,1843.2 1913.3,1843.5 1916.7,1843.8 1920.1,1844.1 1923.5,1844.4 1926.9,1844.7 1930.3,1845 1933.7,1845.3 1937.1,1845.6 1940.5,1845.9 1943.9,1846.2 1947.3,1846.5 1950.7,1846.8 1954.1,1847 1957.5,1847.3 1960.9,1847.6 1964.3,1847.8 1967.8,1848.1 1971.2,1848.3 1974.6,1848.6 1978,1848.8 1981.4,1849.1 1984.8,1849.3 1988.2,1849.6 1991.6,1849.8 1995,1850 1998.4,1850.2 2001.8,1850.5 2005.2,1850.7 2008.6,1850.9 2012,1851.1 2015.4,1851.3 2018.8,1851.6 2022.2,1851.8 2025.6,1852 2029,1852.2 2032.4,1852.4 2035.8,1852.6 2039.2,1852.8 2042.6,1853 2046,1853.1 2049.4,1853.3 2052.8,1853.5 2056.2,1853.7 2059.6,1853.9 2063,1854.1 2066.4,1854.2 2069.8,1854.4 2073.2,1854.6 2076.6,1854.8 2080,1854.9 2083.4,1855.1 2086.8,1855.3 2090.2,1855.4 2093.6,1855.6 2097,1855.7 2100.4,1855.9 2103.8,1856 2107.3,1856.2 2110.7,1856.4 2114.1,1856.5 2117.5,1856.6 2120.9,1856.8 2124.3,1856.9 2127.7,1857.1 2131.1,1857.2 2134.5,1857.4 2137.9,1857.5 2141.3,1857.6 2144.7,1857.8 2148.1,1857.9 2151.5,1858 2154.9,1858.2 2158.3,1858.3 2161.7,1858.4 2165.1,1858.5 2168.5,1858.7 2171.9,1858.8 2175.3,1858.9 2178.7,1859 2182.1,1859.1 2185.5,1859.3 2188.9,1859.4 2192.3,1859.5 2195.7,1859.6 2199.1,1859.7 2202.5,1859.8 2205.9,1859.9 2209.3,1860 2212.7,1860.1 2216.1,1860.3 2219.5,1860.4 2222.9,1860.5 2226.3,1860.6 2229.7,1860.7 2233.1,1860.8 2236.5,1860.9 2239.9,1861"/>
<polyline stroke="#00f" points="1110.3,1873.6 1113.7,1873.6 1117.1,1873.6 1120.5,1873.6 1123.9,1873.6 1127.3,1873.5 1130.7,1873.5 1134.1,1873.5 1137.5,1873.4 1140.9,1873.4 1144.3,1873.4 1147.7,1873.3 1151.2,1873.3 1154.6,1873.3 1158,1873.2 1161.4,1873.2 1164.8,1873.1 1168.2,1873 1171.6,1873 1175,1872.9 1178.4,1872.8 1181.8,1872.8 1185.2,1872.7 1188.6,1872.6 1192,1872.5 1195.4,1872.4 1198.8,1872.3 1202.2,1872.2 1205.6,1872.1 1209,1871.9 1212.4,1871.8 1215.8,1871.6 1219.2,1871.5 1222.6,1871.3 1226,1871.2 1229.4,1871 1232.8,1870.8 1236.2,1870.6 1239.6,1870.3 1243,1870.1 1246.4,1869.9 1249.8,1869.6 1253.2,1869.3 1256.6,1869 1260,1868.7 1263.4,1868.4 1266.8,1868.1 1270.2,1867.7 1273.6,1867.3 1277,1866.9 1280.4,1866.5 1283.8,1866 1287.2,1865.6 1290.7,1865.1 1294.1,1864.6 1297.5,1864 1300.9,1863.4 1304.3,1862.8 1307.7,1862.2 1311.1,1861.6 1314.5,1860.9 1317.9,1860.1 1321.3,1859.4 1324.7,1858.6 1328.1,1857.8 1331.5,1856.9 1334.9,1856 1338.3,1855 1341.7,1854.1 1345.1,1853 1348.5,1852 1351.9,1850.8 1355.3,1849.7 1358.7,1848.5 1362.1,1847.2 1365.5,1845.9 1368.9,1844.5 1372.3,1843.1 1375.7,1841.7 1379.1,1840.1 1382.5,1838.6 1385.9,1836.9 1389.3,1835.2 1392.7,1833.5 1396.1,1831.7 1399.5,1829.8 1402.9,1827.9 1406.3,1825.9 1409.7,1823.8 1413.1,1821.7 1416.5,1819.5 1419.9,1817.2 1423.3,1814.9 1426.8,1812.5 1430.2,1810 1433.6,1807.5 1437,1804.9 1440.4,1802.2 1443.8,1799.5 1447.2,1796.7 1450.6,1793.8 1454,1790.8 1457.4,1787.8 1460.8,1784.7 1464.2,1781.5 1467.6,1778.3 1471,1775 1474.4,1771.6 1477.8,1768.2 1481.2,1764.7 1484.6,1761.1 1488,1757.5 1491.4,1753.8 1494.8,1750.1 1498.2,1746.3 1501.6,1742.4 1505,1738.5 1508.4,1734.5 1511.8,1730.4 1515.2,1726.3 1518.6,1722.2 1522,1718 1525.4,1713.8 1528.8,1709.5 1532.2,1705.2 1535.6,1700.9 1539,1696.5 1542.4,1692.1 1545.8,1687.7 1549.2,1683.3 1552.6,1678.8 1556,1674.3 1559.5,1669.9 1562.9,1665.4 1566.3,1660.9 1569.7,1656.4 1573.1,1651.9 1576.5,1647.4 1579.9,1643 1583.3,1638.5 1586.7,1634.1 1590.1,1629.7 1593.5,1625.3 1596.9,1621 1600.3,1616.7 1603.7,1612.5 1607.1,1608.3 1610.5,1604.1 1613.9,1600.1 1617.3,1596 1620.7,1592.1 1624.1,1588.2 1627.5,1584.4 1630.9,1580.7 1634.3,1577.1 1637.7,1573.5 1641.1,1570.1 1644.5,1566.7 1647.9,1563.5 1651.3,1560.4 1654.7,1557.3 1658.1,1554.4 1661.5,1551.6 1664.9,1549 1668.3,1546.4 1671.7,1544 1675.1,1541.7 1678.5,1539.6 1681.9,1537.6 1685.3,1535.7 1688.7,1534 1692.1,1532.4 1695.5,1531 1699,1529.7 1702.4,1528.5 1705.8,1527.6 1709.2,1526.7 1712.6,1526.1 1716,1525.6 1719.4,1525.2 1722.8,1525 1726.2,1524.9 1729.6,1525.1 1733,1525.3 1736.4,1525.8 1739.8,1526.4 1743.2,1527.2 1746.6,1528.1 1750,1529.2 1753.4,1530.4 1756.8,1531.8 1760.2,1533.4 1763.6,1535.1 1767,1536.9 1770.4,1538.9 1773.8,1541.1 1777.2,1543.4 1780.6,1545.8 1784,1548.4 1787.4,1551 1790.8,1553.9 1794.2,1556.8 1797.6,1559.9 1801,1563 1804.4,1566.3 1807.8,1569.7 1811.2,1573.2 1814.6,1576.8 1818,1580.5 1821.4,1584.3 1824.8,1588.1 1828.2,1592.1 1831.7,1596.1 1835.1,1600.2 1838.5,1604.3 1841.9,1608.6 1845.3,1612.8 1848.7,1617.1 1852.1,1621.5 1855.5,1625.9 1858.9,1630.4 1862.3,1634.8 1865.7,1639.3 1869.1,1643.9 1872.5,1648.4 1875.9,1653 1879.3,1657.5 1882.7,1662.1 1886.1,1666.6 1889.5,1671.2 1892.9,1675.8 1896.3,1680.3 1899.7,1684.8 1903.1,1689.3 1906.5,1693.8 1909.9,1698.3 1913.3,1702.7 1916.7,1707.1 1920.1,1711.4 1923.5,1715.7 1926.9,1720 1930.3,1724.2 1933.7,1728.4 1937.1,1732.5 1940.5,1736.6 1943.9,1740.6 1947.3,1744.5 1950.7,1748.4 1954.1,1752.3 1957.5,1756 1960.9,1759.7 1964.3,1763.4 1967.8,1767 1971.2,1770.5 1974.6,1773.9 1978,1777.3 1981.4,1780.6 1984.8,1783.8 1988.2,1786.9 1991.6,1790 1995,1793 1998.4,1796 2001.8,1798.8 2005.2,1801.6 2008.6,1804.3 2012,1807 2015.4,1809.6 2018.8,1812.1 2022.2,1814.5 2025.6,1816.9 2029,1819.1 2032.4,1821.4 2035.8,1823.5 2039.2,1825.6 2042.6,1827.6 2046,1829.6 2049.4,1831.5 2052.8,1833.3 2056.2,1835.1 2059.6,1836.8 2063,1838.5 2066.4,1840 2069.8,1841.6 2073.2,1843 2076.6,1844.5 2080,1845.8 2083.4,1847.2 2086.8,1848.4 2090.2,1849.6 2093.6,1850.8 2097,1851.9 2100.4,1853 2103.8,1854 2107.3,1855 2110.7,1856 2114.1,1856.9 2117.5,1857.7 2120.9,1858.6 2124.3,1859.3 2127.7,1860.1 2131.1,1860.8 2134.5,1861.5 2137.9,1862.2 2141.3,1862.8 2144.7,1863.4 2148.1,1863.9 2151.5,1864.5 2154.9,1865 2158.3,1865.5 2161.7,1866 2165.1,1866.4 2168.5,1866.8 2171.9,1867.2 2175.3,1867.6 2178.7,1867.9 2182.1,1868.3 2185.5,1868.6 2188.9,1868.9 2192.3,1869.2 2195.7,1869.5 2199.1,1869.7 2202.5,1869.9 2205.9,1870.2 2209.3,1870.4 2212.7,1870.6 2216.1,1870.8 2219.5,1871 2222.9,1871.1 2226.3,1871.3 2229.7,1871.4 2233.1,1871.6 2236.5,1871.7 2239.9,1871.8"/>
<polyline stroke="#0f0" points="266.5,1864.1 269.9,1864 273.3,1864 276.7,1863.9 280.1,1863.9 283.5,1863.8 286.9,1863.8 290.3,1863.7 293.7,1863.7 297.1,1863.6 300.5,1863.5 303.9,1863.5 307.3,1863.4 310.7,1863.4 314.1,1863.3 317.5,1863.3 320.9,1863.2 324.3,1863.1 327.7,1863.1 331.1,1863 334.6,1863 338,1862.9 341.4,1862.8 344.8,1862.8 348.2,1862.7 351.6,1862.7 355,1862.6 358.4,1862.5 361.8,1862.5 365.2,1862.4 368.6,1862.3 372,1862.3 375.4,1862.2 378.8,1862.1 382.2,1862.1 385.6,1862 389,1861.9 392.4,1861.9 395.8,1861.8 399.2,1861.7 402.6,1861.6 406,1861.6 409.4,1861.5 412.8,1861.4 416.2,1861.3 419.6,1861.3 423,1861.2 426.4,1861.1 429.8,1861 433.2,1861 436.6,1860.9 440,1860.8 443.4,1860.7 446.8,1860.6 450.2,1860.6 453.6,1860.5 457,1860.4 460.4,1860.3 463.8,1860.2 467.2,1860.1 470.6,1860 474.1,1860 477.5,1859.9 480.9,1859.8 484.3,1859.7 487.7,1859.6 491.1,1859.5 494.5,1859.4 497.9,1859.3 501.3,1859.2 504.7,1859.1 508.1,1859 511.5,1858.9 514.9,1858.8 518.3,1858.7 521.7,1858.6 525.1,1858.5 528.5,1858.4 531.9,1858.3 535.3,1858.2 538.7,1858.1 542.1,1858 545.5,1857.9 548.9,1857.8 552.3,1857.7 555.7,1857.5 559.1,1857.4 562.5,1857.3 565.9,1857.2 569.3,1857.1 572.7,1857 576.1,1856.8 579.5,1856.7 582.9,1856.6 586.3,1856.5 589.7,1856.3 593.1,1856.2 596.5,1856.1 599.9,1856 603.3,1855.8 606.8,1855.7 610.2,1855.5 613.6,1855.4 617,1855.3 620.4,1855.1 623.8,1855 627.2,1854.8 630.6,1854.7 634,1854.6 637.4,1854.4 640.8,1854.3 644.2,1854.1 647.6,1854 651,1853.8 654.4,1853.6 657.8,1853.5 661.2,1853.3 664.6,1853.2 668,1853 671.4,1852.8 674.8,1852.7 678.2,1852.5 681.6,1852.3 685,1852.1 688.4,1852 691.8,1851.8 695.2,1851.6 698.6,1851.4 702,1851.2 705.4,1851 708.8,1850.8 712.2,1850.6 715.6,1850.4 719,1850.2 722.4,1850 725.8,1849.8 729.2,1849.6 732.6,1849.4 736,1849.2 739.4,1849 742.9,1848.8 746.3,1848.6 749.7,1848.3 753.1,1848.1 756.5,1847.9 759.9,1847.6 763.3,1847.4 766.7,1847.2 770.1,1846.9 773.5,1846.7 776.9,1846.4 780.3,1846.2 783.7,1845.9 787.1,1845.7 790.5,1845.4 793.9,1845.1 797.3,1844.9 800.7,1844.6 804.1,1844.3 807.5,1844 810.9,1843.8 814.3,1843.5 817.7,1843.2 821.1,1842.9 824.5,1842.6 827.9,1842.3 831.3,1842 834.7,1841.6 838.1,1841.3 841.5,1841 844.9,1840.7 848.3,1840.4 851.7,1840 855.1,1839.7 858.5,1839.3 861.9,1839 865.3,1838.6 868.7,1838.3 872.1,1837.9 875.5,1837.5 879,1837.2 882.4,1836.8 885.8,1836.4 889.2,1836 892.6,1835.6 896,1835.2 899.4,1834.8 902.8,1834.4 906.2,1834 909.6,1833.6 913,1833.1 916.4,1832.7 919.8,1832.3 923.2,1831.8 926.6,1831.4 930,1830.9 933.4,1830.4 936.8,1830 940.2,1829.5 943.6,1829 947,1828.5 950.4,1828 953.8,1827.5 957.2,1827 960.6,1826.5 964,1825.9 967.4,1825.4 970.8,1824.9 974.2,1824.3 977.6,1823.8 981,1823.2 984.4,1822.6 987.8,1822.1 991.2,1821.5 994.6,1820.9 998,1820.3 1001.4,1819.7 1004.8,1819.1 1008.2,1818.4 1011.6,1817.8 1015,1817.2 1018.5,1816.5 1021.9,1815.9 1025.3,1815.2 1028.7,1814.5 1032.1,1813.8 1035.5,1813.1 1038.9,1812.4 1042.3,1811.7 1045.7,1811 1049.1,1810.3 1052.5,1809.5 1055.9,1808.8 1059.3,1808 1062.7,1807.3 1066.1,1806.5 1069.5,1805.7 1072.9,1804.9 1076.3,1804.1 1079.7,1803.3 1083.1,1802.5 1086.5,1801.7 1089.9,1800.8 1093.3,1800 1096.7,1799.1 1100.1,1798.2 1103.5,1797.3 1106.9,1796.5 1110.3,1795.6 1113.7,1794.6 1117.1,1793.7 1120.5,1792.8 1123.9,1791.8 1127.3,1790.9 1130.7,1789.9 1134.1,1789 1137.5,1788 1140.9,1787 1144.3,1786 1147.7,1785 1151.2,1783.9 1154.6,1782.9 1158,1781.9 1161.4,1780.8 1164.8,1779.8 1168.2,1778.7 1171.6,1777.6 1175,1776.5 1178.4,1775.4 1181.8,1774.3 1185.2,1773.2 1188.6,1772 1192,1770.9 1195.4,1769.7 1198.8,1768.6 1202.2,1767.4 1205.6,1766.2 1209,1765 1212.4,1763.8 1215.8,1762.6 1219.2,1761.4 1222.6,1760.2 1226,1758.9 1229.4,1757.7 1232.8,1756.4 1236.2,1755.2 1239.6,1753.9 1243,1752.6 1246.4,1751.3 1249.8,1750 1253.2,1748.7 1256.6,1747.4 1260,1746.1 1263.4,1744.8 1266.8,1743.4 1270.2,1742.1 1273.6,1740.7 1277,1739.3 1280.4,1738 1283.8,1736.6 1287.2,1735.2 1290.7,1733.8 1294.1,1732.4 1297.5,1731 1300.9,1729.6 1304.3,1728.1 1307.7,1726.7 1311.1,1725.3 1314.5,1723.8 1317.9,1722.3 1321.3,1720.9 1324.7,1719.4 1328.1,1717.9 1331.5,1716.4 1334.9,1714.9 1338.3,1713.3 1341.7,1711.8 1345.1,1710.2 1348.5,1708.7 1351.9,1707.1 1355.3,1705.5 1358.7,1703.9 1362.1,1702.3 1365.5,1700.6 1368.9,1699 1372.3,1697.3 1375.7,1695.6 1379.1,1693.9 1382.5,1692.2 1385.9,1690.4 1389.3,1688.6 1392.7,1686.8 1396.1,1685 1399.5,1683.2 1402.9,1681.3 1406.3,1679.4 1409.7,1677.5 1413.1,1675.6 1416.5,1673.7 1419.9,1671.7 1423.3,1669.8 1426.8,1667.8 1430.2,1665.7 1433.6,1663.7 1437,1661.6 1440.4,1659.5 1443.8,1657.4 1447.2,1655.2 1450.6,1653 1454,1650.8 1457.4,1648.5 1460.8,1646.2 1464.2,1643.9 1467.6,1641.5 1471,1639.1 1474.4,1636.6 1477.8,1634.1 1481.2,1631.6 1484.6,1629 1488,1626.4 1491.4,1623.7 1494.8,1621 1498.2,1618.3 1501.6,1615.5 1505,1612.7 1508.4,1609.8 1511.8,1606.9 1515.2,1604 1518.6,1601 1522,1598 1525.4,1594.9 1528.8,1591.8 1532.2,1588.7 1535.6,1585.6 1539,1582.4 1542.4,1579.2 1545.8,1576 1549.2,1572.8 1552.6,1569.5 1556,1566.2 1559.5,1563 1562.9,1559.7 1566.3,1556.4 1569.7,1553.1 1573.1,1549.8 1576.5,1546.5 1579.9,1543.2 1583.3,1539.9 1586.7,1536.7 1590.1,1533.4 1593.5,1530.2 1596.9,1527 1600.3,1523.9 1603.7,1520.8 1607.1,1517.7 1610.5,1514.7 1613.9,1511.7 1617.3,1508.7 1620.7,1505.9 1624.1,1503.1 1627.5,1500.3 1630.9,1497.6 1634.3,1495 1637.7,1492.5 1641.1,1490.1 1644.5,1487.7 1647.9,1485.5 1651.3,1483.3 1654.7,1481.3 1658.1,1479.3 1661.5,1477.5 1664.9,1475.7 1668.3,1474.1 1671.7,1472.6 1675.1,1471.2 1678.5,1469.9 1681.9,1468.8 1685.3,1467.8 1688.7,1466.9 1692.1,1466.1 1695.5,1465.5 1699,1465.1 1702.4,1464.7 1705.8,1464.5 1709.2,1464.5 1712.6,1464.6 1716,1464.8 1719.4,1465.2 1722.8,1465.7 1726.2,1466.4 1729.6,1467.3 1733,1468.2 1736.4,1469.4 1739.8,1470.7 1743.2,1472.1 1746.6,1473.7 1750,1475.4 1753.4,1477.3 1756.8,1479.4 1760.2,1481.5 1763.6,1483.9 1767,1486.3 1770.4,1488.9 1773.8,1491.7 1777.2,1494.5 1780.6,1497.5 1784,1500.6 1787.4,1503.9 1790.8,1507.2 1794.2,1510.7 1797.6,1514.3 1801,1518 1804.4,1521.8 1807.8,1525.7 1811.2,1529.7 1814.6,1533.8 1818,1538 1821.4,1542.2 1824.8,1546.6 1828.2,1551 1831.7,1555.4 1835.1,1560 1838.5,1564.6 1841.9,1569.2 1845.3,1573.9 1848.7,1578.7 1852.1,1583.5 1855.5,1588.3 1858.9,1593.1 1862.3,1598 1865.7,1602.9 1869.1,1607.8 1872.5,1612.7 1875.9,1617.7 1879.3,1622.6 1882.7,1627.5 1886.1,1632.4 1889.5,1637.4 1892.9,1642.3 1896.3,1647.1 1899.7,1652 1903.1,1656.9 1906.5,1661.7 1909.9,1666.4 1913.3,1671.2 1916.7,1675.9 1920.1,1680.5 1923.5,1685.2 1926.9,1689.7 1930.3,1694.3 1933.7,1698.7 1937.1,1703.1 1940.5,1707.5 1943.9,1711.8 1947.3,1716 1950.7,1720.2 1954.1,1724.3 1957.5,1728.3 1960.9,1732.3 1964.3,1736.2 1967.8,1740 1971.2,1743.8 1974.6,1747.5 1978,1751.1 1981.4,1754.6 1984.8,1758.1 1988.2,1761.5 1991.6,1764.8 1995,1768 1998.4,1771.2 2001.8,1774.3 2005.2,1777.3 2008.6,1780.2 2012,1783.1 2015.4,1785.9 2018.8,1788.6 2022.2,1791.3 2025.6,1793.8 2029,1796.3 2032.4,1798.7 2035.8,1801.1 2039.2,1803.4 2042.6,1805.6 2046,1807.7 2049.4,1809.8 2052.8,1811.8 2056.2,1813.8 2059.6,1815.7 2063,1817.5 2066.4,1819.3 2069.8,1821 2073.2,1822.6 2076.6,1824.2 2080,1825.8 2083.4,1827.2 2086.8,1828.7 2090.2,1830.1 2093.6,1831.4 2097,1832.7 2100.4,1833.9 2103.8,1835.1 2107.3,1836.2 2110.7,1837.3 2114.1,1838.4 2117.5,1839.4 2120.9,1840.3 2124.3,1841.3 2127.7,1842.2 2131.1,1843 2134.5,1843.9 2137.9,1844.7 2141.3,1845.4 2144.7,1846.1 2148.1,1846.8 2151.5,1847.5 2154.9,1848.2 2158.3,1848.8 2161.7,1849.4 2165.1,1849.9 2168.5,1850.5 2171.9,1851 2175.3,1851.5 2178.7,1852 2182.1,1852.4 2185.5,1852.9 2188.9,1853.3 2192.3,1853.7 2195.7,1854.1 2199.1,1854.4 2202.5,1854.8 2205.9,1855.1 2209.3,1855.4 2212.7,1855.7 2216.1,1856 2219.5,1856.3 2222.9,1856.6 2226.3,1856.9 2229.7,1857.1 2233.1,1857.4 2236.5,1857.6 2239.9,1857.8"/>
</g>
<g fill="#000"><rect x="272.3" y="94.9" width="7.6" height="737.1"/><rect x="272.3" y="825" width="2048.6" height="7"/><rect x="246" y="825" width="26.8" height="7"/><rect x="260.8" y="752" width="12" height="7"/><rect x="246" y="679" width="26.8" height="7"/><rect x="260.8" y="606" width="12" height="7"/><rect x="246" y="533" width="26.8" height="7"/><rect x="260.8" y="459.9" width="12" height="7"/><rect x="246" y="386.9" width="26.8" height="7"/><rect x="260.8" y="313.9" width="12" height="7"/><rect x="246" y="240.9" width="26.8" height="7"/><rect x="260.8" y="167.9" width="12" height="7"/><rect x="246" y="94.9" width="26.8" height="7"/><rect x="272.3" y="831.9" width="7.6" height="25"/><rect x="442.4" y="831.9" width="7.6" height="11"/><rect x="612.5" y="831.9" width="7.6" height="25"/><rect x="782.6" y="831.9" width="7.6" height="11"/><rect x="952.6" y="831.9" width="7.6" height="25"/><rect x="1122.7" y="831.9" width="7.6" height="11"/><rect x="1292.8" y="831.9" width="7.6" height="25"/><rect x="1462.9" y="831.9" width="7.6" height="11"/><rect x="1633" y="831.9" width="7.6" height="25"/><rect x="1803" y="831.9" width="7.6" height="11"/><rect x="1973.1" y="831.9" width="7.6" height="25"/><rect x="2143.2" y="831.9" width="7.6" height="11"/><rect x="2313.3" y="831.9" width="7.6" height="25"/></g>
<g fill="#000"><rect x="262.7" y="1141.5" width="7.6" height="737"/><rect x="262.7" y="1871.5" width="2049.1" height="7"/><rect x="236.4" y="1871.5" width="26.8" height="7"/><rect x="251.2" y="1798.5" width="12" height="7"/><rect x="236.4" y="1725.5" width="26.8" height="7"/><rect x="251.2" y="1652.5" width="12" height="7"/><rect x="236.4" y="1579.5" width="26.8" height="7"/><rect x="251.2" y="1506.5" width="12" height="7"/><rect x="236.4" y="1433.5" width="26.8" height="7"/><rect x="251.2" y="1360.5" width="12" height="7"/><rect x="236.4" y="1287.5" width="26.8" height="7"/><rect x="251.2" y="1214.5" width="12" height="7"/><rect x="236.4" y="1141.5" width="26.8" height="7"/><rect x="262.7" y="1878.4" width="7.6" height="25"/><rect x="432.8" y="1878.4" width="7.6" height="11"/><rect x="603" y="1878.4" width="7.6" height="25"/><rect x="773.1" y="1878.4" width="7.6" height="11"/><rect x="943.2" y="1878.4" width="7.6" height="25"/><rect x="1113.3" y="1878.4" width="7.6" height="11"/><rect x="1283.5" y="1878.4" width="7.6" height="25"/><rect x="1453.6" y="1878.4" width="7.6" height="11"/><rect x="1623.7" y="1878.4" width="7.6" height="25"/><rect x="1793.8" y="1878.4" width="7.6" height="11"/><rect x="1964" y="1878.4" width="7.6" height="25"/><rect x="2134.1" y="1878.4" width="7.6" height="11"/><rect x="2304.2" y="1878.4" width="7.6" height="25"/></g>
<use xlink:href="#st" x="417.2" y="338.2" />
<g stroke-width="7.4" stroke-linecap="round"><line x1="321" y1="444.2" x2="513" y2="444.2" stroke="#f00"/><line x1="321" y1="550.6" x2="513" y2="550.6" stroke="#00f"/><line x1="321" y1="657.2" x2="513" y2="657.2" stroke="#0f0"/></g>
<g font-family="'Liberation Sans', Arial, sans-serif" font-size="64" font-weight="bold" fill="#000"><text x="225.6" y="846.1" text-anchor="end">0.0</text><text x="225.6" y="700.1" text-anchor="end">0.2</text><text x="225.6" y="554.1" text-anchor="end">0.4</text><text x="225.6" y="408" text-anchor="end">0.6</text><text x="225.6" y="262" text-anchor="end">0.8</text><text x="225.6" y="116" text-anchor="end">1.0</text><text x="276.1" y="925" text-anchor="middle">100</text><text x="616.3" y="925" text-anchor="middle">125</text><text x="956.4" y="925" text-anchor="middle">150</text><text x="1296.6" y="925" text-anchor="middle">175</text><text x="1636.8" y="925" text-anchor="middle">200</text><text x="1976.9" y="925" text-anchor="middle">225</text><text x="2317.1" y="925" text-anchor="middle">250</text><text x="217.2" y="1892.6" text-anchor="end">0.0</text><text x="217.2" y="1746.6" text-anchor="end">0.2</text><text x="217.2" y="1600.6" text-anchor="end">0.4</text><text x="217.2" y="1454.6" text-anchor="end">0.6</text><text x="217.2" y="1308.6" text-anchor="end">0.8</text><text x="217.2" y="1162.6" text-anchor="end">1.0</text><text x="266.5" y="1971.5" text-anchor="middle">100</text><text x="606.8" y="1971.5" text-anchor="middle">125</text><text x="947" y="1971.5" text-anchor="middle">150</text><text x="1287.2" y="1971.5" text-anchor="middle">175</text><text x="1627.5" y="1971.5" text-anchor="middle">200</text><text x="1967.8" y="1971.5" text-anchor="middle">225</text><text x="2308" y="1971.5" text-anchor="middle">250</text></g>
<text x="311.1" y="170.5" font-family="'Liberation Sans', Arial, sans-serif" font-size="87.5" font-weight="bold" fill="#000" textLength="1065.9" lengthAdjust="spacing">Curing cycle in oven (FR3)</text>
<text x="2264.5" y="162.7" font-family="'Liberation Sans', Arial, sans-serif" font-size="96" font-weight="bold" fill="#000" textLength="50.1" lengthAdjust="spacingAndGlyphs">a</text>
<text x="1666.6" y="308.1" font-family="'Liberation Sans', Arial, sans-serif" font-size="96" font-weight="bold" fill="#f00" textLength="53.5" lengthAdjust="spacingAndGlyphs">T</text>
<text x="1720" y="332.3" font-family="'Liberation Sans', Arial, sans-serif" font-size="62" font-weight="bold" fill="#f00" textLength="169.4" lengthAdjust="spacing">peak1</text>
<text x="1923.3" y="307.8" font-family="'Liberation Sans', Arial, sans-serif" font-size="96" font-weight="bold" fill="#f00" textLength="358" lengthAdjust="spacing">= 167 °C</text>
<text x="1679.4" y="453.1" font-family="'Liberation Sans', Arial, sans-serif" font-size="96" font-weight="bold" fill="#00f" textLength="53.5" lengthAdjust="spacingAndGlyphs">T</text>
<text x="1733.4" y="479" font-family="'Liberation Sans', Arial, sans-serif" font-size="62" font-weight="bold" fill="#00f" textLength="176.3" lengthAdjust="spacing">peak2</text>
<text x="1935.4" y="453" font-family="'Liberation Sans', Arial, sans-serif" font-size="96" font-weight="bold" fill="#00f" textLength="358.8" lengthAdjust="spacing">= 188 °C</text>
<text x="537" y="368" font-family="'Liberation Sans', Arial, sans-serif" font-size="88" font-weight="bold" fill="#000" textLength="373.3" lengthAdjust="spacing">Real data</text>
<text x="536.8" y="474.9" font-family="'Liberation Sans', Arial, sans-serif" font-size="88" font-weight="bold" fill="#000" textLength="380.5" lengthAdjust="spacing">Fit peak 1</text>
<text x="536.7" y="580.8" font-family="'Liberation Sans', Arial, sans-serif" font-size="88" font-weight="bold" fill="#000" textLength="390.2" lengthAdjust="spacing">Fit peak 2</text>
<text x="536.7" y="687.5" font-family="'Liberation Sans', Arial, sans-serif" font-size="88" font-weight="bold" fill="#000" textLength="395.7" lengthAdjust="spacing">Peak sum</text>
<text x="982.3" y="1034.9" font-family="'Liberation Sans', Arial, sans-serif" font-size="80" font-weight="bold" fill="#000" textLength="629.9" lengthAdjust="spacing">Temperature (°C)</text>
<text x="293.9" y="1220.8" font-family="'Liberation Sans', Arial, sans-serif" font-size="88" font-weight="bold" fill="#000" textLength="991.7" lengthAdjust="spacing">Electro-curing cycle (E3)</text>
<text x="2260.5" y="1242" font-family="'Liberation Sans', Arial, sans-serif" font-size="97" font-weight="bold" fill="#000" textLength="60.7" lengthAdjust="spacingAndGlyphs">b</text>
<text x="770.2" y="1456.1" font-family="'Liberation Sans', Arial, sans-serif" font-size="96" font-weight="bold" fill="#f00" textLength="53.8" lengthAdjust="spacingAndGlyphs">T</text>
<text x="825" y="1481.3" font-family="'Liberation Sans', Arial, sans-serif" font-size="62" font-weight="bold" fill="#f00" textLength="169.2" lengthAdjust="spacing">peak1</text>
<text x="1026.9" y="1456" font-family="'Liberation Sans', Arial, sans-serif" font-size="96" font-weight="bold" fill="#f00" textLength="358.8" lengthAdjust="spacing">= 182 °C</text>
<text x="770.4" y="1602" font-family="'Liberation Sans', Arial, sans-serif" font-size="96" font-weight="bold" fill="#00f" textLength="54.9" lengthAdjust="spacingAndGlyphs">T</text>
<text x="825.7" y="1626.8" font-family="'Liberation Sans', Arial, sans-serif" font-size="62" font-weight="bold" fill="#00f" textLength="176.3" lengthAdjust="spacing">peak2</text>
<text x="1027.7" y="1601.6" font-family="'Liberation Sans', Arial, sans-serif" font-size="96" font-weight="bold" fill="#00f" textLength="358.8" lengthAdjust="spacing">= 207 °C</text>
<text x="972.7" y="2075.5" font-family="'Liberation Sans', Arial, sans-serif" font-size="80" font-weight="bold" fill="#000" textLength="630.1" lengthAdjust="spacing">Temperature (°C)</text>
<text transform="translate(104.2 608.9) rotate(-90)" x="0" y="0" font-family="'Liberation Sans', Arial, sans-serif" font-size="80" font-weight="bold" textLength="293" lengthAdjust="spacingAndGlyphs">Tan <tspan font-family="'Liberation Serif', 'Times New Roman', serif" font-weight="normal">δ</tspan> (/)</text>
<text transform="translate(95 1654) rotate(-90)" x="0" y="0" font-family="'Liberation Sans', Arial, sans-serif" font-size="80" font-weight="bold" textLength="291.4" lengthAdjust="spacingAndGlyphs">Tan <tspan font-family="'Liberation Serif', 'Times New Roman', serif" font-weight="normal">δ</tspan> (/)</text>
</svg></body></html>
